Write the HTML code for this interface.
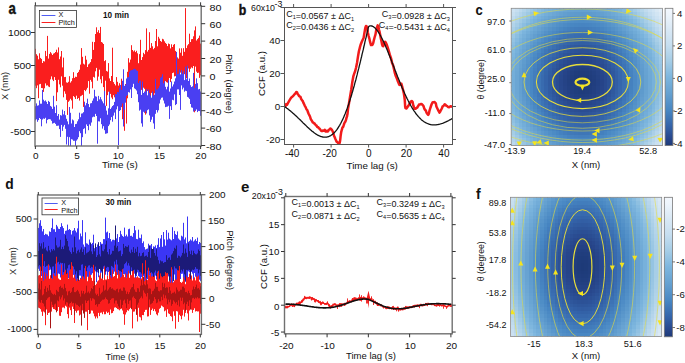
<!DOCTYPE html><html><head><meta charset="utf-8"><style>html,body{margin:0;padding:0;background:#fff;width:685px;height:363px;overflow:hidden}svg{display:block}text{font-family:"Liberation Sans",sans-serif}</style></head><body><svg width="685" height="363" viewBox="0 0 685 363"><clipPath id="ca"><rect x="35.0" y="5.8" width="166.2" height="140.2"/></clipPath><g clip-path="url(#ca)"><path d="M35.5 48.8V85.7M36.5 54.2V88.2M37.5 55.7V85.4M38.5 59.3V98.2M39.5 53.3V84.3M40.5 57.9V83.9M41.5 58.9V88.0M42.5 63.0V88.2M43.5 61.1V91.9M44.5 61.5V88.3M45.5 50.9V83.4M46.5 56.1V85.6M47.5 35.9V85.3M48.5 58.6V86.5M49.5 53.9V87.1M50.5 52.1V79.4M51.5 53.4V76.4M52.5 55.0V79.6M53.5 53.6V81.1M54.5 53.1V77.1M55.5 52.0V80.0M56.5 49.7V101.1M57.5 52.5V92.3M58.5 47.4V79.8M59.5 59.2V84.4M60.5 56.5V87.3M61.5 51.0V76.4M62.5 67.4V85.7M63.5 57.6V97.3M64.5 77.1V91.3M65.5 76.9V93.8M66.5 82.4V99.9M67.5 82.8V114.9M68.5 81.8V101.8M69.5 76.2V100.6M70.5 82.6V98.8M71.5 81.2V100.4M72.5 78.2V108.7M73.5 72.2V96.1M74.5 77.9V97.2M75.5 76.7V99.0M76.5 76.9V95.7M77.5 73.0V99.0M78.5 71.9V98.0M79.5 69.8V100.6M80.5 64.6V96.3M81.5 48.1V95.7M82.5 56.8V94.9M83.5 63.7V106.9M84.5 64.5V90.0M85.5 55.8V91.2M86.5 59.7V89.6M87.5 67.0V87.8M88.5 64.4V81.1M89.5 63.5V93.7M90.5 62.1V79.9M91.5 59.1V81.7M92.5 41.8V88.3M93.5 49.9V76.9M94.5 42.1V77.6M95.5 34.0V71.3M96.5 27.3V67.9M97.5 32.2V80.7M98.5 30.2V76.6M99.5 33.1V69.7M100.5 26.9V79.3M101.5 42.0V83.3M102.5 42.7V76.2M103.5 44.0V87.1M104.5 61.1V96.9M105.5 60.2V80.7M106.5 70.9V105.9M107.5 71.6V95.2M108.5 63.1V91.7M109.5 78.4V93.9M110.5 81.0V93.9M111.5 76.0V97.5M112.5 47.7V99.2M113.5 82.1V95.2M114.5 83.9V97.3M115.5 85.4V98.0M116.5 77.1V99.7M117.5 81.8V99.6M118.5 85.6V100.7M119.5 83.2V97.3M120.5 88.3V100.7M121.5 78.7V107.1M122.5 89.1V119.2M123.5 81.4V100.8M124.5 86.6V130.8M125.5 84.0V102.2M126.5 79.6V123.6M127.5 71.8V98.3M128.5 58.2V84.1M129.5 62.5V77.8M130.5 59.6V76.3M131.5 45.2V78.6M132.5 50.0V84.7M133.5 51.4V71.2M134.5 50.4V75.0M135.5 52.1V79.5M136.5 50.8V85.5M137.5 53.3V84.4M138.5 63.2V94.0M139.5 54.1V89.6M140.5 39.8V96.5M141.5 60.0V89.9M142.5 57.1V99.5M143.5 52.8V87.7M144.5 54.2V88.8M145.5 50.1V114.7M146.5 28.4V95.6M147.5 51.6V91.0M148.5 49.9V95.7M149.5 32.2V94.7M150.5 47.9V105.6M151.5 43.1V92.9M152.5 46.3V109.5M153.5 49.2V96.8M154.5 47.9V93.4M155.5 41.0V98.4M156.5 29.0V99.8M157.5 46.3V106.5M158.5 36.8V88.6M159.5 38.6V86.0M160.5 41.0V95.0M161.5 41.8V87.8M162.5 38.8V87.7M163.5 39.4V83.9M164.5 41.3V85.2M165.5 42.9V81.2M166.5 43.9V82.2M167.5 46.1V82.7M168.5 43.5V82.4M169.5 44.1V78.0M170.5 48.4V82.1M171.5 44.3V78.9M172.5 47.0V73.1M173.5 44.8V72.6M174.5 44.0V76.4M175.5 50.9V76.1M176.5 52.4V93.9M177.5 57.4V75.5M178.5 58.6V75.2M179.5 48.4V72.1M180.5 52.7V72.6M181.5 48.3V76.3M182.5 55.8V75.0M183.5 48.2V74.4M184.5 51.8V74.2M185.5 8.1V68.1M186.5 48.1V78.3M187.5 45.4V69.2M188.5 44.1V68.5M189.5 33.7V71.9M190.5 42.0V68.8M191.5 39.2V67.4M192.5 39.0V68.2M193.5 36.3V66.0M194.5 30.4V112.3M195.5 26.4V66.6M196.5 40.5V71.7M197.5 39.1V73.0M198.5 37.9V72.7M199.5 35.6V77.9M200.5 43.6V75.3" stroke="#fa1e1e" stroke-width="1.0" fill="none"/><path d="M35.5 106.2V120.4M36.5 103.4V119.3M37.5 105.7V121.8M38.5 105.3V120.1M39.5 100.4V118.0M40.5 103.7V119.0M41.5 103.7V126.3M42.5 89.9V119.5M43.5 99.7V118.5M44.5 101.2V118.9M45.5 100.4V117.8M46.5 101.8V123.4M47.5 104.0V119.9M48.5 100.9V119.2M49.5 101.9V119.1M50.5 105.9V119.4M51.5 106.7V120.8M52.5 108.9V123.6M53.5 95.8V123.2M54.5 106.7V122.8M55.5 113.0V123.9M56.5 105.2V125.8M57.5 115.9V125.8M58.5 114.0V125.6M59.5 119.6V129.1M60.5 115.1V136.9M61.5 115.6V124.9M62.5 109.6V130.9M63.5 114.4V126.6M64.5 111.0V124.9M65.5 115.2V128.8M66.5 118.8V144.5M67.5 121.4V136.8M68.5 124.3V148.0M69.5 107.0V137.2M70.5 112.8V152.6M71.5 123.5V139.2M72.5 119.5V139.6M73.5 120.4V140.8M74.5 127.0V140.8M75.5 124.1V146.1M76.5 123.8V140.6M77.5 121.3V139.3M78.5 119.3V137.2M79.5 112.7V131.2M80.5 117.2V133.2M81.5 113.6V151.9M82.5 113.3V137.2M83.5 112.2V129.1M84.5 101.7V128.3M85.5 105.4V133.7M86.5 103.1V124.4M87.5 98.7V126.0M88.5 104.0V130.2M89.5 107.1V124.4M90.5 103.4V125.8M91.5 103.1V122.5M92.5 100.7V117.3M93.5 98.4V116.6M94.5 89.8V116.9M95.5 96.3V113.9M96.5 96.7V116.0M97.5 101.1V143.7M98.5 95.9V121.3M99.5 99.4V121.5M100.5 97.1V118.3M101.5 99.4V124.2M102.5 101.4V128.6M103.5 103.3V126.2M104.5 91.1V130.2M105.5 105.7V133.8M106.5 110.6V133.5M107.5 114.7V133.2M108.5 108.3V126.1M109.5 91.7V124.5M110.5 109.0V120.2M111.5 107.5V117.1M112.5 106.0V121.7M113.5 105.1V115.6M114.5 101.9V112.6M115.5 94.1V119.1M116.5 94.1V109.4M117.5 92.0V106.3M118.5 92.2V145.1M119.5 87.8V111.0M120.5 84.9V110.1M121.5 89.8V106.6M122.5 80.8V103.5M123.5 69.3V126.5M124.5 85.9V109.6M125.5 84.7V102.6M126.5 78.5V96.1M127.5 77.3V95.1M128.5 77.1V92.1M129.5 71.8V92.6M130.5 70.6V89.4M131.5 70.1V98.0M132.5 70.0V87.1M133.5 69.0V83.8M134.5 68.7V88.4M135.5 69.1V89.2M136.5 70.4V90.5M137.5 71.0V94.2M138.5 83.0V102.2M139.5 80.9V110.6M140.5 80.6V109.7M141.5 94.9V123.4M142.5 81.6V126.7M143.5 93.0V111.8M144.5 91.6V112.9M145.5 91.4V111.4M146.5 88.9V113.4M147.5 95.3V110.2M148.5 89.5V109.4M149.5 93.1V115.4M150.5 95.5V121.9M151.5 97.7V119.7M152.5 91.4V116.8M153.5 95.4V123.4M154.5 94.6V128.9M155.5 78.9V113.8M156.5 89.5V110.0M157.5 89.4V112.5M158.5 88.0V110.3M159.5 85.9V103.5M160.5 77.7V99.6M161.5 76.8V97.8M162.5 74.2V97.5M163.5 83.3V100.5M164.5 80.8V103.5M165.5 86.8V107.1M166.5 89.3V106.8M167.5 86.7V106.6M168.5 80.0V105.8M169.5 91.6V118.9M170.5 88.5V106.2M171.5 81.4V110.0M172.5 86.5V99.8M173.5 84.4V100.3M174.5 81.5V94.4M175.5 78.3V105.1M176.5 51.9V104.1M177.5 74.2V89.4M178.5 73.7V89.4M179.5 69.4V95.0M180.5 74.4V109.9M181.5 70.1V85.4M182.5 73.6V89.4M183.5 71.2V87.7M184.5 80.1V91.7M185.5 66.6V90.7M186.5 79.2V91.1M187.5 65.6V96.9M188.5 81.0V97.6M189.5 78.5V98.9M190.5 85.2V104.0M191.5 87.0V107.4M192.5 86.3V107.8M193.5 72.9V111.6M194.5 87.8V110.4M195.5 83.9V111.1M196.5 78.4V109.4M197.5 83.2V112.1M198.5 89.4V110.9M199.5 88.9V111.1M200.5 91.5V115.8" stroke="#4a3ff2" stroke-width="1.0" fill="none"/></g><rect x="35.0" y="5.8" width="166.2" height="140.2" fill="none" stroke="#707070" stroke-width="1.4"/><line x1="35.40" y1="146.00" x2="35.40" y2="149.00" stroke="#333" stroke-width="1"/><line x1="35.40" y1="5.80" x2="35.40" y2="2.30" stroke="#333" stroke-width="1"/><text transform="translate(35.70,158.70) scale(1.12,1)" font-size="8.9" text-anchor="middle" fill="#111">0</text><line x1="76.70" y1="146.00" x2="76.70" y2="149.00" stroke="#333" stroke-width="1"/><line x1="76.70" y1="5.80" x2="76.70" y2="2.30" stroke="#333" stroke-width="1"/><text transform="translate(77.00,158.70) scale(1.12,1)" font-size="8.9" text-anchor="middle" fill="#111">5</text><line x1="118.00" y1="146.00" x2="118.00" y2="149.00" stroke="#333" stroke-width="1"/><line x1="118.00" y1="5.80" x2="118.00" y2="2.30" stroke="#333" stroke-width="1"/><text transform="translate(118.30,158.70) scale(1.12,1)" font-size="8.9" text-anchor="middle" fill="#111">10</text><line x1="159.30" y1="146.00" x2="159.30" y2="149.00" stroke="#333" stroke-width="1"/><line x1="159.30" y1="5.80" x2="159.30" y2="2.30" stroke="#333" stroke-width="1"/><text transform="translate(159.60,158.70) scale(1.12,1)" font-size="8.9" text-anchor="middle" fill="#111">15</text><line x1="200.60" y1="146.00" x2="200.60" y2="149.00" stroke="#333" stroke-width="1"/><line x1="200.60" y1="5.80" x2="200.60" y2="2.30" stroke="#333" stroke-width="1"/><text transform="translate(200.90,158.70) scale(1.12,1)" font-size="8.9" text-anchor="middle" fill="#111">20</text><text x="119.80" y="168.30" font-size="9.9" text-anchor="middle" fill="#111" >Time (s)</text><line x1="31.00" y1="32.50" x2="35.00" y2="32.50" stroke="#333" stroke-width="1"/><text transform="translate(31.00,36.10) scale(1.07,1)" font-size="9.7" text-anchor="end" fill="#111">1000</text><line x1="31.00" y1="65.50" x2="35.00" y2="65.50" stroke="#333" stroke-width="1"/><text transform="translate(31.00,69.10) scale(1.07,1)" font-size="9.7" text-anchor="end" fill="#111">500</text><line x1="31.00" y1="98.50" x2="35.00" y2="98.50" stroke="#333" stroke-width="1"/><text transform="translate(31.00,102.10) scale(1.07,1)" font-size="9.7" text-anchor="end" fill="#111">0</text><line x1="31.00" y1="131.50" x2="35.00" y2="131.50" stroke="#333" stroke-width="1"/><text transform="translate(31.00,135.10) scale(1.07,1)" font-size="9.7" text-anchor="end" fill="#111">-500</text><line x1="201.20" y1="6.30" x2="205.20" y2="6.30" stroke="#333" stroke-width="1"/><text transform="translate(209.50,10.50) scale(1.1,1)" font-size="9.8" text-anchor="start" fill="#111">80</text><line x1="201.20" y1="23.70" x2="205.20" y2="23.70" stroke="#333" stroke-width="1"/><text transform="translate(209.50,27.90) scale(1.1,1)" font-size="9.8" text-anchor="start" fill="#111">60</text><line x1="201.20" y1="41.10" x2="205.20" y2="41.10" stroke="#333" stroke-width="1"/><text transform="translate(209.50,45.30) scale(1.1,1)" font-size="9.8" text-anchor="start" fill="#111">40</text><line x1="201.20" y1="58.50" x2="205.20" y2="58.50" stroke="#333" stroke-width="1"/><text transform="translate(209.50,62.70) scale(1.1,1)" font-size="9.8" text-anchor="start" fill="#111">20</text><line x1="201.20" y1="75.90" x2="205.20" y2="75.90" stroke="#333" stroke-width="1"/><text transform="translate(209.50,80.10) scale(1.1,1)" font-size="9.8" text-anchor="start" fill="#111">0</text><line x1="201.20" y1="93.30" x2="205.20" y2="93.30" stroke="#333" stroke-width="1"/><text transform="translate(206.00,97.50) scale(1.1,1)" font-size="9.8" text-anchor="start" fill="#111">-20</text><line x1="201.20" y1="110.70" x2="205.20" y2="110.70" stroke="#333" stroke-width="1"/><text transform="translate(206.00,114.90) scale(1.1,1)" font-size="9.8" text-anchor="start" fill="#111">-40</text><line x1="201.20" y1="128.10" x2="205.20" y2="128.10" stroke="#333" stroke-width="1"/><text transform="translate(206.00,132.30) scale(1.1,1)" font-size="9.8" text-anchor="start" fill="#111">-60</text><line x1="201.20" y1="145.50" x2="205.20" y2="145.50" stroke="#333" stroke-width="1"/><text transform="translate(206.00,149.70) scale(1.1,1)" font-size="9.8" text-anchor="start" fill="#111">-80</text><text x="0.00" y="0.00" font-size="9.4" text-anchor="middle" fill="#111" transform="translate(8.3,86.0) rotate(-90)">X (nm)</text><text x="0.00" y="0.00" font-size="9.1" text-anchor="middle" fill="#111" transform="translate(226.4,84) rotate(90)">Pitch&#160;&#160;(degree)</text><rect x="39.5" y="10.5" width="37" height="17" fill="#fff" stroke="#333" stroke-width="0.8"/><line x1="41.60" y1="15.50" x2="55.40" y2="15.50" stroke="#4f5cf2" stroke-width="1"/><line x1="41.60" y1="22.50" x2="55.40" y2="22.50" stroke="#fa2020" stroke-width="1"/><text x="58.50" y="16.90" font-size="7.3" text-anchor="start" fill="#111" >X</text><text x="58.50" y="24.50" font-size="7.3" text-anchor="start" fill="#111" >Pitch</text><text x="103.00" y="18.30" font-size="8.2" text-anchor="start" fill="#111" font-weight="bold" >10 min</text><text transform="translate(8.4,13.6) scale(0.82,1)" font-size="16" font-weight="bold" fill="#111" stroke="#111" stroke-width="0.45">a</text><clipPath id="cb"><rect x="284.5" y="7.5" width="168.0" height="137.0"/></clipPath><g clip-path="url(#cb)"><polyline points="285.0,106.2 285.5,106.2 286.2,104.1 287.1,104.8 288.0,103.0 288.9,101.3 289.9,99.7 291.0,97.9 292.0,96.9 293.1,96.1 294.2,94.7 295.2,93.7 296.2,92.1 297.0,92.2 297.7,94.1 298.3,94.6 299.0,96.0 299.7,96.5 300.5,96.8 301.2,99.1 301.9,100.0 302.5,100.9 302.9,101.4 303.4,102.8 304.0,103.9 304.8,105.8 305.6,107.1 306.5,109.4 307.3,110.1 308.0,112.3 308.7,114.0 309.3,115.1 310.0,116.5 310.7,118.9 311.3,120.0 312.0,120.9 312.6,122.2 313.2,122.4 313.8,123.2 314.4,123.2 315.0,124.1 315.7,125.2 316.4,125.4 317.2,126.9 318.0,126.9 318.9,128.3 319.8,128.9 320.8,130.4 321.6,131.0 322.3,130.9 322.8,130.5 323.4,130.8 324.0,130.6 324.7,129.8 325.5,131.5 326.3,130.8 327.0,131.6 327.6,131.6 328.1,131.2 328.5,130.1 329.0,129.7 329.5,129.6 330.0,128.8 330.4,128.5 330.9,129.0 331.3,129.4 331.7,129.5 332.1,130.2 332.5,131.0 332.9,131.8 333.2,132.9 333.6,133.9 334.0,135.8 334.5,136.6 334.9,137.8 335.4,139.0 336.0,140.2 336.6,141.7 337.3,142.1 338.0,142.9 338.6,143.6 339.0,143.1 339.4,143.6 339.7,142.6 340.0,141.3 340.3,139.1 340.5,137.1 340.8,134.7 341.2,132.1 341.8,129.8 342.5,127.4 343.2,126.8 343.9,124.5 344.6,122.6 345.3,121.8 346.0,119.9 346.6,117.4 347.0,116.5 347.2,115.2 347.5,113.9 348.0,109.1 348.9,103.9 350.1,96.4 351.3,89.2 352.4,81.5 353.4,76.1 354.3,73.4 355.2,71.0 356.1,67.5 357.0,63.0 357.9,57.1 358.9,51.3 359.8,47.7 360.8,44.2 361.8,41.7 362.7,39.8 363.6,38.0 364.3,33.8 364.9,30.1 365.4,27.4 366.0,26.0 366.6,26.4 367.2,28.6 367.8,32.2 368.5,35.5 369.3,38.3 370.1,41.9 371.0,45.1 371.8,45.1 372.6,44.6 373.3,42.8 374.0,39.6 374.7,37.0 375.5,34.4 376.2,30.2 377.0,27.5 377.7,25.4 378.4,26.6 379.0,29.8 379.6,31.9 380.2,35.0 380.8,38.2 381.4,41.0 382.1,44.5 382.7,46.1 383.3,46.2 384.0,44.2 384.6,42.3 385.2,41.8 385.8,42.5 386.3,43.9 386.9,45.1 387.6,47.1 388.6,50.3 389.8,54.7 391.0,58.1 392.1,62.9 393.1,65.3 394.0,69.1 394.9,73.2 395.8,76.0 396.7,78.1 397.7,80.9 398.5,82.7 399.3,84.8 399.9,84.9 400.4,83.6 400.8,83.6 401.4,83.8 402.1,86.3 403.0,89.7 403.8,93.1 404.4,97.0 404.8,100.3 405.0,103.6 405.2,106.8 405.5,108.1 405.9,108.2 406.3,108.5 406.8,108.0 407.5,107.0 408.4,105.8 409.5,103.8 410.7,101.6 411.7,101.0 412.6,101.9 413.3,105.4 414.0,107.5 414.8,108.7 415.6,108.7 416.3,108.1 417.1,107.7 418.0,106.3 419.0,104.5 420.0,104.4 421.1,104.0 422.0,104.3 422.8,105.1 423.6,106.3 424.3,108.6 425.0,109.8 425.8,110.5 426.6,112.8 427.4,113.9 428.2,114.8 428.9,113.6 429.6,110.3 430.3,108.2 431.0,106.0 431.8,103.8 432.7,102.2 433.6,102.2 434.4,102.1 435.1,102.6 435.8,103.3 436.4,106.4 437.0,107.7 437.6,109.0 438.3,110.6 438.9,111.4 439.5,112.6 440.1,111.8 440.7,110.4 441.4,109.3 442.0,108.0 442.6,106.4 443.3,106.1 444.0,105.2 444.7,104.2 445.5,104.8 446.2,105.8 447.1,105.9 448.0,107.1 449.1,107.3 450.5,106.3 451.7,106.5 452.5,107.0" fill="none" stroke="#f21b1b" stroke-width="2.5" stroke-linejoin="round" /><polyline points="284.6,106.7 285.2,107.0 285.7,107.4 286.3,107.8 286.8,108.2 287.4,108.6 288.0,109.1 288.5,109.5 289.1,109.9 289.7,110.4 290.2,110.8 290.8,111.3 291.3,111.8 291.9,112.2 292.5,112.7 293.0,113.2 293.6,113.7 294.2,114.2 294.7,114.7 295.3,115.2 295.8,115.8 296.4,116.3 297.0,116.8 297.5,117.4 298.1,117.9 298.6,118.4 299.2,119.0 299.8,119.5 300.3,120.1 300.9,120.6 301.5,121.2 302.0,121.8 302.6,122.3 303.1,122.9 303.7,123.4 304.3,124.0 304.8,124.5 305.4,125.1 306.0,125.6 306.5,126.1 307.1,126.7 307.6,127.2 308.2,127.7 308.8,128.3 309.3,128.8 309.9,129.3 310.4,129.8 311.0,130.2 311.6,130.7 312.1,131.2 312.7,131.6 313.3,132.1 313.8,132.5 314.4,132.9 314.9,133.3 315.5,133.7 316.1,134.1 316.6,134.4 317.2,134.8 317.8,135.1 318.3,135.4 318.9,135.7 319.4,135.9 320.0,136.2 320.6,136.4 321.1,136.6 321.7,136.7 322.2,136.9 322.8,137.0 323.4,137.1 323.9,137.2 324.5,137.2 325.1,137.2 325.6,137.2 326.2,137.1 326.7,137.1 327.3,136.9 327.9,136.8 328.4,136.6 329.0,136.4 329.5,136.2 330.1,135.9 330.7,135.6 331.2,135.2 331.8,134.8 332.4,134.4 332.9,134.0 333.5,133.5 334.0,132.9 334.6,132.3 335.2,131.7 335.7,131.1 336.3,130.4 336.9,129.6 337.4,128.8 338.0,128.0 338.5,127.1 339.1,126.2 339.7,125.3 340.2,124.3 340.8,123.2 341.3,122.2 341.9,121.0 342.5,119.9 343.0,118.7 343.6,117.4 344.2,116.1 344.7,114.7 345.3,113.4 345.8,111.9 346.4,110.4 347.0,108.9 347.5,107.4 348.1,105.8 348.7,104.1 349.2,102.4 349.8,100.7 350.3,98.9 350.9,97.1 351.5,95.3 352.0,93.4 352.6,91.5 353.1,89.5 353.7,87.5 354.3,85.5 354.8,83.4 355.4,81.3 356.0,79.2 356.5,77.1 357.1,74.9 357.6,72.7 358.2,70.4 358.8,68.2 359.3,65.9 359.9,63.6 360.5,61.2 361.0,58.9 361.6,56.5 362.1,54.2 362.7,51.8 363.3,49.4 363.8,47.0 364.4,44.5 364.9,42.1 365.5,39.7 366.1,37.3 366.6,34.8 367.2,32.4 367.8,30.0 368.3,27.6 368.9,26.3 369.4,26.1 370.0,25.9 370.6,25.9 371.1,25.9 371.7,26.0 372.3,26.1 372.8,26.4 373.4,26.7 373.9,27.1 374.5,27.5 375.1,28.0 375.6,28.6 376.2,29.2 376.7,29.8 377.3,30.6 377.9,31.4 378.4,32.2 379.0,33.1 379.6,34.0 380.1,35.0 380.7,36.0 381.2,37.0 381.8,38.1 382.4,39.2 382.9,40.4 383.5,41.6 384.1,42.8 384.6,44.0 385.2,45.3 385.7,46.6 386.3,47.9 386.9,49.3 387.4,50.6 388.0,52.0 388.5,53.4 389.1,54.8 389.7,56.2 390.2,57.6 390.8,59.1 391.4,60.5 391.9,61.9 392.5,63.4 393.0,64.8 393.6,66.3 394.2,67.8 394.7,69.2 395.3,70.7 395.9,72.1 396.4,73.6 397.0,75.0 397.5,76.4 398.1,77.8 398.7,79.2 399.2,80.6 399.8,82.0 400.3,83.4 400.9,84.8 401.5,86.1 402.0,87.4 402.6,88.8 403.2,90.0 403.7,91.3 404.3,92.6 404.8,93.8 405.4,95.0 406.0,96.2 406.5,97.4 407.1,98.6 407.7,99.7 408.2,100.8 408.8,101.9 409.3,103.0 409.9,104.0 410.5,105.0 411.0,106.0 411.6,107.0 412.1,107.9 412.7,108.8 413.3,109.7 413.8,110.6 414.4,111.4 415.0,112.2 415.5,113.0 416.1,113.8 416.6,114.5 417.2,115.2 417.8,115.9 418.3,116.5 418.9,117.1 419.4,117.7 420.0,118.3 420.6,118.9 421.1,119.4 421.7,119.9 422.3,120.4 422.8,120.8 423.4,121.2 423.9,121.6 424.5,122.0 425.1,122.3 425.6,122.7 426.2,123.0 426.8,123.2 427.3,123.5 427.9,123.7 428.4,123.9 429.0,124.1 429.6,124.3 430.1,124.5 430.7,124.6 431.2,124.7 431.8,124.8 432.4,124.8 432.9,124.9 433.5,124.9 434.1,124.9 434.6,124.9 435.2,124.9 435.7,124.9 436.3,124.8 436.9,124.7 437.4,124.7 438.0,124.6 438.6,124.4 439.1,124.3 439.7,124.2 440.2,124.0 440.8,123.8 441.4,123.7 441.9,123.5 442.5,123.3 443.0,123.1 443.6,122.8 444.2,122.6 444.7,122.4 445.3,122.1 445.9,121.9 446.4,121.6 447.0,121.3 447.5,121.1 448.1,120.8 448.7,120.5 449.2,120.2 449.8,119.9 450.4,119.6 450.9,119.3 451.5,119.0 452.0,118.6 452.6,118.3" fill="none" stroke="#111" stroke-width="1.3" stroke-linejoin="round" /></g><rect x="284.5" y="7.5" width="168.0" height="137.0" fill="none" stroke="#555" stroke-width="1"/><line x1="293.60" y1="144.50" x2="293.60" y2="147.50" stroke="#555" stroke-width="1"/><line x1="293.60" y1="7.50" x2="293.60" y2="4.00" stroke="#555" stroke-width="1"/><text x="292.20" y="156.60" font-size="10" text-anchor="middle" fill="#111" >-40</text><line x1="331.10" y1="144.50" x2="331.10" y2="147.50" stroke="#555" stroke-width="1"/><line x1="331.10" y1="7.50" x2="331.10" y2="4.00" stroke="#555" stroke-width="1"/><text x="329.70" y="156.60" font-size="10" text-anchor="middle" fill="#111" >-20</text><line x1="368.60" y1="144.50" x2="368.60" y2="147.50" stroke="#555" stroke-width="1"/><line x1="368.60" y1="7.50" x2="368.60" y2="4.00" stroke="#555" stroke-width="1"/><text x="368.90" y="156.60" font-size="10" text-anchor="middle" fill="#111" >0</text><line x1="406.10" y1="144.50" x2="406.10" y2="147.50" stroke="#555" stroke-width="1"/><line x1="406.10" y1="7.50" x2="406.10" y2="4.00" stroke="#555" stroke-width="1"/><text x="406.40" y="156.60" font-size="10" text-anchor="middle" fill="#111" >20</text><line x1="443.60" y1="144.50" x2="443.60" y2="147.50" stroke="#555" stroke-width="1"/><line x1="443.60" y1="7.50" x2="443.60" y2="4.00" stroke="#555" stroke-width="1"/><text x="443.90" y="156.60" font-size="10" text-anchor="middle" fill="#111" >40</text><text x="372.20" y="169.40" font-size="9.8" text-anchor="middle" fill="#111" >Time lag (s)</text><line x1="280.50" y1="7.50" x2="284.50" y2="7.50" stroke="#555" stroke-width="1"/><line x1="452.50" y1="7.50" x2="456.00" y2="7.50" stroke="#555" stroke-width="1"/><line x1="280.50" y1="40.50" x2="284.50" y2="40.50" stroke="#555" stroke-width="1"/><line x1="452.50" y1="40.50" x2="456.00" y2="40.50" stroke="#555" stroke-width="1"/><text transform="translate(280.20,43.70) scale(1.15,1)" font-size="8.6" text-anchor="end" fill="#111">40</text><line x1="280.50" y1="73.50" x2="284.50" y2="73.50" stroke="#555" stroke-width="1"/><line x1="452.50" y1="73.50" x2="456.00" y2="73.50" stroke="#555" stroke-width="1"/><text transform="translate(280.20,76.70) scale(1.15,1)" font-size="8.6" text-anchor="end" fill="#111">20</text><line x1="280.50" y1="106.50" x2="284.50" y2="106.50" stroke="#555" stroke-width="1"/><line x1="452.50" y1="106.50" x2="456.00" y2="106.50" stroke="#555" stroke-width="1"/><text transform="translate(280.20,109.70) scale(1.15,1)" font-size="8.6" text-anchor="end" fill="#111">0</text><line x1="280.50" y1="139.50" x2="284.50" y2="139.50" stroke="#555" stroke-width="1"/><line x1="452.50" y1="139.50" x2="456.00" y2="139.50" stroke="#555" stroke-width="1"/><text transform="translate(280.20,142.70) scale(1.15,1)" font-size="8.6" text-anchor="end" fill="#111">-20</text><text x="251.00" y="10.90" font-size="8.8" text-anchor="start" fill="#111" >60x10</text><text x="274.50" y="7.30" font-size="8.8" text-anchor="start" fill="#111" >-3</text><text x="0.00" y="0.00" font-size="9.6" text-anchor="middle" fill="#111" transform="translate(264.8,73.5) rotate(-90)">CCF (a.u.)</text><text x="286.2" y="16.7" font-size="9" text-anchor="start" fill="#111">C<tspan font-size="5.6" dy="1.9">1</tspan><tspan dy="-1.9"></tspan>=0.0567 ± ΔC<tspan font-size="5.6" dy="1.9">1</tspan><tspan dy="-1.9"></tspan></text><text x="286.2" y="28.1" font-size="9" text-anchor="start" fill="#111">C<tspan font-size="5.6" dy="1.9">2</tspan><tspan dy="-1.9"></tspan>=0.0436 ± ΔC<tspan font-size="5.6" dy="1.9">2</tspan><tspan dy="-1.9"></tspan></text><text x="449.8" y="16.7" font-size="9" text-anchor="end" fill="#111">C<tspan font-size="5.6" dy="1.9">3</tspan><tspan dy="-1.9"></tspan>=0.0928 ± ΔC<tspan font-size="5.6" dy="1.9">3</tspan><tspan dy="-1.9"></tspan></text><text x="449.8" y="28.1" font-size="9" text-anchor="end" fill="#111">C<tspan font-size="5.6" dy="1.9">4</tspan><tspan dy="-1.9"></tspan>=-0.5431 ± ΔC<tspan font-size="5.6" dy="1.9">4</tspan><tspan dy="-1.9"></tspan></text><text transform="translate(238.8,14.6) scale(0.82,1)" font-size="15" font-weight="bold" fill="#111" stroke="#111" stroke-width="0.45">b</text><clipPath id="chc"><rect x="511.2" y="8.3" width="151.40000000000003" height="137.29999999999998"/></clipPath><g clip-path="url(#chc)" shape-rendering="crispEdges"><rect x="511.2" y="8.3" width="4.3" height="4.3" fill="#cde2f2"/><rect x="514.9" y="8.3" width="4.3" height="4.3" fill="#c6def0"/><rect x="518.6" y="8.3" width="4.3" height="4.3" fill="#bcd9ed"/><rect x="522.3" y="8.3" width="4.3" height="4.3" fill="#b2d4ea"/><rect x="526.0" y="8.3" width="4.3" height="4.3" fill="#a8cfe7"/><rect x="529.7" y="8.3" width="4.3" height="4.3" fill="#9ec9e5"/><rect x="533.4" y="8.3" width="4.3" height="4.3" fill="#94c3e3"/><rect x="537.0" y="8.3" width="4.3" height="4.3" fill="#8bbee1"/><rect x="540.7" y="8.3" width="4.3" height="4.3" fill="#82b9df"/><rect x="544.4" y="8.3" width="4.3" height="4.3" fill="#7bb4dd"/><rect x="548.1" y="8.3" width="4.3" height="4.3" fill="#77b1db"/><rect x="551.8" y="8.3" width="4.3" height="4.3" fill="#73add8"/><rect x="555.5" y="8.3" width="4.3" height="4.3" fill="#70aad6"/><rect x="559.2" y="8.3" width="4.3" height="4.3" fill="#6da8d5"/><rect x="562.9" y="8.3" width="4.3" height="4.3" fill="#6aa5d3"/><rect x="566.6" y="8.3" width="4.3" height="4.3" fill="#68a4d2"/><rect x="570.3" y="8.3" width="4.3" height="4.3" fill="#67a2d1"/><rect x="574.0" y="8.3" width="4.3" height="4.3" fill="#66a1d1"/><rect x="577.7" y="8.3" width="4.3" height="4.3" fill="#65a1d1"/><rect x="581.4" y="8.3" width="4.3" height="4.3" fill="#65a1d0"/><rect x="585.1" y="8.3" width="4.3" height="4.3" fill="#65a1d1"/><rect x="588.7" y="8.3" width="4.3" height="4.3" fill="#66a2d1"/><rect x="592.4" y="8.3" width="4.3" height="4.3" fill="#67a3d2"/><rect x="596.1" y="8.3" width="4.3" height="4.3" fill="#69a4d3"/><rect x="599.8" y="8.3" width="4.3" height="4.3" fill="#6ba6d4"/><rect x="603.5" y="8.3" width="4.3" height="4.3" fill="#6ea9d6"/><rect x="607.2" y="8.3" width="4.3" height="4.3" fill="#71abd7"/><rect x="610.9" y="8.3" width="4.3" height="4.3" fill="#75afd9"/><rect x="614.6" y="8.3" width="4.3" height="4.3" fill="#79b2dc"/><rect x="618.3" y="8.3" width="4.3" height="4.3" fill="#7db6de"/><rect x="622.0" y="8.3" width="4.3" height="4.3" fill="#85bbe0"/><rect x="625.7" y="8.3" width="4.3" height="4.3" fill="#8fc0e2"/><rect x="629.4" y="8.3" width="4.3" height="4.3" fill="#98c6e3"/><rect x="633.1" y="8.3" width="4.3" height="4.3" fill="#a3cce6"/><rect x="636.8" y="8.3" width="4.3" height="4.3" fill="#add1e8"/><rect x="640.4" y="8.3" width="4.3" height="4.3" fill="#b6d6eb"/><rect x="644.1" y="8.3" width="4.3" height="4.3" fill="#c1dbee"/><rect x="647.8" y="8.3" width="4.3" height="4.3" fill="#c9e0f1"/><rect x="651.5" y="8.3" width="4.3" height="4.3" fill="#d0e4f3"/><rect x="655.2" y="8.3" width="4.3" height="4.3" fill="#d8e8f4"/><rect x="658.9" y="8.3" width="4.3" height="4.3" fill="#e0ecf7"/><rect x="511.2" y="12.0" width="4.3" height="4.3" fill="#c8dff0"/><rect x="514.9" y="12.0" width="4.3" height="4.3" fill="#bedaed"/><rect x="518.6" y="12.0" width="4.3" height="4.3" fill="#b3d4ea"/><rect x="522.3" y="12.0" width="4.3" height="4.3" fill="#a9cfe7"/><rect x="526.0" y="12.0" width="4.3" height="4.3" fill="#9ec9e5"/><rect x="529.7" y="12.0" width="4.3" height="4.3" fill="#93c3e2"/><rect x="533.4" y="12.0" width="4.3" height="4.3" fill="#89bde0"/><rect x="537.0" y="12.0" width="4.3" height="4.3" fill="#7fb7de"/><rect x="540.7" y="12.0" width="4.3" height="4.3" fill="#79b3dc"/><rect x="544.4" y="12.0" width="4.3" height="4.3" fill="#74aed9"/><rect x="548.1" y="12.0" width="4.3" height="4.3" fill="#70abd7"/><rect x="551.8" y="12.0" width="4.3" height="4.3" fill="#6ca7d5"/><rect x="555.5" y="12.0" width="4.3" height="4.3" fill="#69a4d3"/><rect x="559.2" y="12.0" width="4.3" height="4.3" fill="#66a2d1"/><rect x="562.9" y="12.0" width="4.3" height="4.3" fill="#639fd0"/><rect x="566.6" y="12.0" width="4.3" height="4.3" fill="#619dce"/><rect x="570.3" y="12.0" width="4.3" height="4.3" fill="#5f9bce"/><rect x="574.0" y="12.0" width="4.3" height="4.3" fill="#5e9acd"/><rect x="577.7" y="12.0" width="4.3" height="4.3" fill="#5d9acd"/><rect x="581.4" y="12.0" width="4.3" height="4.3" fill="#5d99cd"/><rect x="585.1" y="12.0" width="4.3" height="4.3" fill="#5d9acd"/><rect x="588.7" y="12.0" width="4.3" height="4.3" fill="#5e9bcd"/><rect x="592.4" y="12.0" width="4.3" height="4.3" fill="#609cce"/><rect x="596.1" y="12.0" width="4.3" height="4.3" fill="#629ecf"/><rect x="599.8" y="12.0" width="4.3" height="4.3" fill="#64a0d0"/><rect x="603.5" y="12.0" width="4.3" height="4.3" fill="#67a3d2"/><rect x="607.2" y="12.0" width="4.3" height="4.3" fill="#6aa5d3"/><rect x="610.9" y="12.0" width="4.3" height="4.3" fill="#6ea9d5"/><rect x="614.6" y="12.0" width="4.3" height="4.3" fill="#72acd8"/><rect x="618.3" y="12.0" width="4.3" height="4.3" fill="#76b0da"/><rect x="622.0" y="12.0" width="4.3" height="4.3" fill="#7bb4dd"/><rect x="625.7" y="12.0" width="4.3" height="4.3" fill="#83badf"/><rect x="629.4" y="12.0" width="4.3" height="4.3" fill="#8dbfe1"/><rect x="633.1" y="12.0" width="4.3" height="4.3" fill="#98c5e3"/><rect x="636.8" y="12.0" width="4.3" height="4.3" fill="#a3cce6"/><rect x="640.4" y="12.0" width="4.3" height="4.3" fill="#add1e8"/><rect x="644.1" y="12.0" width="4.3" height="4.3" fill="#b8d7ec"/><rect x="647.8" y="12.0" width="4.3" height="4.3" fill="#c3dcef"/><rect x="651.5" y="12.0" width="4.3" height="4.3" fill="#cbe1f1"/><rect x="655.2" y="12.0" width="4.3" height="4.3" fill="#d2e5f3"/><rect x="658.9" y="12.0" width="4.3" height="4.3" fill="#dae9f5"/><rect x="511.2" y="15.7" width="4.3" height="4.3" fill="#c0dbee"/><rect x="514.9" y="15.7" width="4.3" height="4.3" fill="#b5d5eb"/><rect x="518.6" y="15.7" width="4.3" height="4.3" fill="#aad0e8"/><rect x="522.3" y="15.7" width="4.3" height="4.3" fill="#9fcae5"/><rect x="526.0" y="15.7" width="4.3" height="4.3" fill="#93c3e2"/><rect x="529.7" y="15.7" width="4.3" height="4.3" fill="#88bce0"/><rect x="533.4" y="15.7" width="4.3" height="4.3" fill="#7eb6de"/><rect x="537.0" y="15.7" width="4.3" height="4.3" fill="#78b1db"/><rect x="540.7" y="15.7" width="4.3" height="4.3" fill="#73add8"/><rect x="544.4" y="15.7" width="4.3" height="4.3" fill="#6ea9d6"/><rect x="548.1" y="15.7" width="4.3" height="4.3" fill="#69a5d3"/><rect x="551.8" y="15.7" width="4.3" height="4.3" fill="#66a1d1"/><rect x="555.5" y="15.7" width="4.3" height="4.3" fill="#629ecf"/><rect x="559.2" y="15.7" width="4.3" height="4.3" fill="#5e9bcd"/><rect x="562.9" y="15.7" width="4.3" height="4.3" fill="#5b98cc"/><rect x="566.6" y="15.7" width="4.3" height="4.3" fill="#5996cb"/><rect x="570.3" y="15.7" width="4.3" height="4.3" fill="#5794ca"/><rect x="574.0" y="15.7" width="4.3" height="4.3" fill="#5693c9"/><rect x="577.7" y="15.7" width="4.3" height="4.3" fill="#5593c9"/><rect x="581.4" y="15.7" width="4.3" height="4.3" fill="#5592c9"/><rect x="585.1" y="15.7" width="4.3" height="4.3" fill="#5593c9"/><rect x="588.7" y="15.7" width="4.3" height="4.3" fill="#5694ca"/><rect x="592.4" y="15.7" width="4.3" height="4.3" fill="#5895ca"/><rect x="596.1" y="15.7" width="4.3" height="4.3" fill="#5a97cb"/><rect x="599.8" y="15.7" width="4.3" height="4.3" fill="#5c99cd"/><rect x="603.5" y="15.7" width="4.3" height="4.3" fill="#609cce"/><rect x="607.2" y="15.7" width="4.3" height="4.3" fill="#64a0d0"/><rect x="610.9" y="15.7" width="4.3" height="4.3" fill="#67a3d2"/><rect x="614.6" y="15.7" width="4.3" height="4.3" fill="#6ba6d4"/><rect x="618.3" y="15.7" width="4.3" height="4.3" fill="#70aad7"/><rect x="622.0" y="15.7" width="4.3" height="4.3" fill="#75afd9"/><rect x="625.7" y="15.7" width="4.3" height="4.3" fill="#7ab4dc"/><rect x="629.4" y="15.7" width="4.3" height="4.3" fill="#82b9df"/><rect x="633.1" y="15.7" width="4.3" height="4.3" fill="#8dbfe1"/><rect x="636.8" y="15.7" width="4.3" height="4.3" fill="#98c6e3"/><rect x="640.4" y="15.7" width="4.3" height="4.3" fill="#a4cde6"/><rect x="644.1" y="15.7" width="4.3" height="4.3" fill="#afd2e9"/><rect x="647.8" y="15.7" width="4.3" height="4.3" fill="#bad8ec"/><rect x="651.5" y="15.7" width="4.3" height="4.3" fill="#c5def0"/><rect x="655.2" y="15.7" width="4.3" height="4.3" fill="#cde2f2"/><rect x="658.9" y="15.7" width="4.3" height="4.3" fill="#d5e6f4"/><rect x="511.2" y="19.4" width="4.3" height="4.3" fill="#b8d7ec"/><rect x="514.9" y="19.4" width="4.3" height="4.3" fill="#add1e8"/><rect x="518.6" y="19.4" width="4.3" height="4.3" fill="#a1cbe5"/><rect x="522.3" y="19.4" width="4.3" height="4.3" fill="#95c4e3"/><rect x="526.0" y="19.4" width="4.3" height="4.3" fill="#89bde0"/><rect x="529.7" y="19.4" width="4.3" height="4.3" fill="#7eb7de"/><rect x="533.4" y="19.4" width="4.3" height="4.3" fill="#77b1db"/><rect x="537.0" y="19.4" width="4.3" height="4.3" fill="#72acd8"/><rect x="540.7" y="19.4" width="4.3" height="4.3" fill="#6ca7d5"/><rect x="544.4" y="19.4" width="4.3" height="4.3" fill="#68a3d2"/><rect x="548.1" y="19.4" width="4.3" height="4.3" fill="#639fd0"/><rect x="551.8" y="19.4" width="4.3" height="4.3" fill="#5e9bcd"/><rect x="555.5" y="19.4" width="4.3" height="4.3" fill="#5a97cc"/><rect x="559.2" y="19.4" width="4.3" height="4.3" fill="#5794ca"/><rect x="562.9" y="19.4" width="4.3" height="4.3" fill="#5492c8"/><rect x="566.6" y="19.4" width="4.3" height="4.3" fill="#518fc7"/><rect x="570.3" y="19.4" width="4.3" height="4.3" fill="#4f8ec6"/><rect x="574.0" y="19.4" width="4.3" height="4.3" fill="#4e8cc6"/><rect x="577.7" y="19.4" width="4.3" height="4.3" fill="#4d8cc5"/><rect x="581.4" y="19.4" width="4.3" height="4.3" fill="#4d8cc5"/><rect x="585.1" y="19.4" width="4.3" height="4.3" fill="#4e8cc6"/><rect x="588.7" y="19.4" width="4.3" height="4.3" fill="#4f8dc6"/><rect x="592.4" y="19.4" width="4.3" height="4.3" fill="#508ec7"/><rect x="596.1" y="19.4" width="4.3" height="4.3" fill="#5290c8"/><rect x="599.8" y="19.4" width="4.3" height="4.3" fill="#5593c9"/><rect x="603.5" y="19.4" width="4.3" height="4.3" fill="#5896cb"/><rect x="607.2" y="19.4" width="4.3" height="4.3" fill="#5c99cc"/><rect x="610.9" y="19.4" width="4.3" height="4.3" fill="#609dce"/><rect x="614.6" y="19.4" width="4.3" height="4.3" fill="#65a1d1"/><rect x="618.3" y="19.4" width="4.3" height="4.3" fill="#6aa5d3"/><rect x="622.0" y="19.4" width="4.3" height="4.3" fill="#6fa9d6"/><rect x="625.7" y="19.4" width="4.3" height="4.3" fill="#74aed9"/><rect x="629.4" y="19.4" width="4.3" height="4.3" fill="#7ab3dc"/><rect x="633.1" y="19.4" width="4.3" height="4.3" fill="#83b9df"/><rect x="636.8" y="19.4" width="4.3" height="4.3" fill="#8ec0e1"/><rect x="640.4" y="19.4" width="4.3" height="4.3" fill="#9ac7e4"/><rect x="644.1" y="19.4" width="4.3" height="4.3" fill="#a7cee7"/><rect x="647.8" y="19.4" width="4.3" height="4.3" fill="#b2d4ea"/><rect x="651.5" y="19.4" width="4.3" height="4.3" fill="#bddaed"/><rect x="655.2" y="19.4" width="4.3" height="4.3" fill="#c8dff1"/><rect x="658.9" y="19.4" width="4.3" height="4.3" fill="#d0e3f2"/><rect x="511.2" y="23.1" width="4.3" height="4.3" fill="#b1d3ea"/><rect x="514.9" y="23.1" width="4.3" height="4.3" fill="#a5cde6"/><rect x="518.6" y="23.1" width="4.3" height="4.3" fill="#98c5e3"/><rect x="522.3" y="23.1" width="4.3" height="4.3" fill="#8bbee1"/><rect x="526.0" y="23.1" width="4.3" height="4.3" fill="#7fb7de"/><rect x="529.7" y="23.1" width="4.3" height="4.3" fill="#78b1db"/><rect x="533.4" y="23.1" width="4.3" height="4.3" fill="#72acd8"/><rect x="537.0" y="23.1" width="4.3" height="4.3" fill="#6ca7d4"/><rect x="540.7" y="23.1" width="4.3" height="4.3" fill="#67a2d2"/><rect x="544.4" y="23.1" width="4.3" height="4.3" fill="#619ecf"/><rect x="548.1" y="23.1" width="4.3" height="4.3" fill="#5c99cc"/><rect x="551.8" y="23.1" width="4.3" height="4.3" fill="#5795ca"/><rect x="555.5" y="23.1" width="4.3" height="4.3" fill="#5391c8"/><rect x="559.2" y="23.1" width="4.3" height="4.3" fill="#508ec7"/><rect x="562.9" y="23.1" width="4.3" height="4.3" fill="#4d8bc5"/><rect x="566.6" y="23.1" width="4.3" height="4.3" fill="#4a89c4"/><rect x="570.3" y="23.1" width="4.3" height="4.3" fill="#4887c3"/><rect x="574.0" y="23.1" width="4.3" height="4.3" fill="#4786c2"/><rect x="577.7" y="23.1" width="4.3" height="4.3" fill="#4785c1"/><rect x="581.4" y="23.1" width="4.3" height="4.3" fill="#4784c1"/><rect x="585.1" y="23.1" width="4.3" height="4.3" fill="#4785c2"/><rect x="588.7" y="23.1" width="4.3" height="4.3" fill="#4886c2"/><rect x="592.4" y="23.1" width="4.3" height="4.3" fill="#4988c3"/><rect x="596.1" y="23.1" width="4.3" height="4.3" fill="#4b8ac4"/><rect x="599.8" y="23.1" width="4.3" height="4.3" fill="#4e8cc6"/><rect x="603.5" y="23.1" width="4.3" height="4.3" fill="#518fc7"/><rect x="607.2" y="23.1" width="4.3" height="4.3" fill="#5593c9"/><rect x="610.9" y="23.1" width="4.3" height="4.3" fill="#5997cb"/><rect x="614.6" y="23.1" width="4.3" height="4.3" fill="#5e9bcd"/><rect x="618.3" y="23.1" width="4.3" height="4.3" fill="#64a0d0"/><rect x="622.0" y="23.1" width="4.3" height="4.3" fill="#69a4d3"/><rect x="625.7" y="23.1" width="4.3" height="4.3" fill="#6ea9d6"/><rect x="629.4" y="23.1" width="4.3" height="4.3" fill="#74aed9"/><rect x="633.1" y="23.1" width="4.3" height="4.3" fill="#7bb4dd"/><rect x="636.8" y="23.1" width="4.3" height="4.3" fill="#85bae0"/><rect x="640.4" y="23.1" width="4.3" height="4.3" fill="#91c1e2"/><rect x="644.1" y="23.1" width="4.3" height="4.3" fill="#9ec9e5"/><rect x="647.8" y="23.1" width="4.3" height="4.3" fill="#aad0e8"/><rect x="651.5" y="23.1" width="4.3" height="4.3" fill="#b6d6eb"/><rect x="655.2" y="23.1" width="4.3" height="4.3" fill="#c2dcef"/><rect x="658.9" y="23.1" width="4.3" height="4.3" fill="#cbe1f1"/><rect x="511.2" y="26.9" width="4.3" height="4.3" fill="#a9cfe7"/><rect x="514.9" y="26.9" width="4.3" height="4.3" fill="#9cc8e4"/><rect x="518.6" y="26.9" width="4.3" height="4.3" fill="#8fc0e2"/><rect x="522.3" y="26.9" width="4.3" height="4.3" fill="#82b9df"/><rect x="526.0" y="26.9" width="4.3" height="4.3" fill="#79b3dc"/><rect x="529.7" y="26.9" width="4.3" height="4.3" fill="#73add8"/><rect x="533.4" y="26.9" width="4.3" height="4.3" fill="#6ca7d5"/><rect x="537.0" y="26.9" width="4.3" height="4.3" fill="#67a2d1"/><rect x="540.7" y="26.9" width="4.3" height="4.3" fill="#619dce"/><rect x="544.4" y="26.9" width="4.3" height="4.3" fill="#5b98cc"/><rect x="548.1" y="26.9" width="4.3" height="4.3" fill="#5693c9"/><rect x="551.8" y="26.9" width="4.3" height="4.3" fill="#518fc7"/><rect x="555.5" y="26.9" width="4.3" height="4.3" fill="#4d8bc5"/><rect x="559.2" y="26.9" width="4.3" height="4.3" fill="#4988c3"/><rect x="562.9" y="26.9" width="4.3" height="4.3" fill="#4684c1"/><rect x="566.6" y="26.9" width="4.3" height="4.3" fill="#4581bf"/><rect x="570.3" y="26.9" width="4.3" height="4.3" fill="#437fbd"/><rect x="574.0" y="26.9" width="4.3" height="4.3" fill="#427dbc"/><rect x="577.7" y="26.9" width="4.3" height="4.3" fill="#427cbb"/><rect x="581.4" y="26.9" width="4.3" height="4.3" fill="#427cbb"/><rect x="585.1" y="26.9" width="4.3" height="4.3" fill="#427cbb"/><rect x="588.7" y="26.9" width="4.3" height="4.3" fill="#437ebc"/><rect x="592.4" y="26.9" width="4.3" height="4.3" fill="#4480be"/><rect x="596.1" y="26.9" width="4.3" height="4.3" fill="#4582c0"/><rect x="599.8" y="26.9" width="4.3" height="4.3" fill="#4786c2"/><rect x="603.5" y="26.9" width="4.3" height="4.3" fill="#4b89c4"/><rect x="607.2" y="26.9" width="4.3" height="4.3" fill="#4e8dc6"/><rect x="610.9" y="26.9" width="4.3" height="4.3" fill="#5391c8"/><rect x="614.6" y="26.9" width="4.3" height="4.3" fill="#5895ca"/><rect x="618.3" y="26.9" width="4.3" height="4.3" fill="#5d9acd"/><rect x="622.0" y="26.9" width="4.3" height="4.3" fill="#639fd0"/><rect x="625.7" y="26.9" width="4.3" height="4.3" fill="#69a4d3"/><rect x="629.4" y="26.9" width="4.3" height="4.3" fill="#6faad6"/><rect x="633.1" y="26.9" width="4.3" height="4.3" fill="#75afda"/><rect x="636.8" y="26.9" width="4.3" height="4.3" fill="#7cb5de"/><rect x="640.4" y="26.9" width="4.3" height="4.3" fill="#88bce0"/><rect x="644.1" y="26.9" width="4.3" height="4.3" fill="#95c4e3"/><rect x="647.8" y="26.9" width="4.3" height="4.3" fill="#a2cbe5"/><rect x="651.5" y="26.9" width="4.3" height="4.3" fill="#afd2e9"/><rect x="655.2" y="26.9" width="4.3" height="4.3" fill="#bbd8ed"/><rect x="658.9" y="26.9" width="4.3" height="4.3" fill="#c7dff0"/><rect x="511.2" y="30.6" width="4.3" height="4.3" fill="#a2cbe5"/><rect x="514.9" y="30.6" width="4.3" height="4.3" fill="#94c3e3"/><rect x="518.6" y="30.6" width="4.3" height="4.3" fill="#87bce0"/><rect x="522.3" y="30.6" width="4.3" height="4.3" fill="#7bb4dd"/><rect x="526.0" y="30.6" width="4.3" height="4.3" fill="#74aed9"/><rect x="529.7" y="30.6" width="4.3" height="4.3" fill="#6da8d5"/><rect x="533.4" y="30.6" width="4.3" height="4.3" fill="#67a3d2"/><rect x="537.0" y="30.6" width="4.3" height="4.3" fill="#619dcf"/><rect x="540.7" y="30.6" width="4.3" height="4.3" fill="#5b98cc"/><rect x="544.4" y="30.6" width="4.3" height="4.3" fill="#5592c9"/><rect x="548.1" y="30.6" width="4.3" height="4.3" fill="#4f8ec6"/><rect x="551.8" y="30.6" width="4.3" height="4.3" fill="#4b89c4"/><rect x="555.5" y="30.6" width="4.3" height="4.3" fill="#4785c1"/><rect x="559.2" y="30.6" width="4.3" height="4.3" fill="#4480be"/><rect x="562.9" y="30.6" width="4.3" height="4.3" fill="#427cbb"/><rect x="566.6" y="30.6" width="4.3" height="4.3" fill="#4079b9"/><rect x="570.3" y="30.6" width="4.3" height="4.3" fill="#3f77b7"/><rect x="574.0" y="30.6" width="4.3" height="4.3" fill="#3e75b6"/><rect x="577.7" y="30.6" width="4.3" height="4.3" fill="#3d74b5"/><rect x="581.4" y="30.6" width="4.3" height="4.3" fill="#3d74b5"/><rect x="585.1" y="30.6" width="4.3" height="4.3" fill="#3d74b6"/><rect x="588.7" y="30.6" width="4.3" height="4.3" fill="#3e76b7"/><rect x="592.4" y="30.6" width="4.3" height="4.3" fill="#3f78b8"/><rect x="596.1" y="30.6" width="4.3" height="4.3" fill="#417aba"/><rect x="599.8" y="30.6" width="4.3" height="4.3" fill="#437ebd"/><rect x="603.5" y="30.6" width="4.3" height="4.3" fill="#4582c0"/><rect x="607.2" y="30.6" width="4.3" height="4.3" fill="#4887c3"/><rect x="610.9" y="30.6" width="4.3" height="4.3" fill="#4d8bc5"/><rect x="614.6" y="30.6" width="4.3" height="4.3" fill="#5290c7"/><rect x="618.3" y="30.6" width="4.3" height="4.3" fill="#5795ca"/><rect x="622.0" y="30.6" width="4.3" height="4.3" fill="#5d9acd"/><rect x="625.7" y="30.6" width="4.3" height="4.3" fill="#64a0d0"/><rect x="629.4" y="30.6" width="4.3" height="4.3" fill="#6aa5d3"/><rect x="633.1" y="30.6" width="4.3" height="4.3" fill="#70abd7"/><rect x="636.8" y="30.6" width="4.3" height="4.3" fill="#77b1db"/><rect x="640.4" y="30.6" width="4.3" height="4.3" fill="#7fb7de"/><rect x="644.1" y="30.6" width="4.3" height="4.3" fill="#8cbfe1"/><rect x="647.8" y="30.6" width="4.3" height="4.3" fill="#9ac7e4"/><rect x="651.5" y="30.6" width="4.3" height="4.3" fill="#a8cee7"/><rect x="655.2" y="30.6" width="4.3" height="4.3" fill="#b4d5eb"/><rect x="658.9" y="30.6" width="4.3" height="4.3" fill="#c1dbee"/><rect x="511.2" y="34.3" width="4.3" height="4.3" fill="#9ac7e4"/><rect x="514.9" y="34.3" width="4.3" height="4.3" fill="#8cbfe1"/><rect x="518.6" y="34.3" width="4.3" height="4.3" fill="#7fb7de"/><rect x="522.3" y="34.3" width="4.3" height="4.3" fill="#77b0da"/><rect x="526.0" y="34.3" width="4.3" height="4.3" fill="#6faad6"/><rect x="529.7" y="34.3" width="4.3" height="4.3" fill="#69a4d3"/><rect x="533.4" y="34.3" width="4.3" height="4.3" fill="#629ecf"/><rect x="537.0" y="34.3" width="4.3" height="4.3" fill="#5b98cc"/><rect x="540.7" y="34.3" width="4.3" height="4.3" fill="#5593c9"/><rect x="544.4" y="34.3" width="4.3" height="4.3" fill="#4f8dc6"/><rect x="548.1" y="34.3" width="4.3" height="4.3" fill="#4a88c4"/><rect x="551.8" y="34.3" width="4.3" height="4.3" fill="#4683c0"/><rect x="555.5" y="34.3" width="4.3" height="4.3" fill="#437dbc"/><rect x="559.2" y="34.3" width="4.3" height="4.3" fill="#4079b9"/><rect x="562.9" y="34.3" width="4.3" height="4.3" fill="#3e75b6"/><rect x="566.6" y="34.3" width="4.3" height="4.3" fill="#3c71b4"/><rect x="570.3" y="34.3" width="4.3" height="4.3" fill="#3a6fb2"/><rect x="574.0" y="34.3" width="4.3" height="4.3" fill="#396db1"/><rect x="577.7" y="34.3" width="4.3" height="4.3" fill="#396cb0"/><rect x="581.4" y="34.3" width="4.3" height="4.3" fill="#396cb0"/><rect x="585.1" y="34.3" width="4.3" height="4.3" fill="#396db0"/><rect x="588.7" y="34.3" width="4.3" height="4.3" fill="#3a6eb1"/><rect x="592.4" y="34.3" width="4.3" height="4.3" fill="#3b70b3"/><rect x="596.1" y="34.3" width="4.3" height="4.3" fill="#3c73b5"/><rect x="599.8" y="34.3" width="4.3" height="4.3" fill="#3f76b7"/><rect x="603.5" y="34.3" width="4.3" height="4.3" fill="#417bba"/><rect x="607.2" y="34.3" width="4.3" height="4.3" fill="#4480be"/><rect x="610.9" y="34.3" width="4.3" height="4.3" fill="#4785c2"/><rect x="614.6" y="34.3" width="4.3" height="4.3" fill="#4c8ac5"/><rect x="618.3" y="34.3" width="4.3" height="4.3" fill="#518fc7"/><rect x="622.0" y="34.3" width="4.3" height="4.3" fill="#5895ca"/><rect x="625.7" y="34.3" width="4.3" height="4.3" fill="#5e9bcd"/><rect x="629.4" y="34.3" width="4.3" height="4.3" fill="#65a1d1"/><rect x="633.1" y="34.3" width="4.3" height="4.3" fill="#6ca7d4"/><rect x="636.8" y="34.3" width="4.3" height="4.3" fill="#73add8"/><rect x="640.4" y="34.3" width="4.3" height="4.3" fill="#7ab3dc"/><rect x="644.1" y="34.3" width="4.3" height="4.3" fill="#85bae0"/><rect x="647.8" y="34.3" width="4.3" height="4.3" fill="#92c2e2"/><rect x="651.5" y="34.3" width="4.3" height="4.3" fill="#a1cbe5"/><rect x="655.2" y="34.3" width="4.3" height="4.3" fill="#aed2e9"/><rect x="658.9" y="34.3" width="4.3" height="4.3" fill="#bbd8ed"/><rect x="511.2" y="38.0" width="4.3" height="4.3" fill="#93c3e2"/><rect x="514.9" y="38.0" width="4.3" height="4.3" fill="#85bbe0"/><rect x="518.6" y="38.0" width="4.3" height="4.3" fill="#7ab3dc"/><rect x="522.3" y="38.0" width="4.3" height="4.3" fill="#72add8"/><rect x="526.0" y="38.0" width="4.3" height="4.3" fill="#6ba6d4"/><rect x="529.7" y="38.0" width="4.3" height="4.3" fill="#64a0d0"/><rect x="533.4" y="38.0" width="4.3" height="4.3" fill="#5d9acd"/><rect x="537.0" y="38.0" width="4.3" height="4.3" fill="#5694ca"/><rect x="540.7" y="38.0" width="4.3" height="4.3" fill="#508ec7"/><rect x="544.4" y="38.0" width="4.3" height="4.3" fill="#4a88c4"/><rect x="548.1" y="38.0" width="4.3" height="4.3" fill="#4582c0"/><rect x="551.8" y="38.0" width="4.3" height="4.3" fill="#427cbb"/><rect x="555.5" y="38.0" width="4.3" height="4.3" fill="#3f76b7"/><rect x="559.2" y="38.0" width="4.3" height="4.3" fill="#3c72b4"/><rect x="562.9" y="38.0" width="4.3" height="4.3" fill="#3a6eb1"/><rect x="566.6" y="38.0" width="4.3" height="4.3" fill="#386aaf"/><rect x="570.3" y="38.0" width="4.3" height="4.3" fill="#3668ad"/><rect x="574.0" y="38.0" width="4.3" height="4.3" fill="#3566ab"/><rect x="577.7" y="38.0" width="4.3" height="4.3" fill="#3565ab"/><rect x="581.4" y="38.0" width="4.3" height="4.3" fill="#3465ab"/><rect x="585.1" y="38.0" width="4.3" height="4.3" fill="#3565ab"/><rect x="588.7" y="38.0" width="4.3" height="4.3" fill="#3667ac"/><rect x="592.4" y="38.0" width="4.3" height="4.3" fill="#3769ad"/><rect x="596.1" y="38.0" width="4.3" height="4.3" fill="#386cb0"/><rect x="599.8" y="38.0" width="4.3" height="4.3" fill="#3a6fb2"/><rect x="603.5" y="38.0" width="4.3" height="4.3" fill="#3d74b5"/><rect x="607.2" y="38.0" width="4.3" height="4.3" fill="#4079b9"/><rect x="610.9" y="38.0" width="4.3" height="4.3" fill="#437fbd"/><rect x="614.6" y="38.0" width="4.3" height="4.3" fill="#4785c2"/><rect x="618.3" y="38.0" width="4.3" height="4.3" fill="#4c8bc5"/><rect x="622.0" y="38.0" width="4.3" height="4.3" fill="#5290c8"/><rect x="625.7" y="38.0" width="4.3" height="4.3" fill="#5996cb"/><rect x="629.4" y="38.0" width="4.3" height="4.3" fill="#609dce"/><rect x="633.1" y="38.0" width="4.3" height="4.3" fill="#67a3d2"/><rect x="636.8" y="38.0" width="4.3" height="4.3" fill="#6ea9d6"/><rect x="640.4" y="38.0" width="4.3" height="4.3" fill="#76afda"/><rect x="644.1" y="38.0" width="4.3" height="4.3" fill="#7db6de"/><rect x="647.8" y="38.0" width="4.3" height="4.3" fill="#8bbee1"/><rect x="651.5" y="38.0" width="4.3" height="4.3" fill="#9ac6e4"/><rect x="655.2" y="38.0" width="4.3" height="4.3" fill="#a8cfe7"/><rect x="658.9" y="38.0" width="4.3" height="4.3" fill="#b5d5eb"/><rect x="511.2" y="41.7" width="4.3" height="4.3" fill="#8dbfe1"/><rect x="514.9" y="41.7" width="4.3" height="4.3" fill="#7eb7de"/><rect x="518.6" y="41.7" width="4.3" height="4.3" fill="#76b0da"/><rect x="522.3" y="41.7" width="4.3" height="4.3" fill="#6ea9d6"/><rect x="526.0" y="41.7" width="4.3" height="4.3" fill="#67a3d2"/><rect x="529.7" y="41.7" width="4.3" height="4.3" fill="#609cce"/><rect x="533.4" y="41.7" width="4.3" height="4.3" fill="#5896cb"/><rect x="537.0" y="41.7" width="4.3" height="4.3" fill="#518fc7"/><rect x="540.7" y="41.7" width="4.3" height="4.3" fill="#4b89c4"/><rect x="544.4" y="41.7" width="4.3" height="4.3" fill="#4683c0"/><rect x="548.1" y="41.7" width="4.3" height="4.3" fill="#427cbb"/><rect x="551.8" y="41.7" width="4.3" height="4.3" fill="#3e76b7"/><rect x="555.5" y="41.7" width="4.3" height="4.3" fill="#3b70b3"/><rect x="559.2" y="41.7" width="4.3" height="4.3" fill="#386baf"/><rect x="562.9" y="41.7" width="4.3" height="4.3" fill="#3667ac"/><rect x="566.6" y="41.7" width="4.3" height="4.3" fill="#3464aa"/><rect x="570.3" y="41.7" width="4.3" height="4.3" fill="#3361a7"/><rect x="574.0" y="41.7" width="4.3" height="4.3" fill="#325fa5"/><rect x="577.7" y="41.7" width="4.3" height="4.3" fill="#315ea4"/><rect x="581.4" y="41.7" width="4.3" height="4.3" fill="#315ea3"/><rect x="585.1" y="41.7" width="4.3" height="4.3" fill="#325ea4"/><rect x="588.7" y="41.7" width="4.3" height="4.3" fill="#3260a6"/><rect x="592.4" y="41.7" width="4.3" height="4.3" fill="#3362a8"/><rect x="596.1" y="41.7" width="4.3" height="4.3" fill="#3565ab"/><rect x="599.8" y="41.7" width="4.3" height="4.3" fill="#3769ad"/><rect x="603.5" y="41.7" width="4.3" height="4.3" fill="#396db1"/><rect x="607.2" y="41.7" width="4.3" height="4.3" fill="#3c72b4"/><rect x="610.9" y="41.7" width="4.3" height="4.3" fill="#4078b8"/><rect x="614.6" y="41.7" width="4.3" height="4.3" fill="#437fbd"/><rect x="618.3" y="41.7" width="4.3" height="4.3" fill="#4786c2"/><rect x="622.0" y="41.7" width="4.3" height="4.3" fill="#4d8cc6"/><rect x="625.7" y="41.7" width="4.3" height="4.3" fill="#5492c9"/><rect x="629.4" y="41.7" width="4.3" height="4.3" fill="#5b98cc"/><rect x="633.1" y="41.7" width="4.3" height="4.3" fill="#639fd0"/><rect x="636.8" y="41.7" width="4.3" height="4.3" fill="#6aa6d4"/><rect x="640.4" y="41.7" width="4.3" height="4.3" fill="#72acd8"/><rect x="644.1" y="41.7" width="4.3" height="4.3" fill="#79b3dc"/><rect x="647.8" y="41.7" width="4.3" height="4.3" fill="#85bae0"/><rect x="651.5" y="41.7" width="4.3" height="4.3" fill="#93c3e2"/><rect x="655.2" y="41.7" width="4.3" height="4.3" fill="#a2cbe5"/><rect x="658.9" y="41.7" width="4.3" height="4.3" fill="#b0d3e9"/><rect x="511.2" y="45.4" width="4.3" height="4.3" fill="#87bce0"/><rect x="514.9" y="45.4" width="4.3" height="4.3" fill="#7ab4dd"/><rect x="518.6" y="45.4" width="4.3" height="4.3" fill="#72add8"/><rect x="522.3" y="45.4" width="4.3" height="4.3" fill="#6ba6d4"/><rect x="526.0" y="45.4" width="4.3" height="4.3" fill="#63a0d0"/><rect x="529.7" y="45.4" width="4.3" height="4.3" fill="#5b98cc"/><rect x="533.4" y="45.4" width="4.3" height="4.3" fill="#5492c9"/><rect x="537.0" y="45.4" width="4.3" height="4.3" fill="#4d8bc5"/><rect x="540.7" y="45.4" width="4.3" height="4.3" fill="#4785c1"/><rect x="544.4" y="45.4" width="4.3" height="4.3" fill="#427dbc"/><rect x="548.1" y="45.4" width="4.3" height="4.3" fill="#3e76b7"/><rect x="551.8" y="45.4" width="4.3" height="4.3" fill="#3b70b2"/><rect x="555.5" y="45.4" width="4.3" height="4.3" fill="#376aae"/><rect x="559.2" y="45.4" width="4.3" height="4.3" fill="#3565ab"/><rect x="562.9" y="45.4" width="4.3" height="4.3" fill="#3361a7"/><rect x="566.6" y="45.4" width="4.3" height="4.3" fill="#315da3"/><rect x="570.3" y="45.4" width="4.3" height="4.3" fill="#305aa0"/><rect x="574.0" y="45.4" width="4.3" height="4.3" fill="#2f589e"/><rect x="577.7" y="45.4" width="4.3" height="4.3" fill="#2f579d"/><rect x="581.4" y="45.4" width="4.3" height="4.3" fill="#2e579c"/><rect x="585.1" y="45.4" width="4.3" height="4.3" fill="#2f589d"/><rect x="588.7" y="45.4" width="4.3" height="4.3" fill="#2f599f"/><rect x="592.4" y="45.4" width="4.3" height="4.3" fill="#305ba1"/><rect x="596.1" y="45.4" width="4.3" height="4.3" fill="#325fa4"/><rect x="599.8" y="45.4" width="4.3" height="4.3" fill="#3363a9"/><rect x="603.5" y="45.4" width="4.3" height="4.3" fill="#3667ac"/><rect x="607.2" y="45.4" width="4.3" height="4.3" fill="#396cb0"/><rect x="610.9" y="45.4" width="4.3" height="4.3" fill="#3c72b4"/><rect x="614.6" y="45.4" width="4.3" height="4.3" fill="#4079b9"/><rect x="618.3" y="45.4" width="4.3" height="4.3" fill="#4480be"/><rect x="622.0" y="45.4" width="4.3" height="4.3" fill="#4988c3"/><rect x="625.7" y="45.4" width="4.3" height="4.3" fill="#508ec7"/><rect x="629.4" y="45.4" width="4.3" height="4.3" fill="#5794ca"/><rect x="633.1" y="45.4" width="4.3" height="4.3" fill="#5f9bce"/><rect x="636.8" y="45.4" width="4.3" height="4.3" fill="#67a2d1"/><rect x="640.4" y="45.4" width="4.3" height="4.3" fill="#6ea9d6"/><rect x="644.1" y="45.4" width="4.3" height="4.3" fill="#76b0da"/><rect x="647.8" y="45.4" width="4.3" height="4.3" fill="#7fb7de"/><rect x="651.5" y="45.4" width="4.3" height="4.3" fill="#8dbfe1"/><rect x="655.2" y="45.4" width="4.3" height="4.3" fill="#9cc8e4"/><rect x="658.9" y="45.4" width="4.3" height="4.3" fill="#abd0e8"/><rect x="511.2" y="49.1" width="4.3" height="4.3" fill="#81b9df"/><rect x="514.9" y="49.1" width="4.3" height="4.3" fill="#77b1db"/><rect x="518.6" y="49.1" width="4.3" height="4.3" fill="#6faad6"/><rect x="522.3" y="49.1" width="4.3" height="4.3" fill="#68a3d2"/><rect x="526.0" y="49.1" width="4.3" height="4.3" fill="#609cce"/><rect x="529.7" y="49.1" width="4.3" height="4.3" fill="#5895ca"/><rect x="533.4" y="49.1" width="4.3" height="4.3" fill="#508ec7"/><rect x="537.0" y="49.1" width="4.3" height="4.3" fill="#4988c3"/><rect x="540.7" y="49.1" width="4.3" height="4.3" fill="#4480be"/><rect x="544.4" y="49.1" width="4.3" height="4.3" fill="#3f78b8"/><rect x="548.1" y="49.1" width="4.3" height="4.3" fill="#3b71b3"/><rect x="551.8" y="49.1" width="4.3" height="4.3" fill="#386aaf"/><rect x="555.5" y="49.1" width="4.3" height="4.3" fill="#3465ab"/><rect x="559.2" y="49.1" width="4.3" height="4.3" fill="#325fa5"/><rect x="562.9" y="49.1" width="4.3" height="4.3" fill="#305ba1"/><rect x="566.6" y="49.1" width="4.3" height="4.3" fill="#2f579d"/><rect x="570.3" y="49.1" width="4.3" height="4.3" fill="#2d549a"/><rect x="574.0" y="49.1" width="4.3" height="4.3" fill="#2c5298"/><rect x="577.7" y="49.1" width="4.3" height="4.3" fill="#2c5196"/><rect x="581.4" y="49.1" width="4.3" height="4.3" fill="#2c5196"/><rect x="585.1" y="49.1" width="4.3" height="4.3" fill="#2c5197"/><rect x="588.7" y="49.1" width="4.3" height="4.3" fill="#2d5398"/><rect x="592.4" y="49.1" width="4.3" height="4.3" fill="#2e559b"/><rect x="596.1" y="49.1" width="4.3" height="4.3" fill="#2f599e"/><rect x="599.8" y="49.1" width="4.3" height="4.3" fill="#315da3"/><rect x="603.5" y="49.1" width="4.3" height="4.3" fill="#3362a8"/><rect x="607.2" y="49.1" width="4.3" height="4.3" fill="#3667ac"/><rect x="610.9" y="49.1" width="4.3" height="4.3" fill="#396db1"/><rect x="614.6" y="49.1" width="4.3" height="4.3" fill="#3d74b5"/><rect x="618.3" y="49.1" width="4.3" height="4.3" fill="#417bbb"/><rect x="622.0" y="49.1" width="4.3" height="4.3" fill="#4683c0"/><rect x="625.7" y="49.1" width="4.3" height="4.3" fill="#4c8ac5"/><rect x="629.4" y="49.1" width="4.3" height="4.3" fill="#5391c8"/><rect x="633.1" y="49.1" width="4.3" height="4.3" fill="#5b98cc"/><rect x="636.8" y="49.1" width="4.3" height="4.3" fill="#639fd0"/><rect x="640.4" y="49.1" width="4.3" height="4.3" fill="#6ba6d4"/><rect x="644.1" y="49.1" width="4.3" height="4.3" fill="#73add8"/><rect x="647.8" y="49.1" width="4.3" height="4.3" fill="#7bb4dd"/><rect x="651.5" y="49.1" width="4.3" height="4.3" fill="#88bce0"/><rect x="655.2" y="49.1" width="4.3" height="4.3" fill="#97c5e3"/><rect x="658.9" y="49.1" width="4.3" height="4.3" fill="#a7cee7"/><rect x="511.2" y="52.8" width="4.3" height="4.3" fill="#7db6de"/><rect x="514.9" y="52.8" width="4.3" height="4.3" fill="#74aed9"/><rect x="518.6" y="52.8" width="4.3" height="4.3" fill="#6ca7d5"/><rect x="522.3" y="52.8" width="4.3" height="4.3" fill="#65a1d0"/><rect x="526.0" y="52.8" width="4.3" height="4.3" fill="#5c99cc"/><rect x="529.7" y="52.8" width="4.3" height="4.3" fill="#5492c9"/><rect x="533.4" y="52.8" width="4.3" height="4.3" fill="#4c8bc5"/><rect x="537.0" y="52.8" width="4.3" height="4.3" fill="#4683c0"/><rect x="540.7" y="52.8" width="4.3" height="4.3" fill="#417bba"/><rect x="544.4" y="52.8" width="4.3" height="4.3" fill="#3d73b5"/><rect x="548.1" y="52.8" width="4.3" height="4.3" fill="#396cb0"/><rect x="551.8" y="52.8" width="4.3" height="4.3" fill="#3566ab"/><rect x="555.5" y="52.8" width="4.3" height="4.3" fill="#3260a5"/><rect x="559.2" y="52.8" width="4.3" height="4.3" fill="#305aa0"/><rect x="562.9" y="52.8" width="4.3" height="4.3" fill="#2e559b"/><rect x="566.6" y="52.8" width="4.3" height="4.3" fill="#2c5297"/><rect x="570.3" y="52.8" width="4.3" height="4.3" fill="#2b4f94"/><rect x="574.0" y="52.8" width="4.3" height="4.3" fill="#2a4d92"/><rect x="577.7" y="52.8" width="4.3" height="4.3" fill="#2a4b91"/><rect x="581.4" y="52.8" width="4.3" height="4.3" fill="#2a4b90"/><rect x="585.1" y="52.8" width="4.3" height="4.3" fill="#2a4c91"/><rect x="588.7" y="52.8" width="4.3" height="4.3" fill="#2b4d93"/><rect x="592.4" y="52.8" width="4.3" height="4.3" fill="#2c5095"/><rect x="596.1" y="52.8" width="4.3" height="4.3" fill="#2d5399"/><rect x="599.8" y="52.8" width="4.3" height="4.3" fill="#2f579d"/><rect x="603.5" y="52.8" width="4.3" height="4.3" fill="#315ca2"/><rect x="607.2" y="52.8" width="4.3" height="4.3" fill="#3362a8"/><rect x="610.9" y="52.8" width="4.3" height="4.3" fill="#3768ad"/><rect x="614.6" y="52.8" width="4.3" height="4.3" fill="#3a6fb2"/><rect x="618.3" y="52.8" width="4.3" height="4.3" fill="#3f77b7"/><rect x="622.0" y="52.8" width="4.3" height="4.3" fill="#437fbd"/><rect x="625.7" y="52.8" width="4.3" height="4.3" fill="#4887c3"/><rect x="629.4" y="52.8" width="4.3" height="4.3" fill="#508ec7"/><rect x="633.1" y="52.8" width="4.3" height="4.3" fill="#5895ca"/><rect x="636.8" y="52.8" width="4.3" height="4.3" fill="#609cce"/><rect x="640.4" y="52.8" width="4.3" height="4.3" fill="#68a3d2"/><rect x="644.1" y="52.8" width="4.3" height="4.3" fill="#70aad7"/><rect x="647.8" y="52.8" width="4.3" height="4.3" fill="#78b2db"/><rect x="651.5" y="52.8" width="4.3" height="4.3" fill="#83b9df"/><rect x="655.2" y="52.8" width="4.3" height="4.3" fill="#92c2e2"/><rect x="658.9" y="52.8" width="4.3" height="4.3" fill="#a2cbe5"/><rect x="511.2" y="56.5" width="4.3" height="4.3" fill="#7ab4dc"/><rect x="514.9" y="56.5" width="4.3" height="4.3" fill="#72acd8"/><rect x="518.6" y="56.5" width="4.3" height="4.3" fill="#6aa5d3"/><rect x="522.3" y="56.5" width="4.3" height="4.3" fill="#629ecf"/><rect x="526.0" y="56.5" width="4.3" height="4.3" fill="#5996cb"/><rect x="529.7" y="56.5" width="4.3" height="4.3" fill="#518fc7"/><rect x="533.4" y="56.5" width="4.3" height="4.3" fill="#4988c4"/><rect x="537.0" y="56.5" width="4.3" height="4.3" fill="#447fbe"/><rect x="540.7" y="56.5" width="4.3" height="4.3" fill="#3f77b8"/><rect x="544.4" y="56.5" width="4.3" height="4.3" fill="#3a6fb2"/><rect x="548.1" y="56.5" width="4.3" height="4.3" fill="#3668ad"/><rect x="551.8" y="56.5" width="4.3" height="4.3" fill="#3361a7"/><rect x="555.5" y="56.5" width="4.3" height="4.3" fill="#305ba1"/><rect x="559.2" y="56.5" width="4.3" height="4.3" fill="#2e559b"/><rect x="562.9" y="56.5" width="4.3" height="4.3" fill="#2c5196"/><rect x="566.6" y="56.5" width="4.3" height="4.3" fill="#2a4d92"/><rect x="570.3" y="56.5" width="4.3" height="4.3" fill="#294a8f"/><rect x="574.0" y="56.5" width="4.3" height="4.3" fill="#28488d"/><rect x="577.7" y="56.5" width="4.3" height="4.3" fill="#28468b"/><rect x="581.4" y="56.5" width="4.3" height="4.3" fill="#27468b"/><rect x="585.1" y="56.5" width="4.3" height="4.3" fill="#28478c"/><rect x="588.7" y="56.5" width="4.3" height="4.3" fill="#28488d"/><rect x="592.4" y="56.5" width="4.3" height="4.3" fill="#294b90"/><rect x="596.1" y="56.5" width="4.3" height="4.3" fill="#2b4e94"/><rect x="599.8" y="56.5" width="4.3" height="4.3" fill="#2d5398"/><rect x="603.5" y="56.5" width="4.3" height="4.3" fill="#2f589d"/><rect x="607.2" y="56.5" width="4.3" height="4.3" fill="#315ea3"/><rect x="610.9" y="56.5" width="4.3" height="4.3" fill="#3464aa"/><rect x="614.6" y="56.5" width="4.3" height="4.3" fill="#386baf"/><rect x="618.3" y="56.5" width="4.3" height="4.3" fill="#3c72b4"/><rect x="622.0" y="56.5" width="4.3" height="4.3" fill="#417bba"/><rect x="625.7" y="56.5" width="4.3" height="4.3" fill="#4683c0"/><rect x="629.4" y="56.5" width="4.3" height="4.3" fill="#4d8bc5"/><rect x="633.1" y="56.5" width="4.3" height="4.3" fill="#5492c9"/><rect x="636.8" y="56.5" width="4.3" height="4.3" fill="#5d9acd"/><rect x="640.4" y="56.5" width="4.3" height="4.3" fill="#65a1d1"/><rect x="644.1" y="56.5" width="4.3" height="4.3" fill="#6da8d5"/><rect x="647.8" y="56.5" width="4.3" height="4.3" fill="#76afda"/><rect x="651.5" y="56.5" width="4.3" height="4.3" fill="#7fb7de"/><rect x="655.2" y="56.5" width="4.3" height="4.3" fill="#8ec0e1"/><rect x="658.9" y="56.5" width="4.3" height="4.3" fill="#9ec9e5"/><rect x="511.2" y="60.3" width="4.3" height="4.3" fill="#78b2db"/><rect x="514.9" y="60.3" width="4.3" height="4.3" fill="#70aad7"/><rect x="518.6" y="60.3" width="4.3" height="4.3" fill="#68a3d2"/><rect x="522.3" y="60.3" width="4.3" height="4.3" fill="#5f9cce"/><rect x="526.0" y="60.3" width="4.3" height="4.3" fill="#5794ca"/><rect x="529.7" y="60.3" width="4.3" height="4.3" fill="#4e8dc6"/><rect x="533.4" y="60.3" width="4.3" height="4.3" fill="#4785c2"/><rect x="537.0" y="60.3" width="4.3" height="4.3" fill="#427cbb"/><rect x="540.7" y="60.3" width="4.3" height="4.3" fill="#3d74b5"/><rect x="544.4" y="60.3" width="4.3" height="4.3" fill="#386caf"/><rect x="548.1" y="60.3" width="4.3" height="4.3" fill="#3464aa"/><rect x="551.8" y="60.3" width="4.3" height="4.3" fill="#315da3"/><rect x="555.5" y="60.3" width="4.3" height="4.3" fill="#2f579c"/><rect x="559.2" y="60.3" width="4.3" height="4.3" fill="#2c5197"/><rect x="562.9" y="60.3" width="4.3" height="4.3" fill="#2a4c92"/><rect x="566.6" y="60.3" width="4.3" height="4.3" fill="#28498e"/><rect x="570.3" y="60.3" width="4.3" height="4.3" fill="#27458a"/><rect x="574.0" y="60.3" width="4.3" height="4.3" fill="#264488"/><rect x="577.7" y="60.3" width="4.3" height="4.3" fill="#254386"/><rect x="581.4" y="60.3" width="4.3" height="4.3" fill="#254386"/><rect x="585.1" y="60.3" width="4.3" height="4.3" fill="#254387"/><rect x="588.7" y="60.3" width="4.3" height="4.3" fill="#264489"/><rect x="592.4" y="60.3" width="4.3" height="4.3" fill="#28478c"/><rect x="596.1" y="60.3" width="4.3" height="4.3" fill="#294a8f"/><rect x="599.8" y="60.3" width="4.3" height="4.3" fill="#2b4e94"/><rect x="603.5" y="60.3" width="4.3" height="4.3" fill="#2d5499"/><rect x="607.2" y="60.3" width="4.3" height="4.3" fill="#305a9f"/><rect x="610.9" y="60.3" width="4.3" height="4.3" fill="#3260a6"/><rect x="614.6" y="60.3" width="4.3" height="4.3" fill="#3667ac"/><rect x="618.3" y="60.3" width="4.3" height="4.3" fill="#3a6fb2"/><rect x="622.0" y="60.3" width="4.3" height="4.3" fill="#3f77b8"/><rect x="625.7" y="60.3" width="4.3" height="4.3" fill="#4480be"/><rect x="629.4" y="60.3" width="4.3" height="4.3" fill="#4a89c4"/><rect x="633.1" y="60.3" width="4.3" height="4.3" fill="#5290c8"/><rect x="636.8" y="60.3" width="4.3" height="4.3" fill="#5a97cb"/><rect x="640.4" y="60.3" width="4.3" height="4.3" fill="#639fd0"/><rect x="644.1" y="60.3" width="4.3" height="4.3" fill="#6ba6d4"/><rect x="647.8" y="60.3" width="4.3" height="4.3" fill="#73aed9"/><rect x="651.5" y="60.3" width="4.3" height="4.3" fill="#7cb5dd"/><rect x="655.2" y="60.3" width="4.3" height="4.3" fill="#8bbee1"/><rect x="658.9" y="60.3" width="4.3" height="4.3" fill="#9bc7e4"/><rect x="511.2" y="64.0" width="4.3" height="4.3" fill="#76b0da"/><rect x="514.9" y="64.0" width="4.3" height="4.3" fill="#6ea9d6"/><rect x="518.6" y="64.0" width="4.3" height="4.3" fill="#66a2d1"/><rect x="522.3" y="64.0" width="4.3" height="4.3" fill="#5d9acd"/><rect x="526.0" y="64.0" width="4.3" height="4.3" fill="#5492c9"/><rect x="529.7" y="64.0" width="4.3" height="4.3" fill="#4c8bc5"/><rect x="533.4" y="64.0" width="4.3" height="4.3" fill="#4582c0"/><rect x="537.0" y="64.0" width="4.3" height="4.3" fill="#4079b9"/><rect x="540.7" y="64.0" width="4.3" height="4.3" fill="#3b71b3"/><rect x="544.4" y="64.0" width="4.3" height="4.3" fill="#3769ad"/><rect x="548.1" y="64.0" width="4.3" height="4.3" fill="#3361a7"/><rect x="551.8" y="64.0" width="4.3" height="4.3" fill="#305aa0"/><rect x="555.5" y="64.0" width="4.3" height="4.3" fill="#2d5499"/><rect x="559.2" y="64.0" width="4.3" height="4.3" fill="#2b4e93"/><rect x="562.9" y="64.0" width="4.3" height="4.3" fill="#29498e"/><rect x="566.6" y="64.0" width="4.3" height="4.3" fill="#27458a"/><rect x="570.3" y="64.0" width="4.3" height="4.3" fill="#254386"/><rect x="574.0" y="64.0" width="4.3" height="4.3" fill="#234184"/><rect x="577.7" y="64.0" width="4.3" height="4.3" fill="#234082"/><rect x="581.4" y="64.0" width="4.3" height="4.3" fill="#224082"/><rect x="585.1" y="64.0" width="4.3" height="4.3" fill="#234083"/><rect x="588.7" y="64.0" width="4.3" height="4.3" fill="#244285"/><rect x="592.4" y="64.0" width="4.3" height="4.3" fill="#264488"/><rect x="596.1" y="64.0" width="4.3" height="4.3" fill="#28478c"/><rect x="599.8" y="64.0" width="4.3" height="4.3" fill="#2a4b90"/><rect x="603.5" y="64.0" width="4.3" height="4.3" fill="#2c5096"/><rect x="607.2" y="64.0" width="4.3" height="4.3" fill="#2e569c"/><rect x="610.9" y="64.0" width="4.3" height="4.3" fill="#315da3"/><rect x="614.6" y="64.0" width="4.3" height="4.3" fill="#3464aa"/><rect x="618.3" y="64.0" width="4.3" height="4.3" fill="#396cb0"/><rect x="622.0" y="64.0" width="4.3" height="4.3" fill="#3d74b6"/><rect x="625.7" y="64.0" width="4.3" height="4.3" fill="#427dbc"/><rect x="629.4" y="64.0" width="4.3" height="4.3" fill="#4887c3"/><rect x="633.1" y="64.0" width="4.3" height="4.3" fill="#508ec7"/><rect x="636.8" y="64.0" width="4.3" height="4.3" fill="#5895ca"/><rect x="640.4" y="64.0" width="4.3" height="4.3" fill="#619dcf"/><rect x="644.1" y="64.0" width="4.3" height="4.3" fill="#69a5d3"/><rect x="647.8" y="64.0" width="4.3" height="4.3" fill="#72acd8"/><rect x="651.5" y="64.0" width="4.3" height="4.3" fill="#7ab4dc"/><rect x="655.2" y="64.0" width="4.3" height="4.3" fill="#88bce0"/><rect x="658.9" y="64.0" width="4.3" height="4.3" fill="#98c5e3"/><rect x="511.2" y="67.7" width="4.3" height="4.3" fill="#75afda"/><rect x="514.9" y="67.7" width="4.3" height="4.3" fill="#6da8d5"/><rect x="518.6" y="67.7" width="4.3" height="4.3" fill="#64a0d0"/><rect x="522.3" y="67.7" width="4.3" height="4.3" fill="#5b98cc"/><rect x="526.0" y="67.7" width="4.3" height="4.3" fill="#5390c8"/><rect x="529.7" y="67.7" width="4.3" height="4.3" fill="#4a89c4"/><rect x="533.4" y="67.7" width="4.3" height="4.3" fill="#4480be"/><rect x="537.0" y="67.7" width="4.3" height="4.3" fill="#3f77b8"/><rect x="540.7" y="67.7" width="4.3" height="4.3" fill="#3a6eb1"/><rect x="544.4" y="67.7" width="4.3" height="4.3" fill="#3566ac"/><rect x="548.1" y="67.7" width="4.3" height="4.3" fill="#325fa4"/><rect x="551.8" y="67.7" width="4.3" height="4.3" fill="#2f579d"/><rect x="555.5" y="67.7" width="4.3" height="4.3" fill="#2c5196"/><rect x="559.2" y="67.7" width="4.3" height="4.3" fill="#2a4b90"/><rect x="562.9" y="67.7" width="4.3" height="4.3" fill="#27468b"/><rect x="566.6" y="67.7" width="4.3" height="4.3" fill="#254387"/><rect x="570.3" y="67.7" width="4.3" height="4.3" fill="#234183"/><rect x="574.0" y="67.7" width="4.3" height="4.3" fill="#213f80"/><rect x="577.7" y="67.7" width="4.3" height="4.3" fill="#213e7e"/><rect x="581.4" y="67.7" width="4.3" height="4.3" fill="#203e7e"/><rect x="585.1" y="67.7" width="4.3" height="4.3" fill="#213e7f"/><rect x="588.7" y="67.7" width="4.3" height="4.3" fill="#224081"/><rect x="592.4" y="67.7" width="4.3" height="4.3" fill="#244284"/><rect x="596.1" y="67.7" width="4.3" height="4.3" fill="#264488"/><rect x="599.8" y="67.7" width="4.3" height="4.3" fill="#28488d"/><rect x="603.5" y="67.7" width="4.3" height="4.3" fill="#2b4e93"/><rect x="607.2" y="67.7" width="4.3" height="4.3" fill="#2d5499"/><rect x="610.9" y="67.7" width="4.3" height="4.3" fill="#305aa0"/><rect x="614.6" y="67.7" width="4.3" height="4.3" fill="#3362a8"/><rect x="618.3" y="67.7" width="4.3" height="4.3" fill="#376aae"/><rect x="622.0" y="67.7" width="4.3" height="4.3" fill="#3c72b4"/><rect x="625.7" y="67.7" width="4.3" height="4.3" fill="#417bba"/><rect x="629.4" y="67.7" width="4.3" height="4.3" fill="#4684c1"/><rect x="633.1" y="67.7" width="4.3" height="4.3" fill="#4e8cc6"/><rect x="636.8" y="67.7" width="4.3" height="4.3" fill="#5694ca"/><rect x="640.4" y="67.7" width="4.3" height="4.3" fill="#5f9cce"/><rect x="644.1" y="67.7" width="4.3" height="4.3" fill="#68a3d2"/><rect x="647.8" y="67.7" width="4.3" height="4.3" fill="#70abd7"/><rect x="651.5" y="67.7" width="4.3" height="4.3" fill="#79b2dc"/><rect x="655.2" y="67.7" width="4.3" height="4.3" fill="#85bbe0"/><rect x="658.9" y="67.7" width="4.3" height="4.3" fill="#96c4e3"/><rect x="511.2" y="71.4" width="4.3" height="4.3" fill="#74aed9"/><rect x="514.9" y="71.4" width="4.3" height="4.3" fill="#6ca7d4"/><rect x="518.6" y="71.4" width="4.3" height="4.3" fill="#639fd0"/><rect x="522.3" y="71.4" width="4.3" height="4.3" fill="#5a97cb"/><rect x="526.0" y="71.4" width="4.3" height="4.3" fill="#518fc7"/><rect x="529.7" y="71.4" width="4.3" height="4.3" fill="#4988c3"/><rect x="533.4" y="71.4" width="4.3" height="4.3" fill="#437ebd"/><rect x="537.0" y="71.4" width="4.3" height="4.3" fill="#3e75b6"/><rect x="540.7" y="71.4" width="4.3" height="4.3" fill="#396db0"/><rect x="544.4" y="71.4" width="4.3" height="4.3" fill="#3465aa"/><rect x="548.1" y="71.4" width="4.3" height="4.3" fill="#315da2"/><rect x="551.8" y="71.4" width="4.3" height="4.3" fill="#2e559b"/><rect x="555.5" y="71.4" width="4.3" height="4.3" fill="#2b4f94"/><rect x="559.2" y="71.4" width="4.3" height="4.3" fill="#29498e"/><rect x="562.9" y="71.4" width="4.3" height="4.3" fill="#264489"/><rect x="566.6" y="71.4" width="4.3" height="4.3" fill="#244184"/><rect x="570.3" y="71.4" width="4.3" height="4.3" fill="#223f80"/><rect x="574.0" y="71.4" width="4.3" height="4.3" fill="#203d7d"/><rect x="577.7" y="71.4" width="4.3" height="4.3" fill="#1f3c7c"/><rect x="581.4" y="71.4" width="4.3" height="4.3" fill="#1f3c7b"/><rect x="585.1" y="71.4" width="4.3" height="4.3" fill="#1f3d7c"/><rect x="588.7" y="71.4" width="4.3" height="4.3" fill="#213e7e"/><rect x="592.4" y="71.4" width="4.3" height="4.3" fill="#224082"/><rect x="596.1" y="71.4" width="4.3" height="4.3" fill="#254386"/><rect x="599.8" y="71.4" width="4.3" height="4.3" fill="#27468b"/><rect x="603.5" y="71.4" width="4.3" height="4.3" fill="#2a4b91"/><rect x="607.2" y="71.4" width="4.3" height="4.3" fill="#2c5297"/><rect x="610.9" y="71.4" width="4.3" height="4.3" fill="#2f589e"/><rect x="614.6" y="71.4" width="4.3" height="4.3" fill="#3260a6"/><rect x="618.3" y="71.4" width="4.3" height="4.3" fill="#3668ad"/><rect x="622.0" y="71.4" width="4.3" height="4.3" fill="#3b70b3"/><rect x="625.7" y="71.4" width="4.3" height="4.3" fill="#4079b9"/><rect x="629.4" y="71.4" width="4.3" height="4.3" fill="#4683c0"/><rect x="633.1" y="71.4" width="4.3" height="4.3" fill="#4d8bc5"/><rect x="636.8" y="71.4" width="4.3" height="4.3" fill="#5593c9"/><rect x="640.4" y="71.4" width="4.3" height="4.3" fill="#5e9bcd"/><rect x="644.1" y="71.4" width="4.3" height="4.3" fill="#67a3d2"/><rect x="647.8" y="71.4" width="4.3" height="4.3" fill="#6faad6"/><rect x="651.5" y="71.4" width="4.3" height="4.3" fill="#78b1db"/><rect x="655.2" y="71.4" width="4.3" height="4.3" fill="#84badf"/><rect x="658.9" y="71.4" width="4.3" height="4.3" fill="#94c3e3"/><rect x="511.2" y="75.1" width="4.3" height="4.3" fill="#73aed9"/><rect x="514.9" y="75.1" width="4.3" height="4.3" fill="#6ba6d4"/><rect x="518.6" y="75.1" width="4.3" height="4.3" fill="#629fcf"/><rect x="522.3" y="75.1" width="4.3" height="4.3" fill="#5996cb"/><rect x="526.0" y="75.1" width="4.3" height="4.3" fill="#508fc7"/><rect x="529.7" y="75.1" width="4.3" height="4.3" fill="#4887c3"/><rect x="533.4" y="75.1" width="4.3" height="4.3" fill="#437dbc"/><rect x="537.0" y="75.1" width="4.3" height="4.3" fill="#3d74b6"/><rect x="540.7" y="75.1" width="4.3" height="4.3" fill="#386baf"/><rect x="544.4" y="75.1" width="4.3" height="4.3" fill="#3463a9"/><rect x="548.1" y="75.1" width="4.3" height="4.3" fill="#305ba1"/><rect x="551.8" y="75.1" width="4.3" height="4.3" fill="#2d549a"/><rect x="555.5" y="75.1" width="4.3" height="4.3" fill="#2b4d93"/><rect x="559.2" y="75.1" width="4.3" height="4.3" fill="#28488d"/><rect x="562.9" y="75.1" width="4.3" height="4.3" fill="#254387"/><rect x="566.6" y="75.1" width="4.3" height="4.3" fill="#234082"/><rect x="570.3" y="75.1" width="4.3" height="4.3" fill="#213e7e"/><rect x="574.0" y="75.1" width="4.3" height="4.3" fill="#1f3c7b"/><rect x="577.7" y="75.1" width="4.3" height="4.3" fill="#1e3b7a"/><rect x="581.4" y="75.1" width="4.3" height="4.3" fill="#1e3b79"/><rect x="585.1" y="75.1" width="4.3" height="4.3" fill="#1e3b7a"/><rect x="588.7" y="75.1" width="4.3" height="4.3" fill="#203d7d"/><rect x="592.4" y="75.1" width="4.3" height="4.3" fill="#213f80"/><rect x="596.1" y="75.1" width="4.3" height="4.3" fill="#244284"/><rect x="599.8" y="75.1" width="4.3" height="4.3" fill="#27458a"/><rect x="603.5" y="75.1" width="4.3" height="4.3" fill="#294a8f"/><rect x="607.2" y="75.1" width="4.3" height="4.3" fill="#2c5096"/><rect x="610.9" y="75.1" width="4.3" height="4.3" fill="#2f579d"/><rect x="614.6" y="75.1" width="4.3" height="4.3" fill="#325fa5"/><rect x="618.3" y="75.1" width="4.3" height="4.3" fill="#3667ac"/><rect x="622.0" y="75.1" width="4.3" height="4.3" fill="#3a6fb2"/><rect x="625.7" y="75.1" width="4.3" height="4.3" fill="#3f78b8"/><rect x="629.4" y="75.1" width="4.3" height="4.3" fill="#4582bf"/><rect x="633.1" y="75.1" width="4.3" height="4.3" fill="#4c8ac5"/><rect x="636.8" y="75.1" width="4.3" height="4.3" fill="#5492c9"/><rect x="640.4" y="75.1" width="4.3" height="4.3" fill="#5d9acd"/><rect x="644.1" y="75.1" width="4.3" height="4.3" fill="#66a2d1"/><rect x="647.8" y="75.1" width="4.3" height="4.3" fill="#6fa9d6"/><rect x="651.5" y="75.1" width="4.3" height="4.3" fill="#77b1db"/><rect x="655.2" y="75.1" width="4.3" height="4.3" fill="#83b9df"/><rect x="658.9" y="75.1" width="4.3" height="4.3" fill="#93c2e2"/><rect x="511.2" y="78.8" width="4.3" height="4.3" fill="#73add8"/><rect x="514.9" y="78.8" width="4.3" height="4.3" fill="#6ba6d4"/><rect x="518.6" y="78.8" width="4.3" height="4.3" fill="#629ecf"/><rect x="522.3" y="78.8" width="4.3" height="4.3" fill="#5996cb"/><rect x="526.0" y="78.8" width="4.3" height="4.3" fill="#508ec7"/><rect x="529.7" y="78.8" width="4.3" height="4.3" fill="#4887c3"/><rect x="533.4" y="78.8" width="4.3" height="4.3" fill="#427dbc"/><rect x="537.0" y="78.8" width="4.3" height="4.3" fill="#3d74b5"/><rect x="540.7" y="78.8" width="4.3" height="4.3" fill="#386baf"/><rect x="544.4" y="78.8" width="4.3" height="4.3" fill="#3463a9"/><rect x="548.1" y="78.8" width="4.3" height="4.3" fill="#305ba1"/><rect x="551.8" y="78.8" width="4.3" height="4.3" fill="#2d5399"/><rect x="555.5" y="78.8" width="4.3" height="4.3" fill="#2a4d92"/><rect x="559.2" y="78.8" width="4.3" height="4.3" fill="#28478c"/><rect x="562.9" y="78.8" width="4.3" height="4.3" fill="#254386"/><rect x="566.6" y="78.8" width="4.3" height="4.3" fill="#224081"/><rect x="570.3" y="78.8" width="4.3" height="4.3" fill="#203d7d"/><rect x="574.0" y="78.8" width="4.3" height="4.3" fill="#1e3c7b"/><rect x="577.7" y="78.8" width="4.3" height="4.3" fill="#1d3a79"/><rect x="581.4" y="78.8" width="4.3" height="4.3" fill="#1d3a78"/><rect x="585.1" y="78.8" width="4.3" height="4.3" fill="#1e3b79"/><rect x="588.7" y="78.8" width="4.3" height="4.3" fill="#1f3c7c"/><rect x="592.4" y="78.8" width="4.3" height="4.3" fill="#213e7f"/><rect x="596.1" y="78.8" width="4.3" height="4.3" fill="#234184"/><rect x="599.8" y="78.8" width="4.3" height="4.3" fill="#264489"/><rect x="603.5" y="78.8" width="4.3" height="4.3" fill="#29498f"/><rect x="607.2" y="78.8" width="4.3" height="4.3" fill="#2b5095"/><rect x="610.9" y="78.8" width="4.3" height="4.3" fill="#2e579c"/><rect x="614.6" y="78.8" width="4.3" height="4.3" fill="#325ea4"/><rect x="618.3" y="78.8" width="4.3" height="4.3" fill="#3566ac"/><rect x="622.0" y="78.8" width="4.3" height="4.3" fill="#3a6fb2"/><rect x="625.7" y="78.8" width="4.3" height="4.3" fill="#3f78b8"/><rect x="629.4" y="78.8" width="4.3" height="4.3" fill="#4581bf"/><rect x="633.1" y="78.8" width="4.3" height="4.3" fill="#4b8ac5"/><rect x="636.8" y="78.8" width="4.3" height="4.3" fill="#5492c9"/><rect x="640.4" y="78.8" width="4.3" height="4.3" fill="#5d9acd"/><rect x="644.1" y="78.8" width="4.3" height="4.3" fill="#66a2d1"/><rect x="647.8" y="78.8" width="4.3" height="4.3" fill="#6ea9d6"/><rect x="651.5" y="78.8" width="4.3" height="4.3" fill="#77b1db"/><rect x="655.2" y="78.8" width="4.3" height="4.3" fill="#82b9df"/><rect x="658.9" y="78.8" width="4.3" height="4.3" fill="#92c2e2"/><rect x="511.2" y="82.5" width="4.3" height="4.3" fill="#73add8"/><rect x="514.9" y="82.5" width="4.3" height="4.3" fill="#6ba6d4"/><rect x="518.6" y="82.5" width="4.3" height="4.3" fill="#629ecf"/><rect x="522.3" y="82.5" width="4.3" height="4.3" fill="#5996cb"/><rect x="526.0" y="82.5" width="4.3" height="4.3" fill="#508ec7"/><rect x="529.7" y="82.5" width="4.3" height="4.3" fill="#4887c3"/><rect x="533.4" y="82.5" width="4.3" height="4.3" fill="#427dbc"/><rect x="537.0" y="82.5" width="4.3" height="4.3" fill="#3d74b5"/><rect x="540.7" y="82.5" width="4.3" height="4.3" fill="#386baf"/><rect x="544.4" y="82.5" width="4.3" height="4.3" fill="#3463a9"/><rect x="548.1" y="82.5" width="4.3" height="4.3" fill="#305ba1"/><rect x="551.8" y="82.5" width="4.3" height="4.3" fill="#2d5499"/><rect x="555.5" y="82.5" width="4.3" height="4.3" fill="#2a4d92"/><rect x="559.2" y="82.5" width="4.3" height="4.3" fill="#28478c"/><rect x="562.9" y="82.5" width="4.3" height="4.3" fill="#254387"/><rect x="566.6" y="82.5" width="4.3" height="4.3" fill="#224082"/><rect x="570.3" y="82.5" width="4.3" height="4.3" fill="#203d7e"/><rect x="574.0" y="82.5" width="4.3" height="4.3" fill="#1e3c7b"/><rect x="577.7" y="82.5" width="4.3" height="4.3" fill="#1d3a79"/><rect x="581.4" y="82.5" width="4.3" height="4.3" fill="#1d3a78"/><rect x="585.1" y="82.5" width="4.3" height="4.3" fill="#1e3b79"/><rect x="588.7" y="82.5" width="4.3" height="4.3" fill="#1f3c7c"/><rect x="592.4" y="82.5" width="4.3" height="4.3" fill="#213e7f"/><rect x="596.1" y="82.5" width="4.3" height="4.3" fill="#234184"/><rect x="599.8" y="82.5" width="4.3" height="4.3" fill="#264489"/><rect x="603.5" y="82.5" width="4.3" height="4.3" fill="#294a8f"/><rect x="607.2" y="82.5" width="4.3" height="4.3" fill="#2c5095"/><rect x="610.9" y="82.5" width="4.3" height="4.3" fill="#2e579c"/><rect x="614.6" y="82.5" width="4.3" height="4.3" fill="#325ea4"/><rect x="618.3" y="82.5" width="4.3" height="4.3" fill="#3566ac"/><rect x="622.0" y="82.5" width="4.3" height="4.3" fill="#3a6fb2"/><rect x="625.7" y="82.5" width="4.3" height="4.3" fill="#3f78b8"/><rect x="629.4" y="82.5" width="4.3" height="4.3" fill="#4581bf"/><rect x="633.1" y="82.5" width="4.3" height="4.3" fill="#4b8ac5"/><rect x="636.8" y="82.5" width="4.3" height="4.3" fill="#5492c9"/><rect x="640.4" y="82.5" width="4.3" height="4.3" fill="#5d9acd"/><rect x="644.1" y="82.5" width="4.3" height="4.3" fill="#66a2d1"/><rect x="647.8" y="82.5" width="4.3" height="4.3" fill="#6ea9d6"/><rect x="651.5" y="82.5" width="4.3" height="4.3" fill="#77b1db"/><rect x="655.2" y="82.5" width="4.3" height="4.3" fill="#82b9df"/><rect x="658.9" y="82.5" width="4.3" height="4.3" fill="#92c2e2"/><rect x="511.2" y="86.2" width="4.3" height="4.3" fill="#74aed9"/><rect x="514.9" y="86.2" width="4.3" height="4.3" fill="#6ba6d4"/><rect x="518.6" y="86.2" width="4.3" height="4.3" fill="#639fcf"/><rect x="522.3" y="86.2" width="4.3" height="4.3" fill="#5997cb"/><rect x="526.0" y="86.2" width="4.3" height="4.3" fill="#518fc7"/><rect x="529.7" y="86.2" width="4.3" height="4.3" fill="#4887c3"/><rect x="533.4" y="86.2" width="4.3" height="4.3" fill="#437ebc"/><rect x="537.0" y="86.2" width="4.3" height="4.3" fill="#3d74b6"/><rect x="540.7" y="86.2" width="4.3" height="4.3" fill="#386cb0"/><rect x="544.4" y="86.2" width="4.3" height="4.3" fill="#3464aa"/><rect x="548.1" y="86.2" width="4.3" height="4.3" fill="#315ca1"/><rect x="551.8" y="86.2" width="4.3" height="4.3" fill="#2d549a"/><rect x="555.5" y="86.2" width="4.3" height="4.3" fill="#2b4e93"/><rect x="559.2" y="86.2" width="4.3" height="4.3" fill="#28488d"/><rect x="562.9" y="86.2" width="4.3" height="4.3" fill="#264488"/><rect x="566.6" y="86.2" width="4.3" height="4.3" fill="#234183"/><rect x="570.3" y="86.2" width="4.3" height="4.3" fill="#213e7f"/><rect x="574.0" y="86.2" width="4.3" height="4.3" fill="#1f3c7c"/><rect x="577.7" y="86.2" width="4.3" height="4.3" fill="#1e3b7a"/><rect x="581.4" y="86.2" width="4.3" height="4.3" fill="#1e3b7a"/><rect x="585.1" y="86.2" width="4.3" height="4.3" fill="#1f3c7b"/><rect x="588.7" y="86.2" width="4.3" height="4.3" fill="#203d7d"/><rect x="592.4" y="86.2" width="4.3" height="4.3" fill="#223f80"/><rect x="596.1" y="86.2" width="4.3" height="4.3" fill="#244285"/><rect x="599.8" y="86.2" width="4.3" height="4.3" fill="#27458a"/><rect x="603.5" y="86.2" width="4.3" height="4.3" fill="#294a90"/><rect x="607.2" y="86.2" width="4.3" height="4.3" fill="#2c5196"/><rect x="610.9" y="86.2" width="4.3" height="4.3" fill="#2f579d"/><rect x="614.6" y="86.2" width="4.3" height="4.3" fill="#325fa5"/><rect x="618.3" y="86.2" width="4.3" height="4.3" fill="#3667ac"/><rect x="622.0" y="86.2" width="4.3" height="4.3" fill="#3b6fb2"/><rect x="625.7" y="86.2" width="4.3" height="4.3" fill="#4078b9"/><rect x="629.4" y="86.2" width="4.3" height="4.3" fill="#4582bf"/><rect x="633.1" y="86.2" width="4.3" height="4.3" fill="#4c8bc5"/><rect x="636.8" y="86.2" width="4.3" height="4.3" fill="#5492c9"/><rect x="640.4" y="86.2" width="4.3" height="4.3" fill="#5d9acd"/><rect x="644.1" y="86.2" width="4.3" height="4.3" fill="#66a2d1"/><rect x="647.8" y="86.2" width="4.3" height="4.3" fill="#6fa9d6"/><rect x="651.5" y="86.2" width="4.3" height="4.3" fill="#77b1db"/><rect x="655.2" y="86.2" width="4.3" height="4.3" fill="#83b9df"/><rect x="658.9" y="86.2" width="4.3" height="4.3" fill="#93c3e2"/><rect x="511.2" y="89.9" width="4.3" height="4.3" fill="#74aed9"/><rect x="514.9" y="89.9" width="4.3" height="4.3" fill="#6ca7d4"/><rect x="518.6" y="89.9" width="4.3" height="4.3" fill="#64a0d0"/><rect x="522.3" y="89.9" width="4.3" height="4.3" fill="#5a97cc"/><rect x="526.0" y="89.9" width="4.3" height="4.3" fill="#5290c7"/><rect x="529.7" y="89.9" width="4.3" height="4.3" fill="#4988c4"/><rect x="533.4" y="89.9" width="4.3" height="4.3" fill="#437fbd"/><rect x="537.0" y="89.9" width="4.3" height="4.3" fill="#3e76b7"/><rect x="540.7" y="89.9" width="4.3" height="4.3" fill="#396db0"/><rect x="544.4" y="89.9" width="4.3" height="4.3" fill="#3565ab"/><rect x="548.1" y="89.9" width="4.3" height="4.3" fill="#315da3"/><rect x="551.8" y="89.9" width="4.3" height="4.3" fill="#2e569b"/><rect x="555.5" y="89.9" width="4.3" height="4.3" fill="#2b4f95"/><rect x="559.2" y="89.9" width="4.3" height="4.3" fill="#294a8f"/><rect x="562.9" y="89.9" width="4.3" height="4.3" fill="#274589"/><rect x="566.6" y="89.9" width="4.3" height="4.3" fill="#244285"/><rect x="570.3" y="89.9" width="4.3" height="4.3" fill="#223f81"/><rect x="574.0" y="89.9" width="4.3" height="4.3" fill="#203e7e"/><rect x="577.7" y="89.9" width="4.3" height="4.3" fill="#1f3d7c"/><rect x="581.4" y="89.9" width="4.3" height="4.3" fill="#1f3c7c"/><rect x="585.1" y="89.9" width="4.3" height="4.3" fill="#203d7d"/><rect x="588.7" y="89.9" width="4.3" height="4.3" fill="#213e7f"/><rect x="592.4" y="89.9" width="4.3" height="4.3" fill="#234082"/><rect x="596.1" y="89.9" width="4.3" height="4.3" fill="#254387"/><rect x="599.8" y="89.9" width="4.3" height="4.3" fill="#28478c"/><rect x="603.5" y="89.9" width="4.3" height="4.3" fill="#2a4c91"/><rect x="607.2" y="89.9" width="4.3" height="4.3" fill="#2c5298"/><rect x="610.9" y="89.9" width="4.3" height="4.3" fill="#2f599f"/><rect x="614.6" y="89.9" width="4.3" height="4.3" fill="#3361a6"/><rect x="618.3" y="89.9" width="4.3" height="4.3" fill="#3768ad"/><rect x="622.0" y="89.9" width="4.3" height="4.3" fill="#3b71b3"/><rect x="625.7" y="89.9" width="4.3" height="4.3" fill="#407ab9"/><rect x="629.4" y="89.9" width="4.3" height="4.3" fill="#4683c0"/><rect x="633.1" y="89.9" width="4.3" height="4.3" fill="#4d8bc5"/><rect x="636.8" y="89.9" width="4.3" height="4.3" fill="#5593c9"/><rect x="640.4" y="89.9" width="4.3" height="4.3" fill="#5e9bcd"/><rect x="644.1" y="89.9" width="4.3" height="4.3" fill="#67a3d2"/><rect x="647.8" y="89.9" width="4.3" height="4.3" fill="#6faad6"/><rect x="651.5" y="89.9" width="4.3" height="4.3" fill="#78b2db"/><rect x="655.2" y="89.9" width="4.3" height="4.3" fill="#84badf"/><rect x="658.9" y="89.9" width="4.3" height="4.3" fill="#94c3e3"/><rect x="511.2" y="93.6" width="4.3" height="4.3" fill="#75afda"/><rect x="514.9" y="93.6" width="4.3" height="4.3" fill="#6da8d5"/><rect x="518.6" y="93.6" width="4.3" height="4.3" fill="#65a1d0"/><rect x="522.3" y="93.6" width="4.3" height="4.3" fill="#5c99cc"/><rect x="526.0" y="93.6" width="4.3" height="4.3" fill="#5391c8"/><rect x="529.7" y="93.6" width="4.3" height="4.3" fill="#4b89c4"/><rect x="533.4" y="93.6" width="4.3" height="4.3" fill="#4481bf"/><rect x="537.0" y="93.6" width="4.3" height="4.3" fill="#3f77b8"/><rect x="540.7" y="93.6" width="4.3" height="4.3" fill="#3a6fb2"/><rect x="544.4" y="93.6" width="4.3" height="4.3" fill="#3667ac"/><rect x="548.1" y="93.6" width="4.3" height="4.3" fill="#325fa5"/><rect x="551.8" y="93.6" width="4.3" height="4.3" fill="#2f589e"/><rect x="555.5" y="93.6" width="4.3" height="4.3" fill="#2c5297"/><rect x="559.2" y="93.6" width="4.3" height="4.3" fill="#2a4c91"/><rect x="562.9" y="93.6" width="4.3" height="4.3" fill="#28478c"/><rect x="566.6" y="93.6" width="4.3" height="4.3" fill="#264387"/><rect x="570.3" y="93.6" width="4.3" height="4.3" fill="#234184"/><rect x="574.0" y="93.6" width="4.3" height="4.3" fill="#223f81"/><rect x="577.7" y="93.6" width="4.3" height="4.3" fill="#213f7f"/><rect x="581.4" y="93.6" width="4.3" height="4.3" fill="#213e7f"/><rect x="585.1" y="93.6" width="4.3" height="4.3" fill="#213f80"/><rect x="588.7" y="93.6" width="4.3" height="4.3" fill="#234082"/><rect x="592.4" y="93.6" width="4.3" height="4.3" fill="#244285"/><rect x="596.1" y="93.6" width="4.3" height="4.3" fill="#274589"/><rect x="599.8" y="93.6" width="4.3" height="4.3" fill="#29498e"/><rect x="603.5" y="93.6" width="4.3" height="4.3" fill="#2b4e94"/><rect x="607.2" y="93.6" width="4.3" height="4.3" fill="#2d549a"/><rect x="610.9" y="93.6" width="4.3" height="4.3" fill="#305ba1"/><rect x="614.6" y="93.6" width="4.3" height="4.3" fill="#3363a9"/><rect x="618.3" y="93.6" width="4.3" height="4.3" fill="#386aaf"/><rect x="622.0" y="93.6" width="4.3" height="4.3" fill="#3c73b4"/><rect x="625.7" y="93.6" width="4.3" height="4.3" fill="#417bbb"/><rect x="629.4" y="93.6" width="4.3" height="4.3" fill="#4785c2"/><rect x="633.1" y="93.6" width="4.3" height="4.3" fill="#4e8dc6"/><rect x="636.8" y="93.6" width="4.3" height="4.3" fill="#5794ca"/><rect x="640.4" y="93.6" width="4.3" height="4.3" fill="#609cce"/><rect x="644.1" y="93.6" width="4.3" height="4.3" fill="#68a4d2"/><rect x="647.8" y="93.6" width="4.3" height="4.3" fill="#71abd7"/><rect x="651.5" y="93.6" width="4.3" height="4.3" fill="#79b3dc"/><rect x="655.2" y="93.6" width="4.3" height="4.3" fill="#86bbe0"/><rect x="658.9" y="93.6" width="4.3" height="4.3" fill="#96c4e3"/><rect x="511.2" y="97.4" width="4.3" height="4.3" fill="#77b1db"/><rect x="514.9" y="97.4" width="4.3" height="4.3" fill="#6ea9d6"/><rect x="518.6" y="97.4" width="4.3" height="4.3" fill="#66a2d1"/><rect x="522.3" y="97.4" width="4.3" height="4.3" fill="#5e9acd"/><rect x="526.0" y="97.4" width="4.3" height="4.3" fill="#5593c9"/><rect x="529.7" y="97.4" width="4.3" height="4.3" fill="#4d8bc5"/><rect x="533.4" y="97.4" width="4.3" height="4.3" fill="#4683c0"/><rect x="537.0" y="97.4" width="4.3" height="4.3" fill="#417aba"/><rect x="540.7" y="97.4" width="4.3" height="4.3" fill="#3c71b4"/><rect x="544.4" y="97.4" width="4.3" height="4.3" fill="#3769ae"/><rect x="548.1" y="97.4" width="4.3" height="4.3" fill="#3362a8"/><rect x="551.8" y="97.4" width="4.3" height="4.3" fill="#305ba1"/><rect x="555.5" y="97.4" width="4.3" height="4.3" fill="#2d549a"/><rect x="559.2" y="97.4" width="4.3" height="4.3" fill="#2b4f94"/><rect x="562.9" y="97.4" width="4.3" height="4.3" fill="#294a8f"/><rect x="566.6" y="97.4" width="4.3" height="4.3" fill="#27468b"/><rect x="570.3" y="97.4" width="4.3" height="4.3" fill="#264387"/><rect x="574.0" y="97.4" width="4.3" height="4.3" fill="#244285"/><rect x="577.7" y="97.4" width="4.3" height="4.3" fill="#234183"/><rect x="581.4" y="97.4" width="4.3" height="4.3" fill="#234183"/><rect x="585.1" y="97.4" width="4.3" height="4.3" fill="#244184"/><rect x="588.7" y="97.4" width="4.3" height="4.3" fill="#254286"/><rect x="592.4" y="97.4" width="4.3" height="4.3" fill="#264489"/><rect x="596.1" y="97.4" width="4.3" height="4.3" fill="#28488d"/><rect x="599.8" y="97.4" width="4.3" height="4.3" fill="#2a4c91"/><rect x="603.5" y="97.4" width="4.3" height="4.3" fill="#2c5197"/><rect x="607.2" y="97.4" width="4.3" height="4.3" fill="#2f579d"/><rect x="610.9" y="97.4" width="4.3" height="4.3" fill="#315ea4"/><rect x="614.6" y="97.4" width="4.3" height="4.3" fill="#3565ab"/><rect x="618.3" y="97.4" width="4.3" height="4.3" fill="#396db0"/><rect x="622.0" y="97.4" width="4.3" height="4.3" fill="#3e75b6"/><rect x="625.7" y="97.4" width="4.3" height="4.3" fill="#437ebc"/><rect x="629.4" y="97.4" width="4.3" height="4.3" fill="#4887c3"/><rect x="633.1" y="97.4" width="4.3" height="4.3" fill="#508ec7"/><rect x="636.8" y="97.4" width="4.3" height="4.3" fill="#5996cb"/><rect x="640.4" y="97.4" width="4.3" height="4.3" fill="#629ecf"/><rect x="644.1" y="97.4" width="4.3" height="4.3" fill="#6aa5d3"/><rect x="647.8" y="97.4" width="4.3" height="4.3" fill="#72acd8"/><rect x="651.5" y="97.4" width="4.3" height="4.3" fill="#7bb4dd"/><rect x="655.2" y="97.4" width="4.3" height="4.3" fill="#89bde0"/><rect x="658.9" y="97.4" width="4.3" height="4.3" fill="#99c6e4"/><rect x="511.2" y="101.1" width="4.3" height="4.3" fill="#79b2dc"/><rect x="514.9" y="101.1" width="4.3" height="4.3" fill="#70abd7"/><rect x="518.6" y="101.1" width="4.3" height="4.3" fill="#68a4d2"/><rect x="522.3" y="101.1" width="4.3" height="4.3" fill="#609cce"/><rect x="526.0" y="101.1" width="4.3" height="4.3" fill="#5795ca"/><rect x="529.7" y="101.1" width="4.3" height="4.3" fill="#4f8dc6"/><rect x="533.4" y="101.1" width="4.3" height="4.3" fill="#4786c2"/><rect x="537.0" y="101.1" width="4.3" height="4.3" fill="#427dbc"/><rect x="540.7" y="101.1" width="4.3" height="4.3" fill="#3d74b6"/><rect x="544.4" y="101.1" width="4.3" height="4.3" fill="#396db0"/><rect x="548.1" y="101.1" width="4.3" height="4.3" fill="#3565ab"/><rect x="551.8" y="101.1" width="4.3" height="4.3" fill="#325ea4"/><rect x="555.5" y="101.1" width="4.3" height="4.3" fill="#2f589e"/><rect x="559.2" y="101.1" width="4.3" height="4.3" fill="#2d5298"/><rect x="562.9" y="101.1" width="4.3" height="4.3" fill="#2b4e93"/><rect x="566.6" y="101.1" width="4.3" height="4.3" fill="#294a8f"/><rect x="570.3" y="101.1" width="4.3" height="4.3" fill="#28478c"/><rect x="574.0" y="101.1" width="4.3" height="4.3" fill="#274589"/><rect x="577.7" y="101.1" width="4.3" height="4.3" fill="#264488"/><rect x="581.4" y="101.1" width="4.3" height="4.3" fill="#264387"/><rect x="585.1" y="101.1" width="4.3" height="4.3" fill="#264488"/><rect x="588.7" y="101.1" width="4.3" height="4.3" fill="#27458a"/><rect x="592.4" y="101.1" width="4.3" height="4.3" fill="#28488d"/><rect x="596.1" y="101.1" width="4.3" height="4.3" fill="#2a4b90"/><rect x="599.8" y="101.1" width="4.3" height="4.3" fill="#2b5095"/><rect x="603.5" y="101.1" width="4.3" height="4.3" fill="#2e559a"/><rect x="607.2" y="101.1" width="4.3" height="4.3" fill="#305ba0"/><rect x="610.9" y="101.1" width="4.3" height="4.3" fill="#3361a7"/><rect x="614.6" y="101.1" width="4.3" height="4.3" fill="#3768ad"/><rect x="618.3" y="101.1" width="4.3" height="4.3" fill="#3b70b3"/><rect x="622.0" y="101.1" width="4.3" height="4.3" fill="#3f78b8"/><rect x="625.7" y="101.1" width="4.3" height="4.3" fill="#4481bf"/><rect x="629.4" y="101.1" width="4.3" height="4.3" fill="#4b89c4"/><rect x="633.1" y="101.1" width="4.3" height="4.3" fill="#5390c8"/><rect x="636.8" y="101.1" width="4.3" height="4.3" fill="#5b98cc"/><rect x="640.4" y="101.1" width="4.3" height="4.3" fill="#64a0d0"/><rect x="644.1" y="101.1" width="4.3" height="4.3" fill="#6ca7d4"/><rect x="647.8" y="101.1" width="4.3" height="4.3" fill="#74aed9"/><rect x="651.5" y="101.1" width="4.3" height="4.3" fill="#7db6de"/><rect x="655.2" y="101.1" width="4.3" height="4.3" fill="#8cbee1"/><rect x="658.9" y="101.1" width="4.3" height="4.3" fill="#9cc8e4"/><rect x="511.2" y="104.8" width="4.3" height="4.3" fill="#7bb4dd"/><rect x="514.9" y="104.8" width="4.3" height="4.3" fill="#73add8"/><rect x="518.6" y="104.8" width="4.3" height="4.3" fill="#6aa6d4"/><rect x="522.3" y="104.8" width="4.3" height="4.3" fill="#639fcf"/><rect x="526.0" y="104.8" width="4.3" height="4.3" fill="#5a97cb"/><rect x="529.7" y="104.8" width="4.3" height="4.3" fill="#5290c8"/><rect x="533.4" y="104.8" width="4.3" height="4.3" fill="#4a89c4"/><rect x="537.0" y="104.8" width="4.3" height="4.3" fill="#4480be"/><rect x="540.7" y="104.8" width="4.3" height="4.3" fill="#3f78b8"/><rect x="544.4" y="104.8" width="4.3" height="4.3" fill="#3b70b3"/><rect x="548.1" y="104.8" width="4.3" height="4.3" fill="#3769ae"/><rect x="551.8" y="104.8" width="4.3" height="4.3" fill="#3362a8"/><rect x="555.5" y="104.8" width="4.3" height="4.3" fill="#315ca2"/><rect x="559.2" y="104.8" width="4.3" height="4.3" fill="#2e579c"/><rect x="562.9" y="104.8" width="4.3" height="4.3" fill="#2c5297"/><rect x="566.6" y="104.8" width="4.3" height="4.3" fill="#2b4e93"/><rect x="570.3" y="104.8" width="4.3" height="4.3" fill="#2a4b90"/><rect x="574.0" y="104.8" width="4.3" height="4.3" fill="#29498e"/><rect x="577.7" y="104.8" width="4.3" height="4.3" fill="#28488d"/><rect x="581.4" y="104.8" width="4.3" height="4.3" fill="#28478c"/><rect x="585.1" y="104.8" width="4.3" height="4.3" fill="#28488d"/><rect x="588.7" y="104.8" width="4.3" height="4.3" fill="#294a8f"/><rect x="592.4" y="104.8" width="4.3" height="4.3" fill="#2a4c91"/><rect x="596.1" y="104.8" width="4.3" height="4.3" fill="#2b5095"/><rect x="599.8" y="104.8" width="4.3" height="4.3" fill="#2d5499"/><rect x="603.5" y="104.8" width="4.3" height="4.3" fill="#2f599f"/><rect x="607.2" y="104.8" width="4.3" height="4.3" fill="#325fa5"/><rect x="610.9" y="104.8" width="4.3" height="4.3" fill="#3565ab"/><rect x="614.6" y="104.8" width="4.3" height="4.3" fill="#396cb0"/><rect x="618.3" y="104.8" width="4.3" height="4.3" fill="#3d74b5"/><rect x="622.0" y="104.8" width="4.3" height="4.3" fill="#427cbb"/><rect x="625.7" y="104.8" width="4.3" height="4.3" fill="#4784c1"/><rect x="629.4" y="104.8" width="4.3" height="4.3" fill="#4d8cc5"/><rect x="633.1" y="104.8" width="4.3" height="4.3" fill="#5593c9"/><rect x="636.8" y="104.8" width="4.3" height="4.3" fill="#5e9acd"/><rect x="640.4" y="104.8" width="4.3" height="4.3" fill="#66a2d1"/><rect x="644.1" y="104.8" width="4.3" height="4.3" fill="#6ea9d6"/><rect x="647.8" y="104.8" width="4.3" height="4.3" fill="#76b0da"/><rect x="651.5" y="104.8" width="4.3" height="4.3" fill="#80b8df"/><rect x="655.2" y="104.8" width="4.3" height="4.3" fill="#8fc1e2"/><rect x="658.9" y="104.8" width="4.3" height="4.3" fill="#9fcae5"/><rect x="511.2" y="108.5" width="4.3" height="4.3" fill="#7eb6de"/><rect x="514.9" y="108.5" width="4.3" height="4.3" fill="#75afda"/><rect x="518.6" y="108.5" width="4.3" height="4.3" fill="#6da8d5"/><rect x="522.3" y="108.5" width="4.3" height="4.3" fill="#65a1d1"/><rect x="526.0" y="108.5" width="4.3" height="4.3" fill="#5d9acd"/><rect x="529.7" y="108.5" width="4.3" height="4.3" fill="#5593c9"/><rect x="533.4" y="108.5" width="4.3" height="4.3" fill="#4d8cc5"/><rect x="537.0" y="108.5" width="4.3" height="4.3" fill="#4785c1"/><rect x="540.7" y="108.5" width="4.3" height="4.3" fill="#427cbb"/><rect x="544.4" y="108.5" width="4.3" height="4.3" fill="#3d74b6"/><rect x="548.1" y="108.5" width="4.3" height="4.3" fill="#396db1"/><rect x="551.8" y="108.5" width="4.3" height="4.3" fill="#3667ac"/><rect x="555.5" y="108.5" width="4.3" height="4.3" fill="#3361a7"/><rect x="559.2" y="108.5" width="4.3" height="4.3" fill="#305ca1"/><rect x="562.9" y="108.5" width="4.3" height="4.3" fill="#2e579c"/><rect x="566.6" y="108.5" width="4.3" height="4.3" fill="#2d5399"/><rect x="570.3" y="108.5" width="4.3" height="4.3" fill="#2c5095"/><rect x="574.0" y="108.5" width="4.3" height="4.3" fill="#2b4e93"/><rect x="577.7" y="108.5" width="4.3" height="4.3" fill="#2a4d92"/><rect x="581.4" y="108.5" width="4.3" height="4.3" fill="#2a4d92"/><rect x="585.1" y="108.5" width="4.3" height="4.3" fill="#2a4d93"/><rect x="588.7" y="108.5" width="4.3" height="4.3" fill="#2b4f94"/><rect x="592.4" y="108.5" width="4.3" height="4.3" fill="#2c5197"/><rect x="596.1" y="108.5" width="4.3" height="4.3" fill="#2e559a"/><rect x="599.8" y="108.5" width="4.3" height="4.3" fill="#2f599e"/><rect x="603.5" y="108.5" width="4.3" height="4.3" fill="#315ea4"/><rect x="607.2" y="108.5" width="4.3" height="4.3" fill="#3464aa"/><rect x="610.9" y="108.5" width="4.3" height="4.3" fill="#376aae"/><rect x="614.6" y="108.5" width="4.3" height="4.3" fill="#3b70b3"/><rect x="618.3" y="108.5" width="4.3" height="4.3" fill="#3f78b8"/><rect x="622.0" y="108.5" width="4.3" height="4.3" fill="#4480be"/><rect x="625.7" y="108.5" width="4.3" height="4.3" fill="#4988c4"/><rect x="629.4" y="108.5" width="4.3" height="4.3" fill="#518fc7"/><rect x="633.1" y="108.5" width="4.3" height="4.3" fill="#5896cb"/><rect x="636.8" y="108.5" width="4.3" height="4.3" fill="#619dcf"/><rect x="640.4" y="108.5" width="4.3" height="4.3" fill="#69a4d3"/><rect x="644.1" y="108.5" width="4.3" height="4.3" fill="#71abd7"/><rect x="647.8" y="108.5" width="4.3" height="4.3" fill="#79b2dc"/><rect x="651.5" y="108.5" width="4.3" height="4.3" fill="#84badf"/><rect x="655.2" y="108.5" width="4.3" height="4.3" fill="#94c3e3"/><rect x="658.9" y="108.5" width="4.3" height="4.3" fill="#a4cce6"/><rect x="511.2" y="112.2" width="4.3" height="4.3" fill="#83b9df"/><rect x="514.9" y="112.2" width="4.3" height="4.3" fill="#78b2db"/><rect x="518.6" y="112.2" width="4.3" height="4.3" fill="#70abd7"/><rect x="522.3" y="112.2" width="4.3" height="4.3" fill="#68a4d2"/><rect x="526.0" y="112.2" width="4.3" height="4.3" fill="#619dce"/><rect x="529.7" y="112.2" width="4.3" height="4.3" fill="#5996cb"/><rect x="533.4" y="112.2" width="4.3" height="4.3" fill="#518fc7"/><rect x="537.0" y="112.2" width="4.3" height="4.3" fill="#4a89c4"/><rect x="540.7" y="112.2" width="4.3" height="4.3" fill="#4581bf"/><rect x="544.4" y="112.2" width="4.3" height="4.3" fill="#4079b9"/><rect x="548.1" y="112.2" width="4.3" height="4.3" fill="#3c72b4"/><rect x="551.8" y="112.2" width="4.3" height="4.3" fill="#386cb0"/><rect x="555.5" y="112.2" width="4.3" height="4.3" fill="#3566ac"/><rect x="559.2" y="112.2" width="4.3" height="4.3" fill="#3361a7"/><rect x="562.9" y="112.2" width="4.3" height="4.3" fill="#315ca2"/><rect x="566.6" y="112.2" width="4.3" height="4.3" fill="#2f599e"/><rect x="570.3" y="112.2" width="4.3" height="4.3" fill="#2e569b"/><rect x="574.0" y="112.2" width="4.3" height="4.3" fill="#2d5499"/><rect x="577.7" y="112.2" width="4.3" height="4.3" fill="#2d5398"/><rect x="581.4" y="112.2" width="4.3" height="4.3" fill="#2d5298"/><rect x="585.1" y="112.2" width="4.3" height="4.3" fill="#2d5398"/><rect x="588.7" y="112.2" width="4.3" height="4.3" fill="#2e559a"/><rect x="592.4" y="112.2" width="4.3" height="4.3" fill="#2f579d"/><rect x="596.1" y="112.2" width="4.3" height="4.3" fill="#305aa0"/><rect x="599.8" y="112.2" width="4.3" height="4.3" fill="#325ea4"/><rect x="603.5" y="112.2" width="4.3" height="4.3" fill="#3463a9"/><rect x="607.2" y="112.2" width="4.3" height="4.3" fill="#3769ad"/><rect x="610.9" y="112.2" width="4.3" height="4.3" fill="#3a6fb2"/><rect x="614.6" y="112.2" width="4.3" height="4.3" fill="#3e75b6"/><rect x="618.3" y="112.2" width="4.3" height="4.3" fill="#427dbc"/><rect x="622.0" y="112.2" width="4.3" height="4.3" fill="#4785c1"/><rect x="625.7" y="112.2" width="4.3" height="4.3" fill="#4d8bc5"/><rect x="629.4" y="112.2" width="4.3" height="4.3" fill="#5492c9"/><rect x="633.1" y="112.2" width="4.3" height="4.3" fill="#5c99cc"/><rect x="636.8" y="112.2" width="4.3" height="4.3" fill="#64a0d0"/><rect x="640.4" y="112.2" width="4.3" height="4.3" fill="#6ca7d4"/><rect x="644.1" y="112.2" width="4.3" height="4.3" fill="#73aed9"/><rect x="647.8" y="112.2" width="4.3" height="4.3" fill="#7cb5dd"/><rect x="651.5" y="112.2" width="4.3" height="4.3" fill="#89bde0"/><rect x="655.2" y="112.2" width="4.3" height="4.3" fill="#99c6e4"/><rect x="658.9" y="112.2" width="4.3" height="4.3" fill="#a8cee7"/><rect x="511.2" y="115.9" width="4.3" height="4.3" fill="#88bde0"/><rect x="514.9" y="115.9" width="4.3" height="4.3" fill="#7bb4dd"/><rect x="518.6" y="115.9" width="4.3" height="4.3" fill="#73add9"/><rect x="522.3" y="115.9" width="4.3" height="4.3" fill="#6ca7d4"/><rect x="526.0" y="115.9" width="4.3" height="4.3" fill="#65a0d0"/><rect x="529.7" y="115.9" width="4.3" height="4.3" fill="#5d99cd"/><rect x="533.4" y="115.9" width="4.3" height="4.3" fill="#5593c9"/><rect x="537.0" y="115.9" width="4.3" height="4.3" fill="#4e8cc6"/><rect x="540.7" y="115.9" width="4.3" height="4.3" fill="#4886c2"/><rect x="544.4" y="115.9" width="4.3" height="4.3" fill="#437fbd"/><rect x="548.1" y="115.9" width="4.3" height="4.3" fill="#3f78b8"/><rect x="551.8" y="115.9" width="4.3" height="4.3" fill="#3c71b4"/><rect x="555.5" y="115.9" width="4.3" height="4.3" fill="#386cb0"/><rect x="559.2" y="115.9" width="4.3" height="4.3" fill="#3667ac"/><rect x="562.9" y="115.9" width="4.3" height="4.3" fill="#3363a9"/><rect x="566.6" y="115.9" width="4.3" height="4.3" fill="#325fa5"/><rect x="570.3" y="115.9" width="4.3" height="4.3" fill="#315ca2"/><rect x="574.0" y="115.9" width="4.3" height="4.3" fill="#305aa0"/><rect x="577.7" y="115.9" width="4.3" height="4.3" fill="#2f599f"/><rect x="581.4" y="115.9" width="4.3" height="4.3" fill="#2f599e"/><rect x="585.1" y="115.9" width="4.3" height="4.3" fill="#30599f"/><rect x="588.7" y="115.9" width="4.3" height="4.3" fill="#305ba1"/><rect x="592.4" y="115.9" width="4.3" height="4.3" fill="#315da3"/><rect x="596.1" y="115.9" width="4.3" height="4.3" fill="#3260a6"/><rect x="599.8" y="115.9" width="4.3" height="4.3" fill="#3464aa"/><rect x="603.5" y="115.9" width="4.3" height="4.3" fill="#3769ad"/><rect x="607.2" y="115.9" width="4.3" height="4.3" fill="#3a6eb1"/><rect x="610.9" y="115.9" width="4.3" height="4.3" fill="#3d74b5"/><rect x="614.6" y="115.9" width="4.3" height="4.3" fill="#417bba"/><rect x="618.3" y="115.9" width="4.3" height="4.3" fill="#4582bf"/><rect x="622.0" y="115.9" width="4.3" height="4.3" fill="#4a89c4"/><rect x="625.7" y="115.9" width="4.3" height="4.3" fill="#518fc7"/><rect x="629.4" y="115.9" width="4.3" height="4.3" fill="#5896cb"/><rect x="633.1" y="115.9" width="4.3" height="4.3" fill="#609cce"/><rect x="636.8" y="115.9" width="4.3" height="4.3" fill="#68a3d2"/><rect x="640.4" y="115.9" width="4.3" height="4.3" fill="#6faad6"/><rect x="644.1" y="115.9" width="4.3" height="4.3" fill="#77b1db"/><rect x="647.8" y="115.9" width="4.3" height="4.3" fill="#80b8df"/><rect x="651.5" y="115.9" width="4.3" height="4.3" fill="#8fc0e2"/><rect x="655.2" y="115.9" width="4.3" height="4.3" fill="#9ec9e5"/><rect x="658.9" y="115.9" width="4.3" height="4.3" fill="#acd1e8"/><rect x="511.2" y="119.6" width="4.3" height="4.3" fill="#8ec0e1"/><rect x="514.9" y="119.6" width="4.3" height="4.3" fill="#80b8df"/><rect x="518.6" y="119.6" width="4.3" height="4.3" fill="#77b1db"/><rect x="522.3" y="119.6" width="4.3" height="4.3" fill="#6faad6"/><rect x="526.0" y="119.6" width="4.3" height="4.3" fill="#68a4d2"/><rect x="529.7" y="119.6" width="4.3" height="4.3" fill="#619dcf"/><rect x="533.4" y="119.6" width="4.3" height="4.3" fill="#5a97cb"/><rect x="537.0" y="119.6" width="4.3" height="4.3" fill="#5390c8"/><rect x="540.7" y="119.6" width="4.3" height="4.3" fill="#4c8bc5"/><rect x="544.4" y="119.6" width="4.3" height="4.3" fill="#4784c1"/><rect x="548.1" y="119.6" width="4.3" height="4.3" fill="#437ebc"/><rect x="551.8" y="119.6" width="4.3" height="4.3" fill="#3f77b8"/><rect x="555.5" y="119.6" width="4.3" height="4.3" fill="#3c72b4"/><rect x="559.2" y="119.6" width="4.3" height="4.3" fill="#396db0"/><rect x="562.9" y="119.6" width="4.3" height="4.3" fill="#3769ad"/><rect x="566.6" y="119.6" width="4.3" height="4.3" fill="#3566ab"/><rect x="570.3" y="119.6" width="4.3" height="4.3" fill="#3463a9"/><rect x="574.0" y="119.6" width="4.3" height="4.3" fill="#3361a7"/><rect x="577.7" y="119.6" width="4.3" height="4.3" fill="#3260a6"/><rect x="581.4" y="119.6" width="4.3" height="4.3" fill="#3260a5"/><rect x="585.1" y="119.6" width="4.3" height="4.3" fill="#3260a6"/><rect x="588.7" y="119.6" width="4.3" height="4.3" fill="#3362a8"/><rect x="592.4" y="119.6" width="4.3" height="4.3" fill="#3464aa"/><rect x="596.1" y="119.6" width="4.3" height="4.3" fill="#3667ac"/><rect x="599.8" y="119.6" width="4.3" height="4.3" fill="#386baf"/><rect x="603.5" y="119.6" width="4.3" height="4.3" fill="#3a6fb2"/><rect x="607.2" y="119.6" width="4.3" height="4.3" fill="#3d74b6"/><rect x="610.9" y="119.6" width="4.3" height="4.3" fill="#417aba"/><rect x="614.6" y="119.6" width="4.3" height="4.3" fill="#4480be"/><rect x="618.3" y="119.6" width="4.3" height="4.3" fill="#4987c3"/><rect x="622.0" y="119.6" width="4.3" height="4.3" fill="#4f8dc6"/><rect x="625.7" y="119.6" width="4.3" height="4.3" fill="#5693c9"/><rect x="629.4" y="119.6" width="4.3" height="4.3" fill="#5d9acd"/><rect x="633.1" y="119.6" width="4.3" height="4.3" fill="#64a0d0"/><rect x="636.8" y="119.6" width="4.3" height="4.3" fill="#6ba6d4"/><rect x="640.4" y="119.6" width="4.3" height="4.3" fill="#73add8"/><rect x="644.1" y="119.6" width="4.3" height="4.3" fill="#7ab4dd"/><rect x="647.8" y="119.6" width="4.3" height="4.3" fill="#86bbe0"/><rect x="651.5" y="119.6" width="4.3" height="4.3" fill="#95c4e3"/><rect x="655.2" y="119.6" width="4.3" height="4.3" fill="#a4cce6"/><rect x="658.9" y="119.6" width="4.3" height="4.3" fill="#b1d3ea"/><rect x="511.2" y="123.3" width="4.3" height="4.3" fill="#95c4e3"/><rect x="514.9" y="123.3" width="4.3" height="4.3" fill="#87bce0"/><rect x="518.6" y="123.3" width="4.3" height="4.3" fill="#7bb4dd"/><rect x="522.3" y="123.3" width="4.3" height="4.3" fill="#73aed9"/><rect x="526.0" y="123.3" width="4.3" height="4.3" fill="#6ca7d5"/><rect x="529.7" y="123.3" width="4.3" height="4.3" fill="#66a1d1"/><rect x="533.4" y="123.3" width="4.3" height="4.3" fill="#5e9bcd"/><rect x="537.0" y="123.3" width="4.3" height="4.3" fill="#5795ca"/><rect x="540.7" y="123.3" width="4.3" height="4.3" fill="#518fc7"/><rect x="544.4" y="123.3" width="4.3" height="4.3" fill="#4b8ac4"/><rect x="548.1" y="123.3" width="4.3" height="4.3" fill="#4684c1"/><rect x="551.8" y="123.3" width="4.3" height="4.3" fill="#437ebc"/><rect x="555.5" y="123.3" width="4.3" height="4.3" fill="#4078b9"/><rect x="559.2" y="123.3" width="4.3" height="4.3" fill="#3d74b5"/><rect x="562.9" y="123.3" width="4.3" height="4.3" fill="#3b70b2"/><rect x="566.6" y="123.3" width="4.3" height="4.3" fill="#396cb0"/><rect x="570.3" y="123.3" width="4.3" height="4.3" fill="#376aae"/><rect x="574.0" y="123.3" width="4.3" height="4.3" fill="#3668ad"/><rect x="577.7" y="123.3" width="4.3" height="4.3" fill="#3667ac"/><rect x="581.4" y="123.3" width="4.3" height="4.3" fill="#3667ac"/><rect x="585.1" y="123.3" width="4.3" height="4.3" fill="#3667ac"/><rect x="588.7" y="123.3" width="4.3" height="4.3" fill="#3769ad"/><rect x="592.4" y="123.3" width="4.3" height="4.3" fill="#386baf"/><rect x="596.1" y="123.3" width="4.3" height="4.3" fill="#3a6eb1"/><rect x="599.8" y="123.3" width="4.3" height="4.3" fill="#3c71b3"/><rect x="603.5" y="123.3" width="4.3" height="4.3" fill="#3e76b7"/><rect x="607.2" y="123.3" width="4.3" height="4.3" fill="#417bba"/><rect x="610.9" y="123.3" width="4.3" height="4.3" fill="#4480be"/><rect x="614.6" y="123.3" width="4.3" height="4.3" fill="#4887c3"/><rect x="618.3" y="123.3" width="4.3" height="4.3" fill="#4e8cc6"/><rect x="622.0" y="123.3" width="4.3" height="4.3" fill="#5492c8"/><rect x="625.7" y="123.3" width="4.3" height="4.3" fill="#5a97cc"/><rect x="629.4" y="123.3" width="4.3" height="4.3" fill="#629ecf"/><rect x="633.1" y="123.3" width="4.3" height="4.3" fill="#69a4d3"/><rect x="636.8" y="123.3" width="4.3" height="4.3" fill="#6faad6"/><rect x="640.4" y="123.3" width="4.3" height="4.3" fill="#77b0da"/><rect x="644.1" y="123.3" width="4.3" height="4.3" fill="#7fb7de"/><rect x="647.8" y="123.3" width="4.3" height="4.3" fill="#8dbfe1"/><rect x="651.5" y="123.3" width="4.3" height="4.3" fill="#9cc8e4"/><rect x="655.2" y="123.3" width="4.3" height="4.3" fill="#aacfe7"/><rect x="658.9" y="123.3" width="4.3" height="4.3" fill="#b7d6eb"/><rect x="511.2" y="127.0" width="4.3" height="4.3" fill="#9cc8e4"/><rect x="514.9" y="127.0" width="4.3" height="4.3" fill="#8ec0e1"/><rect x="518.6" y="127.0" width="4.3" height="4.3" fill="#81b8df"/><rect x="522.3" y="127.0" width="4.3" height="4.3" fill="#78b1db"/><rect x="526.0" y="127.0" width="4.3" height="4.3" fill="#71abd7"/><rect x="529.7" y="127.0" width="4.3" height="4.3" fill="#6aa5d3"/><rect x="533.4" y="127.0" width="4.3" height="4.3" fill="#64a0d0"/><rect x="537.0" y="127.0" width="4.3" height="4.3" fill="#5d9acd"/><rect x="540.7" y="127.0" width="4.3" height="4.3" fill="#5694ca"/><rect x="544.4" y="127.0" width="4.3" height="4.3" fill="#518fc7"/><rect x="548.1" y="127.0" width="4.3" height="4.3" fill="#4b8ac4"/><rect x="551.8" y="127.0" width="4.3" height="4.3" fill="#4785c1"/><rect x="555.5" y="127.0" width="4.3" height="4.3" fill="#447fbe"/><rect x="559.2" y="127.0" width="4.3" height="4.3" fill="#417bba"/><rect x="562.9" y="127.0" width="4.3" height="4.3" fill="#3f77b7"/><rect x="566.6" y="127.0" width="4.3" height="4.3" fill="#3d74b5"/><rect x="570.3" y="127.0" width="4.3" height="4.3" fill="#3b71b3"/><rect x="574.0" y="127.0" width="4.3" height="4.3" fill="#3a6fb2"/><rect x="577.7" y="127.0" width="4.3" height="4.3" fill="#3a6eb1"/><rect x="581.4" y="127.0" width="4.3" height="4.3" fill="#3a6eb1"/><rect x="585.1" y="127.0" width="4.3" height="4.3" fill="#3a6fb2"/><rect x="588.7" y="127.0" width="4.3" height="4.3" fill="#3b70b3"/><rect x="592.4" y="127.0" width="4.3" height="4.3" fill="#3c72b4"/><rect x="596.1" y="127.0" width="4.3" height="4.3" fill="#3e75b6"/><rect x="599.8" y="127.0" width="4.3" height="4.3" fill="#4078b9"/><rect x="603.5" y="127.0" width="4.3" height="4.3" fill="#427dbc"/><rect x="607.2" y="127.0" width="4.3" height="4.3" fill="#4582bf"/><rect x="610.9" y="127.0" width="4.3" height="4.3" fill="#4887c3"/><rect x="614.6" y="127.0" width="4.3" height="4.3" fill="#4d8cc6"/><rect x="618.3" y="127.0" width="4.3" height="4.3" fill="#5391c8"/><rect x="622.0" y="127.0" width="4.3" height="4.3" fill="#5996cb"/><rect x="625.7" y="127.0" width="4.3" height="4.3" fill="#609cce"/><rect x="629.4" y="127.0" width="4.3" height="4.3" fill="#67a2d1"/><rect x="633.1" y="127.0" width="4.3" height="4.3" fill="#6da8d5"/><rect x="636.8" y="127.0" width="4.3" height="4.3" fill="#74aed9"/><rect x="640.4" y="127.0" width="4.3" height="4.3" fill="#7bb4dd"/><rect x="644.1" y="127.0" width="4.3" height="4.3" fill="#87bce0"/><rect x="647.8" y="127.0" width="4.3" height="4.3" fill="#94c3e3"/><rect x="651.5" y="127.0" width="4.3" height="4.3" fill="#a3cce6"/><rect x="655.2" y="127.0" width="4.3" height="4.3" fill="#b0d2e9"/><rect x="658.9" y="127.0" width="4.3" height="4.3" fill="#bcd9ed"/><rect x="511.2" y="130.8" width="4.3" height="4.3" fill="#a4cde6"/><rect x="514.9" y="130.8" width="4.3" height="4.3" fill="#96c5e3"/><rect x="518.6" y="130.8" width="4.3" height="4.3" fill="#89bde0"/><rect x="522.3" y="130.8" width="4.3" height="4.3" fill="#7db6de"/><rect x="526.0" y="130.8" width="4.3" height="4.3" fill="#75afda"/><rect x="529.7" y="130.8" width="4.3" height="4.3" fill="#6faad6"/><rect x="533.4" y="130.8" width="4.3" height="4.3" fill="#69a4d3"/><rect x="537.0" y="130.8" width="4.3" height="4.3" fill="#639fcf"/><rect x="540.7" y="130.8" width="4.3" height="4.3" fill="#5c99cc"/><rect x="544.4" y="130.8" width="4.3" height="4.3" fill="#5694ca"/><rect x="548.1" y="130.8" width="4.3" height="4.3" fill="#518fc7"/><rect x="551.8" y="130.8" width="4.3" height="4.3" fill="#4c8bc5"/><rect x="555.5" y="130.8" width="4.3" height="4.3" fill="#4887c3"/><rect x="559.2" y="130.8" width="4.3" height="4.3" fill="#4582c0"/><rect x="562.9" y="130.8" width="4.3" height="4.3" fill="#437ebd"/><rect x="566.6" y="130.8" width="4.3" height="4.3" fill="#417bbb"/><rect x="570.3" y="130.8" width="4.3" height="4.3" fill="#4079b9"/><rect x="574.0" y="130.8" width="4.3" height="4.3" fill="#3f77b8"/><rect x="577.7" y="130.8" width="4.3" height="4.3" fill="#3e76b7"/><rect x="581.4" y="130.8" width="4.3" height="4.3" fill="#3e76b7"/><rect x="585.1" y="130.8" width="4.3" height="4.3" fill="#3f76b7"/><rect x="588.7" y="130.8" width="4.3" height="4.3" fill="#3f78b8"/><rect x="592.4" y="130.8" width="4.3" height="4.3" fill="#407aba"/><rect x="596.1" y="130.8" width="4.3" height="4.3" fill="#427dbc"/><rect x="599.8" y="130.8" width="4.3" height="4.3" fill="#4480be"/><rect x="603.5" y="130.8" width="4.3" height="4.3" fill="#4684c1"/><rect x="607.2" y="130.8" width="4.3" height="4.3" fill="#4a89c4"/><rect x="610.9" y="130.8" width="4.3" height="4.3" fill="#4e8dc6"/><rect x="614.6" y="130.8" width="4.3" height="4.3" fill="#5391c8"/><rect x="618.3" y="130.8" width="4.3" height="4.3" fill="#5996cb"/><rect x="622.0" y="130.8" width="4.3" height="4.3" fill="#5f9cce"/><rect x="625.7" y="130.8" width="4.3" height="4.3" fill="#65a1d1"/><rect x="629.4" y="130.8" width="4.3" height="4.3" fill="#6ba6d4"/><rect x="633.1" y="130.8" width="4.3" height="4.3" fill="#72acd8"/><rect x="636.8" y="130.8" width="4.3" height="4.3" fill="#79b2db"/><rect x="640.4" y="130.8" width="4.3" height="4.3" fill="#82b9df"/><rect x="644.1" y="130.8" width="4.3" height="4.3" fill="#8fc0e2"/><rect x="647.8" y="130.8" width="4.3" height="4.3" fill="#9cc8e4"/><rect x="651.5" y="130.8" width="4.3" height="4.3" fill="#aacfe7"/><rect x="655.2" y="130.8" width="4.3" height="4.3" fill="#b6d6eb"/><rect x="658.9" y="130.8" width="4.3" height="4.3" fill="#c3dcef"/><rect x="511.2" y="134.5" width="4.3" height="4.3" fill="#abd0e8"/><rect x="514.9" y="134.5" width="4.3" height="4.3" fill="#9fc9e5"/><rect x="518.6" y="134.5" width="4.3" height="4.3" fill="#91c2e2"/><rect x="522.3" y="134.5" width="4.3" height="4.3" fill="#85bae0"/><rect x="526.0" y="134.5" width="4.3" height="4.3" fill="#7bb4dd"/><rect x="529.7" y="134.5" width="4.3" height="4.3" fill="#74aed9"/><rect x="533.4" y="134.5" width="4.3" height="4.3" fill="#6ea9d5"/><rect x="537.0" y="134.5" width="4.3" height="4.3" fill="#68a4d2"/><rect x="540.7" y="134.5" width="4.3" height="4.3" fill="#629fcf"/><rect x="544.4" y="134.5" width="4.3" height="4.3" fill="#5d99cd"/><rect x="548.1" y="134.5" width="4.3" height="4.3" fill="#5795ca"/><rect x="551.8" y="134.5" width="4.3" height="4.3" fill="#5391c8"/><rect x="555.5" y="134.5" width="4.3" height="4.3" fill="#4e8dc6"/><rect x="559.2" y="134.5" width="4.3" height="4.3" fill="#4b8ac4"/><rect x="562.9" y="134.5" width="4.3" height="4.3" fill="#4887c3"/><rect x="566.6" y="134.5" width="4.3" height="4.3" fill="#4683c0"/><rect x="570.3" y="134.5" width="4.3" height="4.3" fill="#4581bf"/><rect x="574.0" y="134.5" width="4.3" height="4.3" fill="#447fbe"/><rect x="577.7" y="134.5" width="4.3" height="4.3" fill="#437ebd"/><rect x="581.4" y="134.5" width="4.3" height="4.3" fill="#437ebd"/><rect x="585.1" y="134.5" width="4.3" height="4.3" fill="#437fbd"/><rect x="588.7" y="134.5" width="4.3" height="4.3" fill="#4480be"/><rect x="592.4" y="134.5" width="4.3" height="4.3" fill="#4582bf"/><rect x="596.1" y="134.5" width="4.3" height="4.3" fill="#4785c1"/><rect x="599.8" y="134.5" width="4.3" height="4.3" fill="#4988c3"/><rect x="603.5" y="134.5" width="4.3" height="4.3" fill="#4c8bc5"/><rect x="607.2" y="134.5" width="4.3" height="4.3" fill="#508ec7"/><rect x="610.9" y="134.5" width="4.3" height="4.3" fill="#5592c9"/><rect x="614.6" y="134.5" width="4.3" height="4.3" fill="#5a97cb"/><rect x="618.3" y="134.5" width="4.3" height="4.3" fill="#5f9cce"/><rect x="622.0" y="134.5" width="4.3" height="4.3" fill="#65a1d1"/><rect x="625.7" y="134.5" width="4.3" height="4.3" fill="#6ba6d4"/><rect x="629.4" y="134.5" width="4.3" height="4.3" fill="#70abd7"/><rect x="633.1" y="134.5" width="4.3" height="4.3" fill="#77b1db"/><rect x="636.8" y="134.5" width="4.3" height="4.3" fill="#7eb7de"/><rect x="640.4" y="134.5" width="4.3" height="4.3" fill="#8abee1"/><rect x="644.1" y="134.5" width="4.3" height="4.3" fill="#97c5e3"/><rect x="647.8" y="134.5" width="4.3" height="4.3" fill="#a5cde6"/><rect x="651.5" y="134.5" width="4.3" height="4.3" fill="#b1d3e9"/><rect x="655.2" y="134.5" width="4.3" height="4.3" fill="#bdd9ed"/><rect x="658.9" y="134.5" width="4.3" height="4.3" fill="#c8dff1"/><rect x="511.2" y="138.2" width="4.3" height="4.3" fill="#b3d4ea"/><rect x="514.9" y="138.2" width="4.3" height="4.3" fill="#a7cee7"/><rect x="518.6" y="138.2" width="4.3" height="4.3" fill="#9bc7e4"/><rect x="522.3" y="138.2" width="4.3" height="4.3" fill="#8ec0e1"/><rect x="526.0" y="138.2" width="4.3" height="4.3" fill="#82b9df"/><rect x="529.7" y="138.2" width="4.3" height="4.3" fill="#79b3dc"/><rect x="533.4" y="138.2" width="4.3" height="4.3" fill="#73add9"/><rect x="537.0" y="138.2" width="4.3" height="4.3" fill="#6ea8d5"/><rect x="540.7" y="138.2" width="4.3" height="4.3" fill="#68a4d2"/><rect x="544.4" y="138.2" width="4.3" height="4.3" fill="#639fd0"/><rect x="548.1" y="138.2" width="4.3" height="4.3" fill="#5e9bcd"/><rect x="551.8" y="138.2" width="4.3" height="4.3" fill="#5997cb"/><rect x="555.5" y="138.2" width="4.3" height="4.3" fill="#5593c9"/><rect x="559.2" y="138.2" width="4.3" height="4.3" fill="#5290c7"/><rect x="562.9" y="138.2" width="4.3" height="4.3" fill="#4f8dc6"/><rect x="566.6" y="138.2" width="4.3" height="4.3" fill="#4c8bc5"/><rect x="570.3" y="138.2" width="4.3" height="4.3" fill="#4a89c4"/><rect x="574.0" y="138.2" width="4.3" height="4.3" fill="#4988c3"/><rect x="577.7" y="138.2" width="4.3" height="4.3" fill="#4887c3"/><rect x="581.4" y="138.2" width="4.3" height="4.3" fill="#4887c3"/><rect x="585.1" y="138.2" width="4.3" height="4.3" fill="#4887c3"/><rect x="588.7" y="138.2" width="4.3" height="4.3" fill="#4988c4"/><rect x="592.4" y="138.2" width="4.3" height="4.3" fill="#4b8ac4"/><rect x="596.1" y="138.2" width="4.3" height="4.3" fill="#4d8cc5"/><rect x="599.8" y="138.2" width="4.3" height="4.3" fill="#508ec7"/><rect x="603.5" y="138.2" width="4.3" height="4.3" fill="#5391c8"/><rect x="607.2" y="138.2" width="4.3" height="4.3" fill="#5794ca"/><rect x="610.9" y="138.2" width="4.3" height="4.3" fill="#5b98cc"/><rect x="614.6" y="138.2" width="4.3" height="4.3" fill="#609dce"/><rect x="618.3" y="138.2" width="4.3" height="4.3" fill="#65a1d1"/><rect x="622.0" y="138.2" width="4.3" height="4.3" fill="#6ba6d4"/><rect x="625.7" y="138.2" width="4.3" height="4.3" fill="#70abd7"/><rect x="629.4" y="138.2" width="4.3" height="4.3" fill="#76b0da"/><rect x="633.1" y="138.2" width="4.3" height="4.3" fill="#7cb5de"/><rect x="636.8" y="138.2" width="4.3" height="4.3" fill="#87bce0"/><rect x="640.4" y="138.2" width="4.3" height="4.3" fill="#93c3e2"/><rect x="644.1" y="138.2" width="4.3" height="4.3" fill="#a0cae5"/><rect x="647.8" y="138.2" width="4.3" height="4.3" fill="#acd1e8"/><rect x="651.5" y="138.2" width="4.3" height="4.3" fill="#b8d7ec"/><rect x="655.2" y="138.2" width="4.3" height="4.3" fill="#c4ddef"/><rect x="658.9" y="138.2" width="4.3" height="4.3" fill="#cde2f2"/><rect x="511.2" y="141.9" width="4.3" height="4.3" fill="#bad8ed"/><rect x="514.9" y="141.9" width="4.3" height="4.3" fill="#afd2e9"/><rect x="518.6" y="141.9" width="4.3" height="4.3" fill="#a4cde6"/><rect x="522.3" y="141.9" width="4.3" height="4.3" fill="#98c5e3"/><rect x="526.0" y="141.9" width="4.3" height="4.3" fill="#8cbfe1"/><rect x="529.7" y="141.9" width="4.3" height="4.3" fill="#81b8df"/><rect x="533.4" y="141.9" width="4.3" height="4.3" fill="#79b3dc"/><rect x="537.0" y="141.9" width="4.3" height="4.3" fill="#73aed9"/><rect x="540.7" y="141.9" width="4.3" height="4.3" fill="#6ea9d6"/><rect x="544.4" y="141.9" width="4.3" height="4.3" fill="#69a5d3"/><rect x="548.1" y="141.9" width="4.3" height="4.3" fill="#65a1d1"/><rect x="551.8" y="141.9" width="4.3" height="4.3" fill="#619dce"/><rect x="555.5" y="141.9" width="4.3" height="4.3" fill="#5c99cc"/><rect x="559.2" y="141.9" width="4.3" height="4.3" fill="#5996cb"/><rect x="562.9" y="141.9" width="4.3" height="4.3" fill="#5693c9"/><rect x="566.6" y="141.9" width="4.3" height="4.3" fill="#5391c8"/><rect x="570.3" y="141.9" width="4.3" height="4.3" fill="#518fc7"/><rect x="574.0" y="141.9" width="4.3" height="4.3" fill="#508ec7"/><rect x="577.7" y="141.9" width="4.3" height="4.3" fill="#4f8ec6"/><rect x="581.4" y="141.9" width="4.3" height="4.3" fill="#4f8dc6"/><rect x="585.1" y="141.9" width="4.3" height="4.3" fill="#508ec7"/><rect x="588.7" y="141.9" width="4.3" height="4.3" fill="#518fc7"/><rect x="592.4" y="141.9" width="4.3" height="4.3" fill="#5290c8"/><rect x="596.1" y="141.9" width="4.3" height="4.3" fill="#5492c9"/><rect x="599.8" y="141.9" width="4.3" height="4.3" fill="#5794ca"/><rect x="603.5" y="141.9" width="4.3" height="4.3" fill="#5a97cc"/><rect x="607.2" y="141.9" width="4.3" height="4.3" fill="#5e9bcd"/><rect x="610.9" y="141.9" width="4.3" height="4.3" fill="#629fcf"/><rect x="614.6" y="141.9" width="4.3" height="4.3" fill="#67a2d2"/><rect x="618.3" y="141.9" width="4.3" height="4.3" fill="#6ba7d4"/><rect x="622.0" y="141.9" width="4.3" height="4.3" fill="#70abd7"/><rect x="625.7" y="141.9" width="4.3" height="4.3" fill="#76b0da"/><rect x="629.4" y="141.9" width="4.3" height="4.3" fill="#7cb5dd"/><rect x="633.1" y="141.9" width="4.3" height="4.3" fill="#85bbe0"/><rect x="636.8" y="141.9" width="4.3" height="4.3" fill="#91c1e2"/><rect x="640.4" y="141.9" width="4.3" height="4.3" fill="#9dc8e4"/><rect x="644.1" y="141.9" width="4.3" height="4.3" fill="#a9cfe7"/><rect x="647.8" y="141.9" width="4.3" height="4.3" fill="#b4d5eb"/><rect x="651.5" y="141.9" width="4.3" height="4.3" fill="#c0dbee"/><rect x="655.2" y="141.9" width="4.3" height="4.3" fill="#c9e0f1"/><rect x="658.9" y="141.9" width="4.3" height="4.3" fill="#d1e4f3"/></g><g clip-path="url(#chc)"><ellipse cx="582.4" cy="82.2" rx="6.9" ry="3.5" fill="none" stroke="#f0e030" stroke-width="2.2" opacity="1"/><path d="M582.4 64.5A29.9 17.5 0 0 1 612.3 82.0A29.9 18.4 0 0 1 582.4 100.4A29.9 18.4 0 0 1 552.5 82.0A29.9 17.5 0 0 1 582.4 64.5Z" fill="none" stroke="#e6dc3c" stroke-width="1.3" opacity="1"/><path d="M582.4 55.2A46 26.8 0 0 1 628.4 82.0A46 26.6 0 0 1 582.4 108.6A46 26.6 0 0 1 536.4 82.0A46 26.8 0 0 1 582.4 55.2Z" fill="none" stroke="#e6dc3c" stroke-width="1.05" opacity="1"/><path d="M582.4 47.7A58.4 34.3 0 0 1 640.8 82.0A58.4 34.4 0 0 1 582.4 116.4A58.4 34.4 0 0 1 524.0 82.0A58.4 34.3 0 0 1 582.4 47.7Z" fill="none" stroke="#e6dc3c" stroke-width="0.85" opacity="0.9"/><path d="M582.4 40.5A74 41.5 0 0 1 656.4 82.0A74 40.8 0 0 1 582.4 122.8A74 40.8 0 0 1 508.4 82.0A74 41.5 0 0 1 582.4 40.5Z" fill="none" stroke="#e6dc3c" stroke-width="0.7" opacity="0.75"/><path d="M582.4 38.4A78 43.6 0 0 1 660.4 82.0A78 46.3 0 0 1 582.4 128.3A78 46.3 0 0 1 504.4 82.0A78 43.6 0 0 1 582.4 38.4Z" fill="none" stroke="#e6dc3c" stroke-width="0.7" opacity="0.75"/><path d="M582.4 32.4A93.8 49.6 0 0 1 676.1999999999999 82.0A93.8 49 0 0 1 582.4 131.0A93.8 49 0 0 1 488.59999999999997 82.0A93.8 49.6 0 0 1 582.4 32.4Z" fill="none" stroke="#e6dc3c" stroke-width="0.7" opacity="0.75"/><path d="M582.4 17.200000000000003A107.6 64.8 0 0 1 690.0 82.0A107.6 58.1 0 0 1 582.4 140.1A107.6 58.1 0 0 1 474.79999999999995 82.0A107.6 64.8 0 0 1 582.4 17.200000000000003Z" fill="none" stroke="#e6dc3c" stroke-width="0.7" opacity="0.75"/><path d="M582.4 19.5A112 62.5 0 0 1 694.4 82.0A112 60.5 0 0 1 582.4 142.5A112 60.5 0 0 1 470.4 82.0A112 62.5 0 0 1 582.4 19.5Z" fill="none" stroke="#e6dc3c" stroke-width="0.7" opacity="0.75"/><path d="M582.4 9.0A129 73 0 0 1 711.4 82.0A129 66 0 0 1 582.4 148.0A129 66 0 0 1 453.4 82.0A129 73 0 0 1 582.4 9.0Z" fill="none" stroke="#e6dc3c" stroke-width="0.7" opacity="0.75"/><polygon points="582.4,90.6 584.9,85.3 579.9,85.3" fill="#f5e41e"/><polygon points="576.0,100.3 581.2,102.8 581.2,97.8" fill="#f5e41e"/><polygon points="628.3,82.3 630.8,77.0 625.8,77.0" fill="#f5e41e"/><polygon points="524.0,72.0 521.5,77.2 526.5,77.2" fill="#f5e41e"/><polygon points="592.0,17.2 586.8,14.6 586.8,19.8" fill="#f5e41e"/><polygon points="593.0,32.4 587.8,29.8 587.8,34.9" fill="#f5e41e"/><polygon points="539.0,12.8 533.3,11.2 534.2,16.2" fill="#f5e41e"/><polygon points="631.6,11.7 626.8,8.3 625.9,13.3" fill="#f5e41e"/><polygon points="633.1,48.1 635.0,53.6 638.6,50.0" fill="#f5e41e"/><polygon points="519.2,146.8 521.8,141.6 516.7,141.6" fill="#f5e41e"/><polygon points="534.7,146.6 537.2,141.3 532.2,141.3" fill="#f5e41e"/><polygon points="536.3,143.0 542.0,144.1 540.7,139.2" fill="#f5e41e"/><polygon points="543.5,143.0 548.8,145.6 548.8,140.4" fill="#f5e41e"/><polygon points="640.5,106.9 635.7,110.2 640.1,112.7" fill="#f5e41e"/><polygon points="594.3,130.6 599.5,133.2 599.5,128.0" fill="#f5e41e"/><polygon points="591.6,134.1 596.9,136.7 596.9,131.5" fill="#f5e41e"/><polygon points="591.6,140.1 596.9,142.7 596.9,137.5" fill="#f5e41e"/><polygon points="628.2,139.7 633.9,141.3 633.0,136.3" fill="#f5e41e"/><polygon points="663.3,137.7 657.5,138.1 660.0,142.5" fill="#f5e41e"/></g><rect x="511.2" y="8.3" width="151.40000000000003" height="137.29999999999998" fill="none" stroke="#8a8a8a" stroke-width="0.8"/><linearGradient id="cbg8" x1="0" y1="0" x2="0" y2="1"><stop offset="0" stop-color="#f2f7fd"/><stop offset="0.042" stop-color="#eef5fc"/><stop offset="0.151" stop-color="#dae9f5"/><stop offset="0.267" stop-color="#c6def0"/><stop offset="0.384" stop-color="#a5cde6"/><stop offset="0.5" stop-color="#7db6de"/><stop offset="0.624" stop-color="#64a0d0"/><stop offset="0.741" stop-color="#4887c3"/><stop offset="0.857" stop-color="#3464aa"/><stop offset="0.952" stop-color="#27458a"/><stop offset="1.0" stop-color="#1d3a78"/></linearGradient><rect x="665.1" y="8.3" width="7.7999999999999545" height="137.29999999999998" fill="url(#cbg8)" stroke="#777" stroke-width="0.8"/><line x1="672.90" y1="13.40" x2="675.00" y2="13.40" stroke="#555" stroke-width="0.8"/><text x="677.00" y="16.70" font-size="9.6" text-anchor="start" fill="#111" >4</text><line x1="672.90" y1="45.90" x2="675.00" y2="45.90" stroke="#555" stroke-width="0.8"/><text x="677.00" y="49.20" font-size="9.6" text-anchor="start" fill="#111" >2</text><line x1="672.90" y1="78.40" x2="675.00" y2="78.40" stroke="#555" stroke-width="0.8"/><text x="677.00" y="81.70" font-size="9.6" text-anchor="start" fill="#111" >0</text><line x1="672.90" y1="110.90" x2="675.00" y2="110.90" stroke="#555" stroke-width="0.8"/><text x="674.00" y="114.20" font-size="9.6" text-anchor="start" fill="#111" >-2</text><line x1="672.90" y1="143.40" x2="675.00" y2="143.40" stroke="#555" stroke-width="0.8"/><text x="674.00" y="146.70" font-size="9.6" text-anchor="start" fill="#111" >-4</text><text x="505.00" y="24.90" font-size="9.2" text-anchor="end" fill="#111" >97.0</text><text x="505.00" y="53.00" font-size="9.2" text-anchor="end" fill="#111" >61.0</text><text x="505.00" y="81.50" font-size="9.2" text-anchor="end" fill="#111" >25.0</text><text x="505.00" y="115.90" font-size="9.2" text-anchor="end" fill="#111" >-11.0</text><text x="505.00" y="147.50" font-size="9.2" text-anchor="end" fill="#111" >-47.0</text><line x1="509.30" y1="21.00" x2="511.20" y2="21.00" stroke="#555" stroke-width="0.8"/><line x1="509.30" y1="51.90" x2="511.20" y2="51.90" stroke="#555" stroke-width="0.8"/><line x1="509.30" y1="82.70" x2="511.20" y2="82.70" stroke="#555" stroke-width="0.8"/><line x1="509.30" y1="113.60" x2="511.20" y2="113.60" stroke="#555" stroke-width="0.8"/><line x1="509.30" y1="144.50" x2="511.20" y2="144.50" stroke="#555" stroke-width="0.8"/><text x="514.80" y="154.40" font-size="9.2" text-anchor="middle" fill="#111" >-13.9</text><text x="582.20" y="154.40" font-size="9.2" text-anchor="middle" fill="#111" >19.4</text><text x="648.20" y="154.40" font-size="9.2" text-anchor="middle" fill="#111" >52.8</text><text x="586.00" y="168.00" font-size="9.5" text-anchor="middle" fill="#111" >X (nm)</text><text x="0.00" y="0.00" font-size="8.7" text-anchor="middle" fill="#111" transform="translate(483.9,79.4) rotate(-90)">θ (degree)</text><text transform="translate(475.6,14.7) scale(0.93,1)" font-size="14" font-weight="bold" fill="#111">c</text><clipPath id="cd"><rect x="37.6" y="195.0" width="163.8" height="139.39999999999998"/></clipPath><g clip-path="url(#cd)"><path d="M37.5 233.1V271.6M38.5 227.9V268.8M39.5 223.3V270.9M40.5 220.2V268.3M41.5 225.9V276.2M42.5 231.4V274.4M43.5 229.1V283.3M44.5 235.0V273.3M45.5 233.8V287.5M46.5 234.3V276.5M47.5 234.6V278.6M48.5 236.2V274.9M49.5 231.4V270.2M50.5 231.9V269.6M51.5 227.9V276.0M52.5 218.5V290.5M53.5 229.3V281.5M54.5 229.2V308.6M55.5 231.9V279.4M56.5 224.9V277.3M57.5 226.5V277.0M58.5 228.7V273.5M59.5 229.0V274.1M60.5 227.0V277.5M61.5 223.2V276.3M62.5 226.2V275.6M63.5 228.1V275.6M64.5 233.8V276.6M65.5 230.9V281.1M66.5 230.5V273.1M67.5 224.6V278.7M68.5 229.9V278.1M69.5 229.0V274.7M70.5 230.0V276.0M71.5 234.5V275.1M72.5 230.9V277.1M73.5 230.3V274.9M74.5 228.0V280.7M75.5 230.7V284.1M76.5 232.4V283.2M77.5 228.4V285.7M78.5 220.7V274.6M79.5 239.5V275.6M80.5 233.5V275.7M81.5 236.3V293.8M82.5 220.1V276.7M83.5 244.5V279.6M84.5 246.7V280.2M85.5 232.3V290.4M86.5 243.3V276.8M87.5 243.7V276.7M88.5 244.8V278.7M89.5 239.5V285.9M90.5 246.7V278.6M91.5 244.1V274.8M92.5 242.9V273.2M93.5 234.7V271.0M94.5 248.2V274.2M95.5 244.3V271.4M96.5 247.0V282.2M97.5 244.4V272.3M98.5 242.5V277.2M99.5 246.0V269.0M100.5 242.0V273.8M101.5 243.7V272.5M102.5 243.8V278.4M103.5 239.1V268.9M104.5 239.2V277.3M105.5 217.6V274.7M106.5 232.4V271.4M107.5 231.6V275.7M108.5 238.1V272.0M109.5 233.0V274.6M110.5 239.0V282.1M111.5 241.4V284.1M112.5 239.8V271.8M113.5 239.7V273.9M114.5 240.2V271.6M115.5 236.9V273.7M116.5 238.4V274.8M117.5 234.1V274.9M118.5 242.0V278.4M119.5 237.0V281.1M120.5 230.8V279.2M121.5 234.3V279.9M122.5 235.9V273.8M123.5 236.8V274.3M124.5 227.6V274.3M125.5 236.2V278.0M126.5 234.6V277.9M127.5 236.5V286.7M128.5 229.2V275.2M129.5 228.7V273.4M130.5 235.9V271.2M131.5 235.7V271.2M132.5 236.8V270.9M133.5 233.1V276.4M134.5 226.0V273.7M135.5 230.3V279.1M136.5 238.9V276.2M137.5 239.2V272.4M138.5 229.7V276.1M139.5 237.8V276.8M140.5 238.2V288.7M141.5 234.5V277.1M142.5 243.1V273.9M143.5 241.4V276.3M144.5 247.1V291.8M145.5 249.5V279.8M146.5 248.9V283.7M147.5 248.5V279.1M148.5 243.7V291.1M149.5 248.9V275.6M150.5 245.4V282.1M151.5 244.0V278.8M152.5 249.1V284.6M153.5 246.3V280.9M154.5 246.8V278.1M155.5 245.4V275.6M156.5 248.0V279.4M157.5 244.8V276.1M158.5 238.2V276.2M159.5 247.1V282.9M160.5 238.5V279.2M161.5 235.0V280.9M162.5 246.8V288.6M163.5 232.0V282.1M164.5 239.4V283.4M165.5 245.6V281.8M166.5 230.1V281.4M167.5 239.6V279.4M168.5 232.7V276.4M169.5 238.6V280.6M170.5 239.5V289.6M171.5 240.3V280.3M172.5 227.2V288.5M173.5 239.0V277.5M174.5 230.9V274.5M175.5 234.1V282.9M176.5 235.0V285.3M177.5 231.4V279.3M178.5 238.5V275.4M179.5 239.7V277.6M180.5 240.5V279.0M181.5 235.7V273.9M182.5 236.5V273.7M183.5 222.8V284.3M184.5 239.4V280.3M185.5 237.5V281.9M186.5 243.3V280.6M187.5 216.5V279.2M188.5 241.8V271.4M189.5 240.9V272.4M190.5 239.4V274.9M191.5 240.5V272.0M192.5 237.0V273.6M193.5 241.5V286.8M194.5 240.5V273.0M195.5 239.2V276.7M196.5 241.0V277.0M197.5 237.6V277.3M198.5 244.1V282.7M199.5 242.0V279.7M200.5 242.9V280.9" stroke="#3b36f5" stroke-width="1.0" fill="none"/><path d="M37.5 249.9V265.6M38.5 251.0V266.4M39.5 243.2V265.1M40.5 246.3V266.7M41.5 243.4V270.9M42.5 248.7V282.1M43.5 242.2V265.9M44.5 248.5V261.2M45.5 247.3V266.9M46.5 250.4V265.8M47.5 251.4V265.6M48.5 245.9V267.2M49.5 250.3V265.5M50.5 252.3V267.3M51.5 249.1V283.0M52.5 250.6V266.6M53.5 249.0V266.4M54.5 250.4V273.1M55.5 237.5V263.7M56.5 245.4V262.8M57.5 247.5V262.6M58.5 247.5V261.8M59.5 246.6V264.3M60.5 239.8V262.7M61.5 249.1V263.3M62.5 246.8V263.0M63.5 249.1V272.2M64.5 245.6V263.3M65.5 235.2V270.1M66.5 238.7V281.7M67.5 241.0V268.4M68.5 246.5V265.2M69.5 250.5V264.6M70.5 252.1V273.5M71.5 253.8V270.7M72.5 247.5V268.4M73.5 251.9V266.7M74.5 236.5V269.4M75.5 247.3V274.3M76.5 253.4V271.2M77.5 250.8V278.1M78.5 249.7V281.7M79.5 252.3V270.1M80.5 249.5V270.2M81.5 247.4V264.7M82.5 252.0V264.3M83.5 249.3V276.5M84.5 254.8V268.2M85.5 247.3V267.9M86.5 253.3V275.9M87.5 252.5V267.4M88.5 251.9V265.6M89.5 250.6V265.3M90.5 242.5V268.1M91.5 251.4V266.8M92.5 254.1V267.4M93.5 245.3V266.3M94.5 251.3V270.0M95.5 243.4V266.6M96.5 257.0V271.7M97.5 255.2V270.0M98.5 242.3V273.0M99.5 254.3V268.9M100.5 256.4V269.7M101.5 244.9V271.0M102.5 250.7V278.8M103.5 251.2V266.4M104.5 249.3V265.7M105.5 244.5V271.7M106.5 240.7V267.8M107.5 252.1V266.8M108.5 254.3V267.2M109.5 249.1V275.4M110.5 254.8V275.0M111.5 253.7V265.9M112.5 250.8V266.7M113.5 250.9V267.8M114.5 245.6V261.5M115.5 225.5V266.3M116.5 247.6V259.8M117.5 245.9V264.5M118.5 251.5V274.6M119.5 251.1V270.9M120.5 250.5V271.2M121.5 256.1V271.9M122.5 254.2V273.4M123.5 243.9V268.4M124.5 247.8V264.2M125.5 246.1V263.1M126.5 246.7V261.6M127.5 246.9V265.5M128.5 245.3V263.2M129.5 251.7V265.7M130.5 253.2V277.9M131.5 249.6V267.4M132.5 252.1V273.2M133.5 247.1V297.4M134.5 252.9V269.7M135.5 248.7V275.5M136.5 251.8V273.7M137.5 246.8V269.7M138.5 256.3V270.1M139.5 252.9V271.8M140.5 256.2V272.2M141.5 255.7V273.6M142.5 253.0V274.7M143.5 252.3V274.5M144.5 256.5V273.6M145.5 255.9V272.5M146.5 255.5V277.7M147.5 256.9V270.5M148.5 252.0V275.1M149.5 245.4V270.8M150.5 257.9V276.3M151.5 248.3V272.2M152.5 249.0V273.5M153.5 248.3V277.9M154.5 253.0V272.5M155.5 255.6V270.5M156.5 249.2V276.0M157.5 256.7V271.5M158.5 260.2V278.8M159.5 263.6V279.6M160.5 260.4V277.3M161.5 261.4V279.3M162.5 261.3V286.4M163.5 263.0V279.5M164.5 262.2V277.9M165.5 262.0V275.3M166.5 255.2V279.4M167.5 259.8V276.6M168.5 257.9V274.4M169.5 257.4V295.5M170.5 259.9V276.6M171.5 254.6V270.7M172.5 253.4V269.5M173.5 251.1V281.1M174.5 247.8V266.4M175.5 248.8V268.4M176.5 245.5V268.6M177.5 257.8V272.9M178.5 255.6V272.0M179.5 256.1V276.0M180.5 257.3V272.7M181.5 255.6V269.8M182.5 252.9V271.4M183.5 244.5V269.3M184.5 253.5V274.3M185.5 248.5V280.7M186.5 252.7V269.9M187.5 256.9V270.3M188.5 243.5V269.7M189.5 251.2V270.0M190.5 254.1V284.3M191.5 250.5V270.9M192.5 255.1V269.6M193.5 250.8V270.1M194.5 253.2V269.3M195.5 254.2V267.1M196.5 254.4V268.8M197.5 253.4V268.9M198.5 249.5V273.3M199.5 251.0V269.7M200.5 255.3V275.9" stroke="#1c1a78" stroke-width="1.0" fill="none"/><path d="M37.5 276.1V307.3M38.5 275.5V307.7M39.5 275.1V308.2M40.5 266.7V309.2M41.5 277.8V311.7M42.5 253.9V315.9M43.5 280.6V311.5M44.5 272.2V312.4M45.5 278.8V325.2M46.5 273.7V309.5M47.5 276.1V315.0M48.5 264.3V313.0M49.5 278.7V312.5M50.5 275.2V307.2M51.5 277.9V311.6M52.5 279.1V307.3M53.5 273.5V309.0M54.5 275.6V309.2M55.5 276.1V310.1M56.5 256.7V306.4M57.5 274.6V310.9M58.5 278.5V307.0M59.5 279.5V315.7M60.5 279.9V315.9M61.5 264.5V312.2M62.5 274.9V307.6M63.5 274.8V307.4M64.5 271.9V308.3M65.5 269.7V305.8M66.5 274.0V306.7M67.5 273.0V314.1M68.5 278.7V318.3M69.5 270.4V307.6M70.5 269.3V310.2M71.5 262.2V315.0M72.5 265.8V306.6M73.5 277.6V309.0M74.5 274.7V323.0M75.5 278.7V310.9M76.5 281.0V312.7M77.5 278.7V310.7M78.5 280.9V310.4M79.5 279.8V315.5M80.5 277.9V314.6M81.5 279.0V308.4M82.5 276.0V310.4M83.5 277.1V312.5M84.5 279.2V316.8M85.5 265.9V311.7M86.5 271.2V311.7M87.5 281.2V330.1M88.5 276.9V310.0M89.5 271.5V311.0M90.5 274.8V313.5M91.5 277.8V310.5M92.5 280.8V310.7M93.5 264.8V313.5M94.5 269.7V316.3M95.5 285.1V318.5M96.5 283.7V316.5M97.5 281.4V318.3M98.5 280.3V312.9M99.5 275.5V316.1M100.5 273.2V312.8M101.5 278.6V312.5M102.5 278.3V314.2M103.5 280.1V311.8M104.5 266.6V314.3M105.5 279.6V314.2M106.5 279.5V311.6M107.5 275.8V313.1M108.5 279.1V312.3M109.5 270.8V315.0M110.5 276.4V309.5M111.5 278.2V313.3M112.5 269.6V312.9M113.5 276.7V311.1M114.5 276.0V307.6M115.5 264.5V307.3M116.5 272.0V308.0M117.5 278.4V309.1M118.5 270.0V309.4M119.5 274.2V310.3M120.5 277.7V309.2M121.5 276.7V308.6M122.5 269.2V310.5M123.5 274.8V314.2M124.5 277.1V324.8M125.5 273.4V314.5M126.5 277.8V312.3M127.5 274.3V310.2M128.5 270.7V310.8M129.5 277.8V309.2M130.5 274.8V307.9M131.5 275.2V309.0M132.5 271.2V328.4M133.5 270.3V311.7M134.5 277.4V311.5M135.5 277.8V309.2M136.5 277.3V307.7M137.5 276.4V321.5M138.5 277.6V307.8M139.5 277.7V316.8M140.5 279.1V317.4M141.5 278.4V320.3M142.5 263.2V315.0M143.5 283.3V315.2M144.5 281.1V311.9M145.5 260.2V309.9M146.5 280.0V309.8M147.5 280.1V316.5M148.5 267.6V316.3M149.5 275.3V307.4M150.5 272.9V314.9M151.5 276.7V310.1M152.5 276.0V308.6M153.5 277.0V311.0M154.5 276.2V309.2M155.5 280.3V311.4M156.5 281.1V314.3M157.5 273.0V315.4M158.5 270.8V312.7M159.5 278.7V308.8M160.5 273.4V307.9M161.5 276.3V305.6M162.5 277.2V306.4M163.5 276.1V307.2M164.5 275.9V311.3M165.5 272.1V310.5M166.5 273.3V316.9M167.5 272.9V309.3M168.5 281.6V313.4M169.5 280.6V314.1M170.5 282.7V316.0M171.5 267.2V316.7M172.5 282.7V321.2M173.5 282.2V311.4M174.5 280.5V315.8M175.5 279.2V328.7M176.5 279.8V311.1M177.5 270.2V311.5M178.5 270.5V321.9M179.5 266.0V314.8M180.5 282.0V316.1M181.5 282.8V319.3M182.5 281.7V315.5M183.5 277.3V309.8M184.5 279.7V316.6M185.5 284.2V312.9M186.5 276.2V309.9M187.5 277.8V313.4M188.5 277.0V320.5M189.5 273.6V310.5M190.5 279.1V308.8M191.5 275.5V309.7M192.5 280.5V312.9M193.5 278.7V310.0M194.5 277.4V308.3M195.5 280.4V311.5M196.5 275.7V311.1M197.5 276.9V311.5M198.5 275.6V311.4M199.5 281.7V332.0M200.5 283.1V313.7" stroke="#fb1d1d" stroke-width="1.0" fill="none"/><path d="M37.5 291.6V302.6M38.5 288.5V299.6M39.5 283.4V301.6M40.5 289.5V302.7M41.5 281.0V300.0M42.5 295.3V302.9M43.5 294.3V303.7M44.5 288.9V306.5M45.5 286.2V314.2M46.5 291.9V300.0M47.5 287.8V298.4M48.5 290.5V297.4M49.5 285.0V296.9M50.5 290.3V328.3M51.5 292.7V301.7M52.5 293.9V304.8M53.5 294.7V307.2M54.5 293.8V304.4M55.5 295.1V303.6M56.5 289.9V312.3M57.5 291.3V300.5M58.5 291.9V301.3M59.5 287.0V296.4M60.5 285.8V299.4M61.5 287.9V297.4M62.5 287.6V295.2M63.5 289.2V300.4M64.5 283.9V298.5M65.5 287.9V304.4M66.5 291.3V302.2M67.5 295.3V302.5M68.5 291.4V306.3M69.5 290.8V303.7M70.5 293.0V303.0M71.5 291.8V301.7M72.5 287.9V303.4M73.5 287.0V302.9M74.5 292.1V315.2M75.5 292.2V303.4M76.5 291.2V304.7M77.5 289.9V304.9M78.5 291.4V306.0M79.5 293.7V307.1M80.5 296.6V305.5M81.5 290.7V325.6M82.5 293.4V303.8M83.5 291.0V313.5M84.5 294.2V317.9M85.5 292.8V300.4M86.5 285.7V303.0M87.5 292.6V301.0M88.5 291.5V300.4M89.5 293.3V314.0M90.5 291.3V298.2M91.5 288.1V300.7M92.5 289.1V298.3M93.5 286.0V298.6M94.5 281.0V299.5M95.5 293.5V305.0M96.5 295.1V304.1M97.5 293.8V306.6M98.5 296.1V304.2M99.5 287.8V303.9M100.5 294.3V301.9M101.5 292.8V300.8M102.5 291.7V299.7M103.5 285.4V299.7M104.5 290.6V299.2M105.5 289.7V297.5M106.5 280.6V299.0M107.5 290.7V299.8M108.5 289.4V303.7M109.5 287.6V303.2M110.5 287.0V300.0M111.5 288.8V298.7M112.5 288.3V298.2M113.5 289.6V298.2M114.5 290.2V303.5M115.5 290.6V300.6M116.5 289.2V300.5M117.5 288.7V303.8M118.5 292.3V306.3M119.5 289.3V307.8M120.5 288.6V299.7M121.5 290.6V308.1M122.5 290.9V304.9M123.5 287.4V300.7M124.5 287.7V299.6M125.5 290.6V303.3M126.5 293.9V308.1M127.5 291.7V299.2M128.5 294.1V303.9M129.5 292.2V300.8M130.5 289.4V300.3M131.5 287.5V309.2M132.5 287.0V297.5M133.5 283.8V296.4M134.5 289.5V298.0M135.5 291.7V299.0M136.5 292.1V314.9M137.5 288.1V304.7M138.5 288.4V302.7M139.5 291.8V299.2M140.5 285.7V297.8M141.5 279.9V296.4M142.5 285.2V298.4M143.5 277.0V290.4M144.5 284.3V292.7M145.5 285.3V293.8M146.5 279.8V296.5M147.5 284.3V293.0M148.5 288.7V309.5M149.5 288.3V299.5M150.5 288.7V304.4M151.5 294.1V303.7M152.5 291.2V302.9M153.5 290.6V300.9M154.5 288.7V297.1M155.5 282.8V299.1M156.5 286.8V303.2M157.5 286.9V302.5M158.5 290.9V299.1M159.5 291.4V301.4M160.5 290.2V301.3M161.5 290.3V296.8M162.5 282.7V300.1M163.5 287.0V294.5M164.5 283.4V298.2M165.5 288.0V295.4M166.5 287.3V298.5M167.5 287.5V304.3M168.5 292.8V299.6M169.5 287.0V302.2M170.5 290.6V299.6M171.5 293.8V305.8M172.5 292.8V304.1M173.5 292.7V300.4M174.5 291.7V301.7M175.5 293.5V303.4M176.5 287.4V302.1M177.5 289.7V305.1M178.5 291.5V300.3M179.5 291.2V306.5M180.5 289.7V297.6M181.5 289.7V300.8M182.5 286.7V297.7M183.5 286.6V304.2M184.5 288.2V302.6M185.5 292.1V310.9M186.5 291.9V304.1M187.5 293.3V301.7M188.5 290.8V306.0M189.5 293.0V300.3M190.5 295.3V309.5M191.5 295.0V302.4M192.5 289.7V298.3M193.5 286.5V297.8M194.5 289.1V299.0M195.5 287.1V297.7M196.5 284.6V298.5M197.5 288.5V297.2M198.5 288.1V298.4M199.5 289.6V298.2M200.5 286.3V303.8" stroke="#a81414" stroke-width="1.0" fill="none"/></g><rect x="37.6" y="195.0" width="163.8" height="139.39999999999998" fill="none" stroke="#707070" stroke-width="1.4"/><line x1="38.30" y1="334.40" x2="38.30" y2="337.40" stroke="#333" stroke-width="1"/><line x1="38.30" y1="195.00" x2="38.30" y2="192.00" stroke="#333" stroke-width="1"/><text transform="translate(38.50,349.40) scale(1.15,1)" font-size="8.5" text-anchor="middle" fill="#111">0</text><line x1="78.80" y1="334.40" x2="78.80" y2="337.40" stroke="#333" stroke-width="1"/><line x1="78.80" y1="195.00" x2="78.80" y2="192.00" stroke="#333" stroke-width="1"/><text transform="translate(79.00,349.40) scale(1.15,1)" font-size="8.5" text-anchor="middle" fill="#111">5</text><line x1="119.30" y1="334.40" x2="119.30" y2="337.40" stroke="#333" stroke-width="1"/><line x1="119.30" y1="195.00" x2="119.30" y2="192.00" stroke="#333" stroke-width="1"/><text transform="translate(119.50,349.40) scale(1.15,1)" font-size="8.5" text-anchor="middle" fill="#111">10</text><line x1="159.80" y1="334.40" x2="159.80" y2="337.40" stroke="#333" stroke-width="1"/><line x1="159.80" y1="195.00" x2="159.80" y2="192.00" stroke="#333" stroke-width="1"/><text transform="translate(160.00,349.40) scale(1.15,1)" font-size="8.5" text-anchor="middle" fill="#111">15</text><line x1="200.30" y1="334.40" x2="200.30" y2="337.40" stroke="#333" stroke-width="1"/><line x1="200.30" y1="195.00" x2="200.30" y2="192.00" stroke="#333" stroke-width="1"/><text transform="translate(200.50,349.40) scale(1.15,1)" font-size="8.5" text-anchor="middle" fill="#111">20</text><text x="122.00" y="359.80" font-size="9.1" text-anchor="middle" fill="#111" >Time (s)</text><line x1="33.60" y1="219.00" x2="37.60" y2="219.00" stroke="#333" stroke-width="1"/><text transform="translate(32.00,221.60) scale(1.1,1)" font-size="8.8" text-anchor="end" fill="#111">500</text><line x1="33.60" y1="255.80" x2="37.60" y2="255.80" stroke="#333" stroke-width="1"/><text transform="translate(32.00,258.40) scale(1.1,1)" font-size="8.8" text-anchor="end" fill="#111">0</text><line x1="33.60" y1="292.60" x2="37.60" y2="292.60" stroke="#333" stroke-width="1"/><text transform="translate(32.00,295.20) scale(1.1,1)" font-size="8.8" text-anchor="end" fill="#111">-500</text><line x1="33.60" y1="329.40" x2="37.60" y2="329.40" stroke="#333" stroke-width="1"/><text transform="translate(32.00,332.00) scale(1.1,1)" font-size="8.8" text-anchor="end" fill="#111">-1000</text><line x1="201.40" y1="194.80" x2="205.40" y2="194.80" stroke="#333" stroke-width="1"/><text transform="translate(209.00,198.30) scale(1.13,1)" font-size="8.8" text-anchor="start" fill="#111">200</text><line x1="201.40" y1="220.70" x2="205.40" y2="220.70" stroke="#333" stroke-width="1"/><text transform="translate(208.00,224.20) scale(1.13,1)" font-size="8.8" text-anchor="start" fill="#111">150</text><line x1="201.40" y1="246.60" x2="205.40" y2="246.60" stroke="#333" stroke-width="1"/><text transform="translate(208.00,250.10) scale(1.13,1)" font-size="8.8" text-anchor="start" fill="#111">100</text><line x1="201.40" y1="272.50" x2="205.40" y2="272.50" stroke="#333" stroke-width="1"/><text transform="translate(209.00,276.00) scale(1.13,1)" font-size="8.8" text-anchor="start" fill="#111">50</text><line x1="201.40" y1="298.40" x2="205.40" y2="298.40" stroke="#333" stroke-width="1"/><text transform="translate(209.00,301.90) scale(1.13,1)" font-size="8.8" text-anchor="start" fill="#111">0</text><line x1="201.40" y1="324.30" x2="205.40" y2="324.30" stroke="#333" stroke-width="1"/><text transform="translate(205.80,327.80) scale(1.13,1)" font-size="8.8" text-anchor="start" fill="#111">-50</text><text x="0.00" y="0.00" font-size="9.3" text-anchor="middle" fill="#111" transform="translate(16.3,261.0) rotate(-90)">X (nm)</text><text x="0.00" y="0.00" font-size="9.1" text-anchor="middle" fill="#111" transform="translate(227.3,260.3) rotate(90)">Pitch&#160;&#160;(degree)</text><rect x="42" y="198" width="36.5" height="16.8" fill="#fff" stroke="#333" stroke-width="0.8"/><line x1="44.60" y1="203.50" x2="57.70" y2="203.50" stroke="#4f5cf2" stroke-width="1"/><line x1="44.60" y1="209.50" x2="57.70" y2="209.50" stroke="#fa2020" stroke-width="1"/><text x="61.30" y="205.40" font-size="7.3" text-anchor="start" fill="#111" >X</text><text x="61.30" y="212.50" font-size="7.3" text-anchor="start" fill="#111" >Pitch</text><text x="105.40" y="205.30" font-size="8.2" text-anchor="start" fill="#111" font-weight="bold" >30 min</text><text x="5.20" y="188.60" font-size="13.8" text-anchor="start" fill="#111" font-weight="bold" >d</text><clipPath id="ce"><rect x="284.5" y="196.5" width="167.7" height="137.3"/></clipPath><g clip-path="url(#ce)"><polyline points="285.0,307.0 285.4,307.6 285.9,306.2 286.4,307.6 287.1,307.7 287.8,306.4 288.5,306.8 289.3,306.4 290.0,305.7 290.8,305.2 291.6,304.1 292.5,306.2 293.4,304.9 294.3,306.4 295.1,305.0 295.9,304.3 296.6,303.4 297.2,304.7 297.7,303.2 298.2,304.6 298.6,303.1 299.0,303.4 299.4,302.0 299.8,304.5 300.3,302.5 300.8,302.0 301.4,302.3 301.9,300.6 302.5,301.2 303.1,299.3 303.6,300.0 304.2,298.4 304.7,297.5 305.2,298.1 305.7,297.2 306.2,298.5 306.7,297.9 307.1,298.1 307.6,297.8 308.0,297.4 308.5,297.6 309.0,298.3 309.4,297.5 309.8,297.2 310.3,297.2 310.7,297.9 311.1,297.7 311.6,299.7 312.0,297.7 312.4,297.9 312.8,298.6 313.2,299.4 313.5,299.0 313.9,298.7 314.3,299.0 314.8,299.6 315.4,300.8 316.1,299.7 316.8,300.8 317.6,300.8 318.4,301.9 319.3,302.4 320.1,301.5 320.9,304.6 321.7,303.3 322.4,303.0 323.2,302.9 324.0,303.4 324.7,303.6 325.4,304.0 326.1,303.6 326.7,304.1 327.3,302.8 327.8,303.7 328.3,303.9 328.7,305.2 329.0,306.0 329.4,305.1 329.7,306.4 330.1,307.4 330.5,307.6 330.9,306.2 331.3,307.1 331.8,306.6 332.2,305.6 332.6,306.9 333.1,304.3 333.6,304.5 334.2,304.8 334.8,304.6 335.5,304.2 336.3,305.3 337.1,305.4 337.8,305.1 338.6,305.2 339.3,304.5 340.0,303.7 340.6,306.0 341.1,303.8 341.6,306.0 342.0,304.3 342.5,304.5 343.0,304.2 343.6,304.8 344.3,303.5 345.1,304.8 346.0,303.5 346.9,302.7 347.9,301.6 348.9,301.7 349.9,300.9 350.9,301.8 351.8,300.8 352.6,298.7 353.4,300.7 354.2,297.8 355.0,300.4 355.7,298.0 356.5,299.2 357.2,299.7 358.0,299.0 358.8,298.1 359.7,299.6 360.5,297.4 361.4,297.5 362.2,299.4 363.0,297.7 363.7,298.4 364.4,298.8 365.0,298.1 365.5,298.4 365.9,298.3 366.3,298.4 366.7,299.1 367.1,299.0 367.5,298.6 368.0,299.1 368.5,298.2 369.0,298.2 369.5,298.2 370.0,299.6 370.5,300.4 371.0,299.6 371.5,298.3 372.0,299.6 372.5,300.6 373.0,300.9 373.5,301.1 373.9,302.1 374.4,302.5 374.9,301.3 375.5,302.9 376.0,302.5 376.6,303.5 377.1,304.5 377.7,305.3 378.3,304.8 378.9,304.2 379.6,304.6 380.3,305.6 381.0,304.8 381.8,305.8 382.6,306.6 383.5,307.2 384.4,306.7 385.3,307.5 386.2,308.5 387.1,308.0 388.0,306.8 388.9,308.3 389.8,308.4 390.7,308.0 391.6,308.4 392.5,307.3 393.4,309.3 394.2,308.7 395.0,308.1 395.7,308.8 396.3,308.9 396.9,308.4 397.4,307.3 398.0,307.3 398.6,310.9 399.2,308.7 400.0,309.3 400.9,309.8 401.8,308.9 402.8,309.8 403.9,308.0 404.9,308.7 406.0,306.6 407.0,308.2 408.0,308.0 408.9,307.5 409.8,307.3 410.7,307.1 411.6,307.3 412.4,307.2 413.3,305.7 414.1,306.9 415.0,305.3 415.9,306.0 416.7,305.5 417.6,305.9 418.4,305.2 419.3,305.6 420.2,304.9 421.1,304.5 422.0,305.7 423.0,305.3 424.0,305.1 425.0,305.2 426.0,303.6 427.0,304.9 428.0,303.4 429.0,304.3 430.0,303.9 430.9,304.2 431.8,304.6 432.7,304.2 433.6,303.7 434.4,305.2 435.3,305.5 436.1,305.3 437.0,305.7 437.9,303.9 438.7,305.3 439.6,305.3 440.4,304.2 441.3,305.7 442.2,305.8 443.1,304.8 444.0,305.4 445.0,306.1 446.1,306.6 447.3,306.7 448.4,305.5 449.5,305.6 450.5,306.0 451.4,306.3 452.0,306.0" fill="none" stroke="#f21b1b" stroke-width="1.5" stroke-linejoin="round" /><path d="M286.5 307.6V307.9M287.5 306.8V308.1M288.5 306.4V307.2M289.5 305.7V306.6M290.5 304.0V305.7M291.5 303.9V305.3M292.5 306.0V306.4M293.5 303.6V305.7M294.5 306.0V306.6M295.5 304.6V304.7M296.5 303.3V304.2M297.5 303.7V304.9M298.5 303.3V304.4M299.5 302.6V303.2M300.5 302.1V303.1M301.5 300.6V302.1M302.5 299.9V302.5M303.5 299.7V300.1M304.5 295.9V299.3M305.5 297.5V298.6M306.5 297.7V298.6M307.5 297.2V298.4M308.5 296.9V298.2M309.5 296.5V298.9M310.5 297.5V297.9M311.5 299.1V299.5M312.5 297.2V298.8M313.5 298.1V299.2M314.5 299.1V302.2M315.5 299.5V302.5M316.5 300.2V300.6M317.5 300.6V301.3M318.5 300.0V302.7M319.5 301.9V302.9M320.5 302.9V303.6M321.5 302.0V304.2M322.5 301.4V303.5M323.5 301.8V303.9M324.5 303.5V304.8M325.5 303.3V304.7M326.5 303.5V304.5M327.5 301.3V303.3M328.5 304.7V305.1M329.5 304.4V307.4M330.5 306.4V308.4M331.5 305.4V307.2M332.5 306.1V306.9M333.5 304.3V304.9M334.5 303.1V304.8M335.5 303.6V305.4M336.5 305.0V305.5M337.5 304.8V309.0M338.5 304.9V305.3M339.5 303.6V307.2M340.5 305.4V305.7M341.5 305.6V306.5M342.5 303.8V304.6M343.5 303.7V304.7M344.5 303.7V306.0M345.5 303.1V304.4M346.5 302.9V303.7M347.5 298.4V304.1M348.5 301.6V302.6M349.5 300.8V302.6M350.5 301.4V301.7M351.5 300.9V301.7M352.5 298.4V301.7M353.5 300.4V300.5M354.5 298.8V299.0M355.5 298.1V299.8M356.5 298.6V299.4M357.5 297.9V299.7M358.5 297.6V299.3M359.5 294.4V300.3M360.5 297.1V300.9M361.5 295.2V301.6M362.5 297.9V299.8M363.5 296.3V298.6M364.5 296.8V299.0M365.5 297.9V300.1M366.5 298.6V303.5M367.5 298.2V303.5M368.5 296.1V301.9M369.5 298.0V299.1M370.5 299.6V300.6M371.5 296.3V299.1M372.5 300.5V300.9M373.5 299.1V305.0M374.5 301.6V302.4M375.5 301.1V302.9M376.5 302.9V303.6M377.5 302.3V305.7M378.5 304.0V305.9M379.5 304.5V304.9M380.5 304.7V305.8M381.5 305.0V305.6M382.5 306.0V306.6M383.5 306.1V308.5M384.5 306.7V306.9M385.5 307.3V308.2M386.5 307.9V308.4M387.5 307.3V308.8M388.5 306.7V307.9M389.5 306.6V308.5M390.5 308.0V308.5M391.5 308.1V309.5M392.5 306.2V307.7M393.5 305.9V309.5M394.5 307.4V308.8M395.5 308.1V309.9M396.5 308.5V311.3M397.5 307.1V308.5M398.5 310.1V310.4M399.5 308.8V309.2M400.5 308.5V310.4M401.5 307.8V309.7M402.5 308.3V309.6M403.5 308.3V308.8M404.5 307.7V309.7M405.5 306.2V309.5M406.5 307.3V307.8M407.5 306.3V308.4M408.5 306.4V308.6M409.5 306.1V307.6M410.5 306.7V307.2M411.5 306.5V308.2M412.5 306.8V307.2M413.5 305.9V306.5M414.5 305.7V306.6M415.5 304.9V305.7M416.5 304.8V306.3M417.5 304.3V306.1M418.5 305.2V306.9M419.5 305.0V308.2M420.5 303.9V306.1M421.5 304.9V306.1M422.5 305.1V306.2M423.5 303.8V306.2M424.5 305.1V305.2M425.5 303.0V305.0M426.5 303.0V305.2M427.5 304.1V306.2M428.5 303.6V304.1M429.5 303.9V304.8M430.5 304.0V304.1M431.5 303.7V305.0M432.5 303.7V304.5M433.5 303.7V304.9M434.5 305.0V305.6M435.5 305.4V305.9M436.5 304.8V306.5M437.5 304.0V304.9M438.5 303.6V305.5M439.5 305.3V306.7M440.5 303.5V304.5M441.5 305.1V305.8M442.5 304.9V305.8M443.5 304.3V308.7M444.5 305.5V306.3M445.5 305.6V306.5M446.5 306.2V308.9M447.5 306.1V307.1M448.5 305.1V306.2M449.5 305.5V305.6M450.5 303.9V306.2M451.5 303.9V306.5" stroke="#f21b1b" stroke-width="0.9" fill="none"/><polygon points="366.2,300 368.5,290.8 370.6,300" fill="#f21b1b"/><polygon points="367.6,300 368.4,308.6 369.2,300" fill="#f21b1b"/><polyline points="285.4,304.0 285.9,304.1 286.5,304.1 287.1,304.1 287.6,304.1 288.2,304.1 288.7,304.1 289.3,304.1 289.8,304.2 290.4,304.2 290.9,304.2 291.5,304.2 292.0,304.3 292.6,304.3 293.2,304.3 293.7,304.4 294.3,304.4 294.8,304.5 295.4,304.5 295.9,304.6 296.5,304.6 297.0,304.7 297.6,304.7 298.2,304.8 298.7,304.9 299.3,304.9 299.8,305.0 300.4,305.1 300.9,305.1 301.5,305.2 302.0,305.3 302.6,305.4 303.1,305.5 303.7,305.5 304.3,305.6 304.8,305.7 305.4,305.8 305.9,305.9 306.5,305.9 307.0,306.0 307.6,306.1 308.1,306.2 308.7,306.3 309.2,306.4 309.8,306.5 310.4,306.5 310.9,306.6 311.5,306.7 312.0,306.8 312.6,306.9 313.1,306.9 313.7,307.0 314.2,307.1 314.8,307.2 315.4,307.2 315.9,307.3 316.5,307.4 317.0,307.4 317.6,307.5 318.1,307.5 318.7,307.6 319.2,307.6 319.8,307.7 320.3,307.7 320.9,307.8 321.5,307.8 322.0,307.8 322.6,307.8 323.1,307.9 323.7,307.9 324.2,307.9 324.8,307.9 325.3,307.9 325.9,307.9 326.5,307.8 327.0,307.8 327.6,307.8 328.1,307.8 328.7,307.7 329.2,307.7 329.8,307.6 330.3,307.6 330.9,307.5 331.4,307.4 332.0,307.4 332.6,307.3 333.1,307.2 333.7,307.1 334.2,307.0 334.8,306.9 335.3,306.8 335.9,306.6 336.4,306.5 337.0,306.4 337.6,306.2 338.1,306.1 338.7,306.0 339.2,305.8 339.8,305.6 340.3,305.5 340.9,305.3 341.4,305.1 342.0,305.0 342.5,304.8 343.1,304.6 343.7,304.4 344.2,304.2 344.8,304.0 345.3,303.8 345.9,303.6 346.4,303.5 347.0,303.3 347.5,303.1 348.1,302.9 348.6,302.7 349.2,302.5 349.8,302.3 350.3,302.1 350.9,301.9 351.4,301.7 352.0,301.5 352.5,301.3 353.1,301.1 353.6,301.0 354.2,300.8 354.8,300.6 355.3,300.5 355.9,300.3 356.4,300.2 357.0,300.0 357.5,299.9 358.1,299.7 358.6,299.6 359.2,299.5 359.7,299.4 360.3,299.3 360.9,299.2 361.4,299.2 362.0,299.1 362.5,299.1 363.1,299.0 363.6,299.0 364.2,299.0 364.7,299.0 365.3,299.0 365.9,299.0 366.4,299.1 367.0,299.1 367.5,299.2 368.1,299.3 368.6,299.4 369.2,299.7 369.7,299.9 370.3,300.1 370.8,300.4 371.4,300.7 372.0,300.9 372.5,301.2 373.1,301.4 373.6,301.7 374.2,302.0 374.7,302.2 375.3,302.5 375.8,302.8 376.4,303.0 377.0,303.3 377.5,303.6 378.1,303.8 378.6,304.1 379.2,304.3 379.7,304.6 380.3,304.8 380.8,305.1 381.4,305.3 381.9,305.5 382.5,305.8 383.1,306.0 383.6,306.2 384.2,306.4 384.7,306.6 385.3,306.8 385.8,306.9 386.4,307.1 386.9,307.3 387.5,307.4 388.1,307.6 388.6,307.7 389.2,307.9 389.7,308.0 390.3,308.1 390.8,308.2 391.4,308.3 391.9,308.4 392.5,308.5 393.0,308.5 393.6,308.6 394.2,308.7 394.7,308.7 395.3,308.7 395.8,308.8 396.4,308.8 396.9,308.8 397.5,308.8 398.0,308.8 398.6,308.8 399.1,308.8 399.7,308.8 400.3,308.8 400.8,308.7 401.4,308.7 401.9,308.6 402.5,308.6 403.0,308.5 403.6,308.5 404.1,308.4 404.7,308.3 405.3,308.2 405.8,308.2 406.4,308.1 406.9,308.0 407.5,307.9 408.0,307.8 408.6,307.7 409.1,307.6 409.7,307.5 410.2,307.4 410.8,307.3 411.4,307.1 411.9,307.0 412.5,306.9 413.0,306.8 413.6,306.7 414.1,306.6 414.7,306.5 415.2,306.3 415.8,306.2 416.4,306.1 416.9,306.0 417.5,305.9 418.0,305.8 418.6,305.7 419.1,305.6 419.7,305.5 420.2,305.4 420.8,305.2 421.3,305.1 421.9,305.1 422.5,305.0 423.0,304.9 423.6,304.8 424.1,304.7 424.7,304.6 425.2,304.5 425.8,304.4 426.3,304.4 426.9,304.3 427.5,304.2 428.0,304.2 428.6,304.1 429.1,304.1 429.7,304.0 430.2,304.0 430.8,303.9 431.3,303.9 431.9,303.8 432.4,303.8 433.0,303.8 433.6,303.7 434.1,303.7 434.7,303.7 435.2,303.7 435.8,303.7 436.3,303.6 436.9,303.6 437.4,303.6 438.0,303.6 438.5,303.6 439.1,303.6 439.7,303.7 440.2,303.7 440.8,303.7 441.3,303.7 441.9,303.7 442.4,303.7 443.0,303.8 443.5,303.8 444.1,303.8 444.7,303.9 445.2,303.9 445.8,303.9 446.3,304.0 446.9,304.0 447.4,304.0 448.0,304.1 448.5,304.1 449.1,304.2 449.6,304.2 450.2,304.3 450.8,304.3 451.3,304.4" fill="none" stroke="#111" stroke-width="1.6" stroke-linejoin="round" /></g><rect x="284.5" y="196.5" width="167.7" height="137.3" fill="none" stroke="#707070" stroke-width="1.4"/><line x1="285.80" y1="333.80" x2="285.80" y2="337.30" stroke="#333" stroke-width="1"/><line x1="285.80" y1="196.50" x2="285.80" y2="193.00" stroke="#333" stroke-width="1"/><text transform="translate(286.40,348.60) scale(1.08,1)" font-size="9.3" text-anchor="middle" fill="#111">-20</text><line x1="327.08" y1="333.80" x2="327.08" y2="337.30" stroke="#333" stroke-width="1"/><line x1="327.08" y1="196.50" x2="327.08" y2="193.00" stroke="#333" stroke-width="1"/><text transform="translate(327.68,348.60) scale(1.08,1)" font-size="9.3" text-anchor="middle" fill="#111">-10</text><line x1="368.35" y1="333.80" x2="368.35" y2="337.30" stroke="#333" stroke-width="1"/><line x1="368.35" y1="196.50" x2="368.35" y2="193.00" stroke="#333" stroke-width="1"/><text transform="translate(368.95,348.60) scale(1.08,1)" font-size="9.3" text-anchor="middle" fill="#111">0</text><line x1="409.62" y1="333.80" x2="409.62" y2="337.30" stroke="#333" stroke-width="1"/><line x1="409.62" y1="196.50" x2="409.62" y2="193.00" stroke="#333" stroke-width="1"/><text transform="translate(410.23,348.60) scale(1.08,1)" font-size="9.3" text-anchor="middle" fill="#111">10</text><line x1="450.90" y1="333.80" x2="450.90" y2="337.30" stroke="#333" stroke-width="1"/><line x1="450.90" y1="196.50" x2="450.90" y2="193.00" stroke="#333" stroke-width="1"/><text transform="translate(451.50,348.60) scale(1.08,1)" font-size="9.3" text-anchor="middle" fill="#111">20</text><text x="370.90" y="359.10" font-size="9.5" text-anchor="middle" fill="#111" >Time lag (s)</text><line x1="281.00" y1="197.80" x2="284.50" y2="197.80" stroke="#333" stroke-width="1"/><line x1="452.20" y1="197.80" x2="455.70" y2="197.80" stroke="#333" stroke-width="1"/><line x1="281.00" y1="224.65" x2="284.50" y2="224.65" stroke="#333" stroke-width="1"/><line x1="452.20" y1="224.65" x2="455.70" y2="224.65" stroke="#333" stroke-width="1"/><text transform="translate(279.30,228.25) scale(1.1,1)" font-size="8.8" text-anchor="end" fill="#111">15</text><line x1="281.00" y1="251.50" x2="284.50" y2="251.50" stroke="#333" stroke-width="1"/><line x1="452.20" y1="251.50" x2="455.70" y2="251.50" stroke="#333" stroke-width="1"/><text transform="translate(279.30,255.10) scale(1.1,1)" font-size="8.8" text-anchor="end" fill="#111">10</text><line x1="281.00" y1="278.35" x2="284.50" y2="278.35" stroke="#333" stroke-width="1"/><line x1="452.20" y1="278.35" x2="455.70" y2="278.35" stroke="#333" stroke-width="1"/><text transform="translate(279.30,281.95) scale(1.1,1)" font-size="8.8" text-anchor="end" fill="#111">5</text><line x1="281.00" y1="305.20" x2="284.50" y2="305.20" stroke="#333" stroke-width="1"/><line x1="452.20" y1="305.20" x2="455.70" y2="305.20" stroke="#333" stroke-width="1"/><text transform="translate(279.30,310.20) scale(1.1,1)" font-size="8.8" text-anchor="end" fill="#111">0</text><line x1="281.00" y1="332.05" x2="284.50" y2="332.05" stroke="#333" stroke-width="1"/><line x1="452.20" y1="332.05" x2="455.70" y2="332.05" stroke="#333" stroke-width="1"/><text transform="translate(279.30,335.65) scale(1.1,1)" font-size="8.8" text-anchor="end" fill="#111">-5</text><text x="251.80" y="198.50" font-size="8.8" text-anchor="start" fill="#111" >20x10</text><text x="275.00" y="195.00" font-size="8.8" text-anchor="start" fill="#111" >-3</text><text x="0.00" y="0.00" font-size="9.6" text-anchor="middle" fill="#111" transform="translate(266.5,266.5) rotate(-90)">CCF (a.u.)</text><text x="291.6" y="205.4" font-size="9" text-anchor="start" fill="#111">C<tspan font-size="5.6" dy="1.9">1</tspan><tspan dy="-1.9"></tspan>=0.0013 ± ΔC<tspan font-size="5.6" dy="1.9">1</tspan><tspan dy="-1.9"></tspan></text><text x="291.6" y="217.2" font-size="9" text-anchor="start" fill="#111">C<tspan font-size="5.6" dy="1.9">2</tspan><tspan dy="-1.9"></tspan>=0.0871 ± ΔC<tspan font-size="5.6" dy="1.9">2</tspan><tspan dy="-1.9"></tspan></text><text x="444.6" y="205.4" font-size="9" text-anchor="end" fill="#111">C<tspan font-size="5.6" dy="1.9">3</tspan><tspan dy="-1.9"></tspan>=0.3249 ± ΔC<tspan font-size="5.6" dy="1.9">3</tspan><tspan dy="-1.9"></tspan></text><text x="444.6" y="217.2" font-size="9" text-anchor="end" fill="#111">C<tspan font-size="5.6" dy="1.9">4</tspan><tspan dy="-1.9"></tspan>=0.5635 ± ΔC<tspan font-size="5.6" dy="1.9">4</tspan><tspan dy="-1.9"></tspan></text><text x="241.00" y="191.50" font-size="15" text-anchor="start" fill="#111" font-weight="bold" >e</text><clipPath id="chf"><rect x="510.5" y="197.3" width="151.20000000000005" height="139.09999999999997"/></clipPath><g clip-path="url(#chf)" shape-rendering="crispEdges"><rect x="510.5" y="197.3" width="4.3" height="4.3" fill="#cae0f1"/><rect x="514.2" y="197.3" width="4.3" height="4.3" fill="#bfdbee"/><rect x="517.9" y="197.3" width="4.3" height="4.3" fill="#b2d4ea"/><rect x="521.6" y="197.3" width="4.3" height="4.3" fill="#a6cde6"/><rect x="525.3" y="197.3" width="4.3" height="4.3" fill="#97c5e3"/><rect x="528.9" y="197.3" width="4.3" height="4.3" fill="#8abde1"/><rect x="532.6" y="197.3" width="4.3" height="4.3" fill="#7db6de"/><rect x="536.3" y="197.3" width="4.3" height="4.3" fill="#76b0da"/><rect x="540.0" y="197.3" width="4.3" height="4.3" fill="#6faad6"/><rect x="543.7" y="197.3" width="4.3" height="4.3" fill="#69a4d3"/><rect x="547.4" y="197.3" width="4.3" height="4.3" fill="#639fd0"/><rect x="551.1" y="197.3" width="4.3" height="4.3" fill="#5d9acd"/><rect x="554.8" y="197.3" width="4.3" height="4.3" fill="#5895ca"/><rect x="558.4" y="197.3" width="4.3" height="4.3" fill="#5391c8"/><rect x="562.1" y="197.3" width="4.3" height="4.3" fill="#4f8dc6"/><rect x="565.8" y="197.3" width="4.3" height="4.3" fill="#4c8ac5"/><rect x="569.5" y="197.3" width="4.3" height="4.3" fill="#4988c3"/><rect x="573.2" y="197.3" width="4.3" height="4.3" fill="#4786c2"/><rect x="576.9" y="197.3" width="4.3" height="4.3" fill="#4684c1"/><rect x="580.6" y="197.3" width="4.3" height="4.3" fill="#4684c1"/><rect x="584.3" y="197.3" width="4.3" height="4.3" fill="#4684c1"/><rect x="587.9" y="197.3" width="4.3" height="4.3" fill="#4785c2"/><rect x="591.6" y="197.3" width="4.3" height="4.3" fill="#4887c3"/><rect x="595.3" y="197.3" width="4.3" height="4.3" fill="#4b8ac4"/><rect x="599.0" y="197.3" width="4.3" height="4.3" fill="#4e8dc6"/><rect x="602.7" y="197.3" width="4.3" height="4.3" fill="#5290c8"/><rect x="606.4" y="197.3" width="4.3" height="4.3" fill="#5794ca"/><rect x="610.1" y="197.3" width="4.3" height="4.3" fill="#5c99cc"/><rect x="613.8" y="197.3" width="4.3" height="4.3" fill="#629ecf"/><rect x="617.4" y="197.3" width="4.3" height="4.3" fill="#68a3d2"/><rect x="621.1" y="197.3" width="4.3" height="4.3" fill="#6ea9d5"/><rect x="624.8" y="197.3" width="4.3" height="4.3" fill="#74aed9"/><rect x="628.5" y="197.3" width="4.3" height="4.3" fill="#7bb5dd"/><rect x="632.2" y="197.3" width="4.3" height="4.3" fill="#87bce0"/><rect x="635.9" y="197.3" width="4.3" height="4.3" fill="#95c4e3"/><rect x="639.6" y="197.3" width="4.3" height="4.3" fill="#a3cce6"/><rect x="643.3" y="197.3" width="4.3" height="4.3" fill="#b0d2e9"/><rect x="646.9" y="197.3" width="4.3" height="4.3" fill="#bcd9ed"/><rect x="650.6" y="197.3" width="4.3" height="4.3" fill="#c8dff1"/><rect x="654.3" y="197.3" width="4.3" height="4.3" fill="#d1e4f3"/><rect x="658.0" y="197.3" width="4.3" height="4.3" fill="#dae9f5"/><rect x="510.5" y="201.0" width="4.3" height="4.3" fill="#c7dff0"/><rect x="514.2" y="201.0" width="4.3" height="4.3" fill="#bad8ec"/><rect x="517.9" y="201.0" width="4.3" height="4.3" fill="#add1e8"/><rect x="521.6" y="201.0" width="4.3" height="4.3" fill="#9fcae5"/><rect x="525.3" y="201.0" width="4.3" height="4.3" fill="#91c1e2"/><rect x="528.9" y="201.0" width="4.3" height="4.3" fill="#83b9df"/><rect x="532.6" y="201.0" width="4.3" height="4.3" fill="#79b2dc"/><rect x="536.3" y="201.0" width="4.3" height="4.3" fill="#72acd8"/><rect x="540.0" y="201.0" width="4.3" height="4.3" fill="#6ba6d4"/><rect x="543.7" y="201.0" width="4.3" height="4.3" fill="#65a1d0"/><rect x="547.4" y="201.0" width="4.3" height="4.3" fill="#5e9bcd"/><rect x="551.1" y="201.0" width="4.3" height="4.3" fill="#5895ca"/><rect x="554.8" y="201.0" width="4.3" height="4.3" fill="#5391c8"/><rect x="558.4" y="201.0" width="4.3" height="4.3" fill="#4e8cc6"/><rect x="562.1" y="201.0" width="4.3" height="4.3" fill="#4a89c4"/><rect x="565.8" y="201.0" width="4.3" height="4.3" fill="#4785c1"/><rect x="569.5" y="201.0" width="4.3" height="4.3" fill="#4581bf"/><rect x="573.2" y="201.0" width="4.3" height="4.3" fill="#437fbd"/><rect x="576.9" y="201.0" width="4.3" height="4.3" fill="#427dbc"/><rect x="580.6" y="201.0" width="4.3" height="4.3" fill="#427dbc"/><rect x="584.3" y="201.0" width="4.3" height="4.3" fill="#427dbc"/><rect x="587.9" y="201.0" width="4.3" height="4.3" fill="#437ebd"/><rect x="591.6" y="201.0" width="4.3" height="4.3" fill="#4481bf"/><rect x="595.3" y="201.0" width="4.3" height="4.3" fill="#4684c1"/><rect x="599.0" y="201.0" width="4.3" height="4.3" fill="#4988c3"/><rect x="602.7" y="201.0" width="4.3" height="4.3" fill="#4d8bc5"/><rect x="606.4" y="201.0" width="4.3" height="4.3" fill="#5290c7"/><rect x="610.1" y="201.0" width="4.3" height="4.3" fill="#5794ca"/><rect x="613.8" y="201.0" width="4.3" height="4.3" fill="#5d9acd"/><rect x="617.4" y="201.0" width="4.3" height="4.3" fill="#64a0d0"/><rect x="621.1" y="201.0" width="4.3" height="4.3" fill="#6aa5d3"/><rect x="624.8" y="201.0" width="4.3" height="4.3" fill="#70abd7"/><rect x="628.5" y="201.0" width="4.3" height="4.3" fill="#77b1db"/><rect x="632.2" y="201.0" width="4.3" height="4.3" fill="#80b8df"/><rect x="635.9" y="201.0" width="4.3" height="4.3" fill="#8ec0e1"/><rect x="639.6" y="201.0" width="4.3" height="4.3" fill="#9cc8e4"/><rect x="643.3" y="201.0" width="4.3" height="4.3" fill="#aad0e8"/><rect x="646.9" y="201.0" width="4.3" height="4.3" fill="#b7d6ec"/><rect x="650.6" y="201.0" width="4.3" height="4.3" fill="#c5ddf0"/><rect x="654.3" y="201.0" width="4.3" height="4.3" fill="#cee2f2"/><rect x="658.0" y="201.0" width="4.3" height="4.3" fill="#d7e7f4"/><rect x="510.5" y="204.6" width="4.3" height="4.3" fill="#c3dcef"/><rect x="514.2" y="204.6" width="4.3" height="4.3" fill="#b5d5eb"/><rect x="517.9" y="204.6" width="4.3" height="4.3" fill="#a8cee7"/><rect x="521.6" y="204.6" width="4.3" height="4.3" fill="#99c6e4"/><rect x="525.3" y="204.6" width="4.3" height="4.3" fill="#8abee1"/><rect x="528.9" y="204.6" width="4.3" height="4.3" fill="#7db6de"/><rect x="532.6" y="204.6" width="4.3" height="4.3" fill="#75afda"/><rect x="536.3" y="204.6" width="4.3" height="4.3" fill="#6ea9d6"/><rect x="540.0" y="204.6" width="4.3" height="4.3" fill="#67a3d2"/><rect x="543.7" y="204.6" width="4.3" height="4.3" fill="#609dce"/><rect x="547.4" y="204.6" width="4.3" height="4.3" fill="#5997cb"/><rect x="551.1" y="204.6" width="4.3" height="4.3" fill="#5391c8"/><rect x="554.8" y="204.6" width="4.3" height="4.3" fill="#4e8cc6"/><rect x="558.4" y="204.6" width="4.3" height="4.3" fill="#4988c3"/><rect x="562.1" y="204.6" width="4.3" height="4.3" fill="#4683c0"/><rect x="565.8" y="204.6" width="4.3" height="4.3" fill="#437ebd"/><rect x="569.5" y="204.6" width="4.3" height="4.3" fill="#417bba"/><rect x="573.2" y="204.6" width="4.3" height="4.3" fill="#4078b9"/><rect x="576.9" y="204.6" width="4.3" height="4.3" fill="#3f77b7"/><rect x="580.6" y="204.6" width="4.3" height="4.3" fill="#3e76b7"/><rect x="584.3" y="204.6" width="4.3" height="4.3" fill="#3f77b7"/><rect x="587.9" y="204.6" width="4.3" height="4.3" fill="#3f78b8"/><rect x="591.6" y="204.6" width="4.3" height="4.3" fill="#417aba"/><rect x="595.3" y="204.6" width="4.3" height="4.3" fill="#437ebc"/><rect x="599.0" y="204.6" width="4.3" height="4.3" fill="#4582bf"/><rect x="602.7" y="204.6" width="4.3" height="4.3" fill="#4887c3"/><rect x="606.4" y="204.6" width="4.3" height="4.3" fill="#4d8bc5"/><rect x="610.1" y="204.6" width="4.3" height="4.3" fill="#5290c8"/><rect x="613.8" y="204.6" width="4.3" height="4.3" fill="#5895ca"/><rect x="617.4" y="204.6" width="4.3" height="4.3" fill="#5f9bce"/><rect x="621.1" y="204.6" width="4.3" height="4.3" fill="#66a2d1"/><rect x="624.8" y="204.6" width="4.3" height="4.3" fill="#6ca7d5"/><rect x="628.5" y="204.6" width="4.3" height="4.3" fill="#74aed9"/><rect x="632.2" y="204.6" width="4.3" height="4.3" fill="#7bb4dd"/><rect x="635.9" y="204.6" width="4.3" height="4.3" fill="#87bce0"/><rect x="639.6" y="204.6" width="4.3" height="4.3" fill="#96c4e3"/><rect x="643.3" y="204.6" width="4.3" height="4.3" fill="#a5cde6"/><rect x="646.9" y="204.6" width="4.3" height="4.3" fill="#b2d4ea"/><rect x="650.6" y="204.6" width="4.3" height="4.3" fill="#c0dbee"/><rect x="654.3" y="204.6" width="4.3" height="4.3" fill="#cbe1f1"/><rect x="658.0" y="204.6" width="4.3" height="4.3" fill="#d4e6f3"/><rect x="510.5" y="208.3" width="4.3" height="4.3" fill="#bedaee"/><rect x="514.2" y="208.3" width="4.3" height="4.3" fill="#b0d3e9"/><rect x="517.9" y="208.3" width="4.3" height="4.3" fill="#a3cce6"/><rect x="521.6" y="208.3" width="4.3" height="4.3" fill="#93c3e2"/><rect x="525.3" y="208.3" width="4.3" height="4.3" fill="#84badf"/><rect x="528.9" y="208.3" width="4.3" height="4.3" fill="#79b3dc"/><rect x="532.6" y="208.3" width="4.3" height="4.3" fill="#71acd8"/><rect x="536.3" y="208.3" width="4.3" height="4.3" fill="#6aa5d3"/><rect x="540.0" y="208.3" width="4.3" height="4.3" fill="#639fd0"/><rect x="543.7" y="208.3" width="4.3" height="4.3" fill="#5c99cc"/><rect x="547.4" y="208.3" width="4.3" height="4.3" fill="#5593c9"/><rect x="551.1" y="208.3" width="4.3" height="4.3" fill="#4f8dc6"/><rect x="554.8" y="208.3" width="4.3" height="4.3" fill="#4988c3"/><rect x="558.4" y="208.3" width="4.3" height="4.3" fill="#4582bf"/><rect x="562.1" y="208.3" width="4.3" height="4.3" fill="#427dbc"/><rect x="565.8" y="208.3" width="4.3" height="4.3" fill="#4078b8"/><rect x="569.5" y="208.3" width="4.3" height="4.3" fill="#3e75b6"/><rect x="573.2" y="208.3" width="4.3" height="4.3" fill="#3c72b4"/><rect x="576.9" y="208.3" width="4.3" height="4.3" fill="#3b71b3"/><rect x="580.6" y="208.3" width="4.3" height="4.3" fill="#3b70b3"/><rect x="584.3" y="208.3" width="4.3" height="4.3" fill="#3b70b3"/><rect x="587.9" y="208.3" width="4.3" height="4.3" fill="#3c72b4"/><rect x="591.6" y="208.3" width="4.3" height="4.3" fill="#3d74b5"/><rect x="595.3" y="208.3" width="4.3" height="4.3" fill="#3f77b8"/><rect x="599.0" y="208.3" width="4.3" height="4.3" fill="#427cbb"/><rect x="602.7" y="208.3" width="4.3" height="4.3" fill="#4581bf"/><rect x="606.4" y="208.3" width="4.3" height="4.3" fill="#4887c3"/><rect x="610.1" y="208.3" width="4.3" height="4.3" fill="#4d8cc6"/><rect x="613.8" y="208.3" width="4.3" height="4.3" fill="#5491c8"/><rect x="617.4" y="208.3" width="4.3" height="4.3" fill="#5a97cc"/><rect x="621.1" y="208.3" width="4.3" height="4.3" fill="#629ecf"/><rect x="624.8" y="208.3" width="4.3" height="4.3" fill="#69a4d3"/><rect x="628.5" y="208.3" width="4.3" height="4.3" fill="#70aad7"/><rect x="632.2" y="208.3" width="4.3" height="4.3" fill="#78b1db"/><rect x="635.9" y="208.3" width="4.3" height="4.3" fill="#81b9df"/><rect x="639.6" y="208.3" width="4.3" height="4.3" fill="#90c1e2"/><rect x="643.3" y="208.3" width="4.3" height="4.3" fill="#9fcae5"/><rect x="646.9" y="208.3" width="4.3" height="4.3" fill="#add1e9"/><rect x="650.6" y="208.3" width="4.3" height="4.3" fill="#bbd8ed"/><rect x="654.3" y="208.3" width="4.3" height="4.3" fill="#c8dff1"/><rect x="658.0" y="208.3" width="4.3" height="4.3" fill="#d1e4f3"/><rect x="510.5" y="211.9" width="4.3" height="4.3" fill="#bad8ec"/><rect x="514.2" y="211.9" width="4.3" height="4.3" fill="#acd1e8"/><rect x="517.9" y="211.9" width="4.3" height="4.3" fill="#9dc8e4"/><rect x="521.6" y="211.9" width="4.3" height="4.3" fill="#8ec0e1"/><rect x="525.3" y="211.9" width="4.3" height="4.3" fill="#7fb7de"/><rect x="528.9" y="211.9" width="4.3" height="4.3" fill="#76b0da"/><rect x="532.6" y="211.9" width="4.3" height="4.3" fill="#6ea9d6"/><rect x="536.3" y="211.9" width="4.3" height="4.3" fill="#67a2d2"/><rect x="540.0" y="211.9" width="4.3" height="4.3" fill="#5f9cce"/><rect x="543.7" y="211.9" width="4.3" height="4.3" fill="#5895ca"/><rect x="547.4" y="211.9" width="4.3" height="4.3" fill="#518fc7"/><rect x="551.1" y="211.9" width="4.3" height="4.3" fill="#4a89c4"/><rect x="554.8" y="211.9" width="4.3" height="4.3" fill="#4683c0"/><rect x="558.4" y="211.9" width="4.3" height="4.3" fill="#427cbb"/><rect x="562.1" y="211.9" width="4.3" height="4.3" fill="#3f77b8"/><rect x="565.8" y="211.9" width="4.3" height="4.3" fill="#3c72b4"/><rect x="569.5" y="211.9" width="4.3" height="4.3" fill="#3a6fb2"/><rect x="573.2" y="211.9" width="4.3" height="4.3" fill="#396cb0"/><rect x="576.9" y="211.9" width="4.3" height="4.3" fill="#386baf"/><rect x="580.6" y="211.9" width="4.3" height="4.3" fill="#376aae"/><rect x="584.3" y="211.9" width="4.3" height="4.3" fill="#386aaf"/><rect x="587.9" y="211.9" width="4.3" height="4.3" fill="#386cb0"/><rect x="591.6" y="211.9" width="4.3" height="4.3" fill="#3a6eb1"/><rect x="595.3" y="211.9" width="4.3" height="4.3" fill="#3c72b4"/><rect x="599.0" y="211.9" width="4.3" height="4.3" fill="#3e76b7"/><rect x="602.7" y="211.9" width="4.3" height="4.3" fill="#417bbb"/><rect x="606.4" y="211.9" width="4.3" height="4.3" fill="#4581bf"/><rect x="610.1" y="211.9" width="4.3" height="4.3" fill="#4988c3"/><rect x="613.8" y="211.9" width="4.3" height="4.3" fill="#4f8dc6"/><rect x="617.4" y="211.9" width="4.3" height="4.3" fill="#5694ca"/><rect x="621.1" y="211.9" width="4.3" height="4.3" fill="#5d9acd"/><rect x="624.8" y="211.9" width="4.3" height="4.3" fill="#65a1d1"/><rect x="628.5" y="211.9" width="4.3" height="4.3" fill="#6ca7d5"/><rect x="632.2" y="211.9" width="4.3" height="4.3" fill="#74aed9"/><rect x="635.9" y="211.9" width="4.3" height="4.3" fill="#7cb5de"/><rect x="639.6" y="211.9" width="4.3" height="4.3" fill="#8abee1"/><rect x="643.3" y="211.9" width="4.3" height="4.3" fill="#9ac7e4"/><rect x="646.9" y="211.9" width="4.3" height="4.3" fill="#a9cfe7"/><rect x="650.6" y="211.9" width="4.3" height="4.3" fill="#b7d6eb"/><rect x="654.3" y="211.9" width="4.3" height="4.3" fill="#c5def0"/><rect x="658.0" y="211.9" width="4.3" height="4.3" fill="#cee3f2"/><rect x="510.5" y="215.6" width="4.3" height="4.3" fill="#b6d6eb"/><rect x="514.2" y="215.6" width="4.3" height="4.3" fill="#a8cee7"/><rect x="517.9" y="215.6" width="4.3" height="4.3" fill="#98c6e3"/><rect x="521.6" y="215.6" width="4.3" height="4.3" fill="#88bde0"/><rect x="525.3" y="215.6" width="4.3" height="4.3" fill="#7bb4dd"/><rect x="528.9" y="215.6" width="4.3" height="4.3" fill="#73add8"/><rect x="532.6" y="215.6" width="4.3" height="4.3" fill="#6ba6d4"/><rect x="536.3" y="215.6" width="4.3" height="4.3" fill="#639fd0"/><rect x="540.0" y="215.6" width="4.3" height="4.3" fill="#5b98cc"/><rect x="543.7" y="215.6" width="4.3" height="4.3" fill="#5491c8"/><rect x="547.4" y="215.6" width="4.3" height="4.3" fill="#4d8bc5"/><rect x="551.1" y="215.6" width="4.3" height="4.3" fill="#4785c1"/><rect x="554.8" y="215.6" width="4.3" height="4.3" fill="#437dbc"/><rect x="558.4" y="215.6" width="4.3" height="4.3" fill="#3f77b8"/><rect x="562.1" y="215.6" width="4.3" height="4.3" fill="#3c72b4"/><rect x="565.8" y="215.6" width="4.3" height="4.3" fill="#396db0"/><rect x="569.5" y="215.6" width="4.3" height="4.3" fill="#3769ae"/><rect x="573.2" y="215.6" width="4.3" height="4.3" fill="#3567ac"/><rect x="576.9" y="215.6" width="4.3" height="4.3" fill="#3465ab"/><rect x="580.6" y="215.6" width="4.3" height="4.3" fill="#3464aa"/><rect x="584.3" y="215.6" width="4.3" height="4.3" fill="#3465aa"/><rect x="587.9" y="215.6" width="4.3" height="4.3" fill="#3566ab"/><rect x="591.6" y="215.6" width="4.3" height="4.3" fill="#3769ad"/><rect x="595.3" y="215.6" width="4.3" height="4.3" fill="#396cb0"/><rect x="599.0" y="215.6" width="4.3" height="4.3" fill="#3b70b3"/><rect x="602.7" y="215.6" width="4.3" height="4.3" fill="#3e76b7"/><rect x="606.4" y="215.6" width="4.3" height="4.3" fill="#427cbb"/><rect x="610.1" y="215.6" width="4.3" height="4.3" fill="#4683c0"/><rect x="613.8" y="215.6" width="4.3" height="4.3" fill="#4b8ac4"/><rect x="617.4" y="215.6" width="4.3" height="4.3" fill="#5290c8"/><rect x="621.1" y="215.6" width="4.3" height="4.3" fill="#5a97cb"/><rect x="624.8" y="215.6" width="4.3" height="4.3" fill="#629ecf"/><rect x="628.5" y="215.6" width="4.3" height="4.3" fill="#69a5d3"/><rect x="632.2" y="215.6" width="4.3" height="4.3" fill="#71abd7"/><rect x="635.9" y="215.6" width="4.3" height="4.3" fill="#79b3dc"/><rect x="639.6" y="215.6" width="4.3" height="4.3" fill="#85bbe0"/><rect x="643.3" y="215.6" width="4.3" height="4.3" fill="#95c4e3"/><rect x="646.9" y="215.6" width="4.3" height="4.3" fill="#a5cde6"/><rect x="650.6" y="215.6" width="4.3" height="4.3" fill="#b3d4ea"/><rect x="654.3" y="215.6" width="4.3" height="4.3" fill="#c1dbee"/><rect x="658.0" y="215.6" width="4.3" height="4.3" fill="#cce1f2"/><rect x="510.5" y="219.3" width="4.3" height="4.3" fill="#b2d4ea"/><rect x="514.2" y="219.3" width="4.3" height="4.3" fill="#a4cce6"/><rect x="517.9" y="219.3" width="4.3" height="4.3" fill="#93c3e2"/><rect x="521.6" y="219.3" width="4.3" height="4.3" fill="#84badf"/><rect x="525.3" y="219.3" width="4.3" height="4.3" fill="#78b2db"/><rect x="528.9" y="219.3" width="4.3" height="4.3" fill="#70aad7"/><rect x="532.6" y="219.3" width="4.3" height="4.3" fill="#68a3d2"/><rect x="536.3" y="219.3" width="4.3" height="4.3" fill="#609cce"/><rect x="540.0" y="219.3" width="4.3" height="4.3" fill="#5895ca"/><rect x="543.7" y="219.3" width="4.3" height="4.3" fill="#508ec7"/><rect x="547.4" y="219.3" width="4.3" height="4.3" fill="#4988c3"/><rect x="551.1" y="219.3" width="4.3" height="4.3" fill="#4480be"/><rect x="554.8" y="219.3" width="4.3" height="4.3" fill="#4078b9"/><rect x="558.4" y="219.3" width="4.3" height="4.3" fill="#3c72b4"/><rect x="562.1" y="219.3" width="4.3" height="4.3" fill="#396cb0"/><rect x="565.8" y="219.3" width="4.3" height="4.3" fill="#3668ad"/><rect x="569.5" y="219.3" width="4.3" height="4.3" fill="#3464aa"/><rect x="573.2" y="219.3" width="4.3" height="4.3" fill="#3361a7"/><rect x="576.9" y="219.3" width="4.3" height="4.3" fill="#325fa5"/><rect x="580.6" y="219.3" width="4.3" height="4.3" fill="#325ea4"/><rect x="584.3" y="219.3" width="4.3" height="4.3" fill="#325fa5"/><rect x="587.9" y="219.3" width="4.3" height="4.3" fill="#3360a6"/><rect x="591.6" y="219.3" width="4.3" height="4.3" fill="#3463a9"/><rect x="595.3" y="219.3" width="4.3" height="4.3" fill="#3667ac"/><rect x="599.0" y="219.3" width="4.3" height="4.3" fill="#386baf"/><rect x="602.7" y="219.3" width="4.3" height="4.3" fill="#3b71b3"/><rect x="606.4" y="219.3" width="4.3" height="4.3" fill="#3f77b8"/><rect x="610.1" y="219.3" width="4.3" height="4.3" fill="#437ebd"/><rect x="613.8" y="219.3" width="4.3" height="4.3" fill="#4886c2"/><rect x="617.4" y="219.3" width="4.3" height="4.3" fill="#4e8dc6"/><rect x="621.1" y="219.3" width="4.3" height="4.3" fill="#5693c9"/><rect x="624.8" y="219.3" width="4.3" height="4.3" fill="#5e9bcd"/><rect x="628.5" y="219.3" width="4.3" height="4.3" fill="#66a2d1"/><rect x="632.2" y="219.3" width="4.3" height="4.3" fill="#6ea9d6"/><rect x="635.9" y="219.3" width="4.3" height="4.3" fill="#76b0da"/><rect x="639.6" y="219.3" width="4.3" height="4.3" fill="#80b8df"/><rect x="643.3" y="219.3" width="4.3" height="4.3" fill="#90c1e2"/><rect x="646.9" y="219.3" width="4.3" height="4.3" fill="#a0cae5"/><rect x="650.6" y="219.3" width="4.3" height="4.3" fill="#afd2e9"/><rect x="654.3" y="219.3" width="4.3" height="4.3" fill="#bdd9ed"/><rect x="658.0" y="219.3" width="4.3" height="4.3" fill="#cae0f1"/><rect x="510.5" y="222.9" width="4.3" height="4.3" fill="#aed2e9"/><rect x="514.2" y="222.9" width="4.3" height="4.3" fill="#9fcae5"/><rect x="517.9" y="222.9" width="4.3" height="4.3" fill="#8fc0e2"/><rect x="521.6" y="222.9" width="4.3" height="4.3" fill="#7fb7de"/><rect x="525.3" y="222.9" width="4.3" height="4.3" fill="#75afda"/><rect x="528.9" y="222.9" width="4.3" height="4.3" fill="#6da8d5"/><rect x="532.6" y="222.9" width="4.3" height="4.3" fill="#65a1d1"/><rect x="536.3" y="222.9" width="4.3" height="4.3" fill="#5c99cc"/><rect x="540.0" y="222.9" width="4.3" height="4.3" fill="#5492c9"/><rect x="543.7" y="222.9" width="4.3" height="4.3" fill="#4c8bc5"/><rect x="547.4" y="222.9" width="4.3" height="4.3" fill="#4684c1"/><rect x="551.1" y="222.9" width="4.3" height="4.3" fill="#417bbb"/><rect x="554.8" y="222.9" width="4.3" height="4.3" fill="#3d74b5"/><rect x="558.4" y="222.9" width="4.3" height="4.3" fill="#396db1"/><rect x="562.1" y="222.9" width="4.3" height="4.3" fill="#3668ad"/><rect x="565.8" y="222.9" width="4.3" height="4.3" fill="#3363a9"/><rect x="569.5" y="222.9" width="4.3" height="4.3" fill="#325fa4"/><rect x="573.2" y="222.9" width="4.3" height="4.3" fill="#305ba1"/><rect x="576.9" y="222.9" width="4.3" height="4.3" fill="#305a9f"/><rect x="580.6" y="222.9" width="4.3" height="4.3" fill="#2f599f"/><rect x="584.3" y="222.9" width="4.3" height="4.3" fill="#30599f"/><rect x="587.9" y="222.9" width="4.3" height="4.3" fill="#305ba1"/><rect x="591.6" y="222.9" width="4.3" height="4.3" fill="#315ea4"/><rect x="595.3" y="222.9" width="4.3" height="4.3" fill="#3362a8"/><rect x="599.0" y="222.9" width="4.3" height="4.3" fill="#3566ac"/><rect x="602.7" y="222.9" width="4.3" height="4.3" fill="#396cb0"/><rect x="606.4" y="222.9" width="4.3" height="4.3" fill="#3c72b4"/><rect x="610.1" y="222.9" width="4.3" height="4.3" fill="#407ab9"/><rect x="613.8" y="222.9" width="4.3" height="4.3" fill="#4582bf"/><rect x="617.4" y="222.9" width="4.3" height="4.3" fill="#4b8ac4"/><rect x="621.1" y="222.9" width="4.3" height="4.3" fill="#5290c8"/><rect x="624.8" y="222.9" width="4.3" height="4.3" fill="#5b98cc"/><rect x="628.5" y="222.9" width="4.3" height="4.3" fill="#639fd0"/><rect x="632.2" y="222.9" width="4.3" height="4.3" fill="#6ba6d4"/><rect x="635.9" y="222.9" width="4.3" height="4.3" fill="#74aed9"/><rect x="639.6" y="222.9" width="4.3" height="4.3" fill="#7cb5de"/><rect x="643.3" y="222.9" width="4.3" height="4.3" fill="#8bbee1"/><rect x="646.9" y="222.9" width="4.3" height="4.3" fill="#9cc8e4"/><rect x="650.6" y="222.9" width="4.3" height="4.3" fill="#abd0e8"/><rect x="654.3" y="222.9" width="4.3" height="4.3" fill="#bad8ec"/><rect x="658.0" y="222.9" width="4.3" height="4.3" fill="#c8dff0"/><rect x="510.5" y="226.6" width="4.3" height="4.3" fill="#abd0e8"/><rect x="514.2" y="226.6" width="4.3" height="4.3" fill="#9bc7e4"/><rect x="517.9" y="226.6" width="4.3" height="4.3" fill="#8bbee1"/><rect x="521.6" y="226.6" width="4.3" height="4.3" fill="#7cb5dd"/><rect x="525.3" y="226.6" width="4.3" height="4.3" fill="#73add8"/><rect x="528.9" y="226.6" width="4.3" height="4.3" fill="#6ba6d4"/><rect x="532.6" y="226.6" width="4.3" height="4.3" fill="#629ecf"/><rect x="536.3" y="226.6" width="4.3" height="4.3" fill="#5997cb"/><rect x="540.0" y="226.6" width="4.3" height="4.3" fill="#518fc7"/><rect x="543.7" y="226.6" width="4.3" height="4.3" fill="#4988c4"/><rect x="547.4" y="226.6" width="4.3" height="4.3" fill="#447fbe"/><rect x="551.1" y="226.6" width="4.3" height="4.3" fill="#3f77b8"/><rect x="554.8" y="226.6" width="4.3" height="4.3" fill="#3b70b2"/><rect x="558.4" y="226.6" width="4.3" height="4.3" fill="#3769ad"/><rect x="562.1" y="226.6" width="4.3" height="4.3" fill="#3463a9"/><rect x="565.8" y="226.6" width="4.3" height="4.3" fill="#315ea3"/><rect x="569.5" y="226.6" width="4.3" height="4.3" fill="#30599f"/><rect x="573.2" y="226.6" width="4.3" height="4.3" fill="#2e569c"/><rect x="576.9" y="226.6" width="4.3" height="4.3" fill="#2d549a"/><rect x="580.6" y="226.6" width="4.3" height="4.3" fill="#2d5499"/><rect x="584.3" y="226.6" width="4.3" height="4.3" fill="#2d549a"/><rect x="587.9" y="226.6" width="4.3" height="4.3" fill="#2e569b"/><rect x="591.6" y="226.6" width="4.3" height="4.3" fill="#2f599e"/><rect x="595.3" y="226.6" width="4.3" height="4.3" fill="#315da2"/><rect x="599.0" y="226.6" width="4.3" height="4.3" fill="#3362a8"/><rect x="602.7" y="226.6" width="4.3" height="4.3" fill="#3668ad"/><rect x="606.4" y="226.6" width="4.3" height="4.3" fill="#3a6eb1"/><rect x="610.1" y="226.6" width="4.3" height="4.3" fill="#3e75b6"/><rect x="613.8" y="226.6" width="4.3" height="4.3" fill="#437ebc"/><rect x="617.4" y="226.6" width="4.3" height="4.3" fill="#4887c3"/><rect x="621.1" y="226.6" width="4.3" height="4.3" fill="#4f8ec6"/><rect x="624.8" y="226.6" width="4.3" height="4.3" fill="#5895ca"/><rect x="628.5" y="226.6" width="4.3" height="4.3" fill="#609dce"/><rect x="632.2" y="226.6" width="4.3" height="4.3" fill="#69a4d3"/><rect x="635.9" y="226.6" width="4.3" height="4.3" fill="#71acd7"/><rect x="639.6" y="226.6" width="4.3" height="4.3" fill="#7ab3dc"/><rect x="643.3" y="226.6" width="4.3" height="4.3" fill="#87bce0"/><rect x="646.9" y="226.6" width="4.3" height="4.3" fill="#98c5e3"/><rect x="650.6" y="226.6" width="4.3" height="4.3" fill="#a8cfe7"/><rect x="654.3" y="226.6" width="4.3" height="4.3" fill="#b7d6eb"/><rect x="658.0" y="226.6" width="4.3" height="4.3" fill="#c6def0"/><rect x="510.5" y="230.2" width="4.3" height="4.3" fill="#a8cfe7"/><rect x="514.2" y="230.2" width="4.3" height="4.3" fill="#98c5e3"/><rect x="517.9" y="230.2" width="4.3" height="4.3" fill="#87bce0"/><rect x="521.6" y="230.2" width="4.3" height="4.3" fill="#7ab3dc"/><rect x="525.3" y="230.2" width="4.3" height="4.3" fill="#71abd7"/><rect x="528.9" y="230.2" width="4.3" height="4.3" fill="#68a4d2"/><rect x="532.6" y="230.2" width="4.3" height="4.3" fill="#609cce"/><rect x="536.3" y="230.2" width="4.3" height="4.3" fill="#5794ca"/><rect x="540.0" y="230.2" width="4.3" height="4.3" fill="#4e8cc6"/><rect x="543.7" y="230.2" width="4.3" height="4.3" fill="#4785c1"/><rect x="547.4" y="230.2" width="4.3" height="4.3" fill="#427cbb"/><rect x="551.1" y="230.2" width="4.3" height="4.3" fill="#3d73b5"/><rect x="554.8" y="230.2" width="4.3" height="4.3" fill="#386caf"/><rect x="558.4" y="230.2" width="4.3" height="4.3" fill="#3465ab"/><rect x="562.1" y="230.2" width="4.3" height="4.3" fill="#325ea4"/><rect x="565.8" y="230.2" width="4.3" height="4.3" fill="#2f599f"/><rect x="569.5" y="230.2" width="4.3" height="4.3" fill="#2e559a"/><rect x="573.2" y="230.2" width="4.3" height="4.3" fill="#2c5297"/><rect x="576.9" y="230.2" width="4.3" height="4.3" fill="#2b5095"/><rect x="580.6" y="230.2" width="4.3" height="4.3" fill="#2b4f94"/><rect x="584.3" y="230.2" width="4.3" height="4.3" fill="#2b4f95"/><rect x="587.9" y="230.2" width="4.3" height="4.3" fill="#2c5196"/><rect x="591.6" y="230.2" width="4.3" height="4.3" fill="#2d5499"/><rect x="595.3" y="230.2" width="4.3" height="4.3" fill="#2f589e"/><rect x="599.0" y="230.2" width="4.3" height="4.3" fill="#315da3"/><rect x="602.7" y="230.2" width="4.3" height="4.3" fill="#3463a9"/><rect x="606.4" y="230.2" width="4.3" height="4.3" fill="#376aae"/><rect x="610.1" y="230.2" width="4.3" height="4.3" fill="#3c72b4"/><rect x="613.8" y="230.2" width="4.3" height="4.3" fill="#407aba"/><rect x="617.4" y="230.2" width="4.3" height="4.3" fill="#4683c0"/><rect x="621.1" y="230.2" width="4.3" height="4.3" fill="#4c8bc5"/><rect x="624.8" y="230.2" width="4.3" height="4.3" fill="#5592c9"/><rect x="628.5" y="230.2" width="4.3" height="4.3" fill="#5e9acd"/><rect x="632.2" y="230.2" width="4.3" height="4.3" fill="#67a2d1"/><rect x="635.9" y="230.2" width="4.3" height="4.3" fill="#6faad6"/><rect x="639.6" y="230.2" width="4.3" height="4.3" fill="#78b1db"/><rect x="643.3" y="230.2" width="4.3" height="4.3" fill="#84badf"/><rect x="646.9" y="230.2" width="4.3" height="4.3" fill="#94c3e3"/><rect x="650.6" y="230.2" width="4.3" height="4.3" fill="#a5cde6"/><rect x="654.3" y="230.2" width="4.3" height="4.3" fill="#b4d5ea"/><rect x="658.0" y="230.2" width="4.3" height="4.3" fill="#c3dcef"/><rect x="510.5" y="233.9" width="4.3" height="4.3" fill="#a5cde6"/><rect x="514.2" y="233.9" width="4.3" height="4.3" fill="#94c3e3"/><rect x="517.9" y="233.9" width="4.3" height="4.3" fill="#84badf"/><rect x="521.6" y="233.9" width="4.3" height="4.3" fill="#78b1db"/><rect x="525.3" y="233.9" width="4.3" height="4.3" fill="#6fa9d6"/><rect x="528.9" y="233.9" width="4.3" height="4.3" fill="#66a2d1"/><rect x="532.6" y="233.9" width="4.3" height="4.3" fill="#5d9acd"/><rect x="536.3" y="233.9" width="4.3" height="4.3" fill="#5492c9"/><rect x="540.0" y="233.9" width="4.3" height="4.3" fill="#4c8ac5"/><rect x="543.7" y="233.9" width="4.3" height="4.3" fill="#4581bf"/><rect x="547.4" y="233.9" width="4.3" height="4.3" fill="#4078b8"/><rect x="551.1" y="233.9" width="4.3" height="4.3" fill="#3b70b2"/><rect x="554.8" y="233.9" width="4.3" height="4.3" fill="#3668ad"/><rect x="558.4" y="233.9" width="4.3" height="4.3" fill="#3361a7"/><rect x="562.1" y="233.9" width="4.3" height="4.3" fill="#305aa0"/><rect x="565.8" y="233.9" width="4.3" height="4.3" fill="#2e559a"/><rect x="569.5" y="233.9" width="4.3" height="4.3" fill="#2c5096"/><rect x="573.2" y="233.9" width="4.3" height="4.3" fill="#2a4d92"/><rect x="576.9" y="233.9" width="4.3" height="4.3" fill="#2a4b90"/><rect x="580.6" y="233.9" width="4.3" height="4.3" fill="#294a90"/><rect x="584.3" y="233.9" width="4.3" height="4.3" fill="#294b90"/><rect x="587.9" y="233.9" width="4.3" height="4.3" fill="#2a4d92"/><rect x="591.6" y="233.9" width="4.3" height="4.3" fill="#2b5095"/><rect x="595.3" y="233.9" width="4.3" height="4.3" fill="#2d5499"/><rect x="599.0" y="233.9" width="4.3" height="4.3" fill="#2f599f"/><rect x="602.7" y="233.9" width="4.3" height="4.3" fill="#325fa5"/><rect x="606.4" y="233.9" width="4.3" height="4.3" fill="#3566ac"/><rect x="610.1" y="233.9" width="4.3" height="4.3" fill="#3a6eb1"/><rect x="613.8" y="233.9" width="4.3" height="4.3" fill="#3e76b7"/><rect x="617.4" y="233.9" width="4.3" height="4.3" fill="#447fbe"/><rect x="621.1" y="233.9" width="4.3" height="4.3" fill="#4a89c4"/><rect x="624.8" y="233.9" width="4.3" height="4.3" fill="#5290c8"/><rect x="628.5" y="233.9" width="4.3" height="4.3" fill="#5b98cc"/><rect x="632.2" y="233.9" width="4.3" height="4.3" fill="#64a0d0"/><rect x="635.9" y="233.9" width="4.3" height="4.3" fill="#6da8d5"/><rect x="639.6" y="233.9" width="4.3" height="4.3" fill="#76b0da"/><rect x="643.3" y="233.9" width="4.3" height="4.3" fill="#80b8df"/><rect x="646.9" y="233.9" width="4.3" height="4.3" fill="#91c1e2"/><rect x="650.6" y="233.9" width="4.3" height="4.3" fill="#a2cbe5"/><rect x="654.3" y="233.9" width="4.3" height="4.3" fill="#b1d3ea"/><rect x="658.0" y="233.9" width="4.3" height="4.3" fill="#c0dbee"/><rect x="510.5" y="237.6" width="4.3" height="4.3" fill="#a3cce6"/><rect x="514.2" y="237.6" width="4.3" height="4.3" fill="#91c2e2"/><rect x="517.9" y="237.6" width="4.3" height="4.3" fill="#81b8df"/><rect x="521.6" y="237.6" width="4.3" height="4.3" fill="#76b0da"/><rect x="525.3" y="237.6" width="4.3" height="4.3" fill="#6da8d5"/><rect x="528.9" y="237.6" width="4.3" height="4.3" fill="#64a0d0"/><rect x="532.6" y="237.6" width="4.3" height="4.3" fill="#5b98cc"/><rect x="536.3" y="237.6" width="4.3" height="4.3" fill="#5290c8"/><rect x="540.0" y="237.6" width="4.3" height="4.3" fill="#4988c4"/><rect x="543.7" y="237.6" width="4.3" height="4.3" fill="#437fbd"/><rect x="547.4" y="237.6" width="4.3" height="4.3" fill="#3e75b6"/><rect x="551.1" y="237.6" width="4.3" height="4.3" fill="#396db0"/><rect x="554.8" y="237.6" width="4.3" height="4.3" fill="#3465ab"/><rect x="558.4" y="237.6" width="4.3" height="4.3" fill="#315da3"/><rect x="562.1" y="237.6" width="4.3" height="4.3" fill="#2e579c"/><rect x="565.8" y="237.6" width="4.3" height="4.3" fill="#2c5196"/><rect x="569.5" y="237.6" width="4.3" height="4.3" fill="#2a4d92"/><rect x="573.2" y="237.6" width="4.3" height="4.3" fill="#29498e"/><rect x="576.9" y="237.6" width="4.3" height="4.3" fill="#28478c"/><rect x="580.6" y="237.6" width="4.3" height="4.3" fill="#28468b"/><rect x="584.3" y="237.6" width="4.3" height="4.3" fill="#28478c"/><rect x="587.9" y="237.6" width="4.3" height="4.3" fill="#29498e"/><rect x="591.6" y="237.6" width="4.3" height="4.3" fill="#2a4c91"/><rect x="595.3" y="237.6" width="4.3" height="4.3" fill="#2c5095"/><rect x="599.0" y="237.6" width="4.3" height="4.3" fill="#2e559b"/><rect x="602.7" y="237.6" width="4.3" height="4.3" fill="#315ca2"/><rect x="606.4" y="237.6" width="4.3" height="4.3" fill="#3463a9"/><rect x="610.1" y="237.6" width="4.3" height="4.3" fill="#386baf"/><rect x="613.8" y="237.6" width="4.3" height="4.3" fill="#3d73b5"/><rect x="617.4" y="237.6" width="4.3" height="4.3" fill="#427cbb"/><rect x="621.1" y="237.6" width="4.3" height="4.3" fill="#4886c3"/><rect x="624.8" y="237.6" width="4.3" height="4.3" fill="#508ec7"/><rect x="628.5" y="237.6" width="4.3" height="4.3" fill="#5996cb"/><rect x="632.2" y="237.6" width="4.3" height="4.3" fill="#629fcf"/><rect x="635.9" y="237.6" width="4.3" height="4.3" fill="#6ba6d4"/><rect x="639.6" y="237.6" width="4.3" height="4.3" fill="#74aed9"/><rect x="643.3" y="237.6" width="4.3" height="4.3" fill="#7db6de"/><rect x="646.9" y="237.6" width="4.3" height="4.3" fill="#8ec0e1"/><rect x="650.6" y="237.6" width="4.3" height="4.3" fill="#9fcae5"/><rect x="654.3" y="237.6" width="4.3" height="4.3" fill="#afd2e9"/><rect x="658.0" y="237.6" width="4.3" height="4.3" fill="#bedaee"/><rect x="510.5" y="241.2" width="4.3" height="4.3" fill="#a0cae5"/><rect x="514.2" y="241.2" width="4.3" height="4.3" fill="#8fc0e2"/><rect x="517.9" y="241.2" width="4.3" height="4.3" fill="#7eb7de"/><rect x="521.6" y="241.2" width="4.3" height="4.3" fill="#74aed9"/><rect x="525.3" y="241.2" width="4.3" height="4.3" fill="#6ba6d4"/><rect x="528.9" y="241.2" width="4.3" height="4.3" fill="#639fcf"/><rect x="532.6" y="241.2" width="4.3" height="4.3" fill="#5996cb"/><rect x="536.3" y="241.2" width="4.3" height="4.3" fill="#508ec7"/><rect x="540.0" y="241.2" width="4.3" height="4.3" fill="#4786c2"/><rect x="543.7" y="241.2" width="4.3" height="4.3" fill="#427cbb"/><rect x="547.4" y="241.2" width="4.3" height="4.3" fill="#3c72b4"/><rect x="551.1" y="241.2" width="4.3" height="4.3" fill="#376aae"/><rect x="554.8" y="241.2" width="4.3" height="4.3" fill="#3362a8"/><rect x="558.4" y="241.2" width="4.3" height="4.3" fill="#305aa0"/><rect x="562.1" y="241.2" width="4.3" height="4.3" fill="#2d5399"/><rect x="565.8" y="241.2" width="4.3" height="4.3" fill="#2b4e93"/><rect x="569.5" y="241.2" width="4.3" height="4.3" fill="#29498e"/><rect x="573.2" y="241.2" width="4.3" height="4.3" fill="#27468b"/><rect x="576.9" y="241.2" width="4.3" height="4.3" fill="#264488"/><rect x="580.6" y="241.2" width="4.3" height="4.3" fill="#254387"/><rect x="584.3" y="241.2" width="4.3" height="4.3" fill="#264488"/><rect x="587.9" y="241.2" width="4.3" height="4.3" fill="#27458a"/><rect x="591.6" y="241.2" width="4.3" height="4.3" fill="#28488d"/><rect x="595.3" y="241.2" width="4.3" height="4.3" fill="#2a4d92"/><rect x="599.0" y="241.2" width="4.3" height="4.3" fill="#2c5298"/><rect x="602.7" y="241.2" width="4.3" height="4.3" fill="#2f599e"/><rect x="606.4" y="241.2" width="4.3" height="4.3" fill="#3260a6"/><rect x="610.1" y="241.2" width="4.3" height="4.3" fill="#3668ad"/><rect x="613.8" y="241.2" width="4.3" height="4.3" fill="#3b71b3"/><rect x="617.4" y="241.2" width="4.3" height="4.3" fill="#407aba"/><rect x="621.1" y="241.2" width="4.3" height="4.3" fill="#4684c1"/><rect x="624.8" y="241.2" width="4.3" height="4.3" fill="#4e8cc6"/><rect x="628.5" y="241.2" width="4.3" height="4.3" fill="#5794ca"/><rect x="632.2" y="241.2" width="4.3" height="4.3" fill="#609dce"/><rect x="635.9" y="241.2" width="4.3" height="4.3" fill="#69a5d3"/><rect x="639.6" y="241.2" width="4.3" height="4.3" fill="#72add8"/><rect x="643.3" y="241.2" width="4.3" height="4.3" fill="#7cb5dd"/><rect x="646.9" y="241.2" width="4.3" height="4.3" fill="#8bbee1"/><rect x="650.6" y="241.2" width="4.3" height="4.3" fill="#9cc8e4"/><rect x="654.3" y="241.2" width="4.3" height="4.3" fill="#add1e8"/><rect x="658.0" y="241.2" width="4.3" height="4.3" fill="#bcd9ed"/><rect x="510.5" y="244.9" width="4.3" height="4.3" fill="#9ec9e5"/><rect x="514.2" y="244.9" width="4.3" height="4.3" fill="#8dbfe1"/><rect x="517.9" y="244.9" width="4.3" height="4.3" fill="#7cb5de"/><rect x="521.6" y="244.9" width="4.3" height="4.3" fill="#73add8"/><rect x="525.3" y="244.9" width="4.3" height="4.3" fill="#6aa5d3"/><rect x="528.9" y="244.9" width="4.3" height="4.3" fill="#619dcf"/><rect x="532.6" y="244.9" width="4.3" height="4.3" fill="#5795ca"/><rect x="536.3" y="244.9" width="4.3" height="4.3" fill="#4e8cc6"/><rect x="540.0" y="244.9" width="4.3" height="4.3" fill="#4684c1"/><rect x="543.7" y="244.9" width="4.3" height="4.3" fill="#407ab9"/><rect x="547.4" y="244.9" width="4.3" height="4.3" fill="#3b70b3"/><rect x="551.1" y="244.9" width="4.3" height="4.3" fill="#3667ac"/><rect x="554.8" y="244.9" width="4.3" height="4.3" fill="#325fa5"/><rect x="558.4" y="244.9" width="4.3" height="4.3" fill="#2f579d"/><rect x="562.1" y="244.9" width="4.3" height="4.3" fill="#2c5196"/><rect x="565.8" y="244.9" width="4.3" height="4.3" fill="#294b90"/><rect x="569.5" y="244.9" width="4.3" height="4.3" fill="#27468b"/><rect x="573.2" y="244.9" width="4.3" height="4.3" fill="#254387"/><rect x="576.9" y="244.9" width="4.3" height="4.3" fill="#244184"/><rect x="580.6" y="244.9" width="4.3" height="4.3" fill="#234183"/><rect x="584.3" y="244.9" width="4.3" height="4.3" fill="#244184"/><rect x="587.9" y="244.9" width="4.3" height="4.3" fill="#254386"/><rect x="591.6" y="244.9" width="4.3" height="4.3" fill="#27458a"/><rect x="595.3" y="244.9" width="4.3" height="4.3" fill="#294a8f"/><rect x="599.0" y="244.9" width="4.3" height="4.3" fill="#2b4f95"/><rect x="602.7" y="244.9" width="4.3" height="4.3" fill="#2e569b"/><rect x="606.4" y="244.9" width="4.3" height="4.3" fill="#315da3"/><rect x="610.1" y="244.9" width="4.3" height="4.3" fill="#3566ab"/><rect x="613.8" y="244.9" width="4.3" height="4.3" fill="#3a6eb1"/><rect x="617.4" y="244.9" width="4.3" height="4.3" fill="#3f78b8"/><rect x="621.1" y="244.9" width="4.3" height="4.3" fill="#4582bf"/><rect x="624.8" y="244.9" width="4.3" height="4.3" fill="#4c8bc5"/><rect x="628.5" y="244.9" width="4.3" height="4.3" fill="#5593c9"/><rect x="632.2" y="244.9" width="4.3" height="4.3" fill="#5f9bce"/><rect x="635.9" y="244.9" width="4.3" height="4.3" fill="#68a4d2"/><rect x="639.6" y="244.9" width="4.3" height="4.3" fill="#71abd7"/><rect x="643.3" y="244.9" width="4.3" height="4.3" fill="#7ab4dd"/><rect x="646.9" y="244.9" width="4.3" height="4.3" fill="#89bde0"/><rect x="650.6" y="244.9" width="4.3" height="4.3" fill="#9ac7e4"/><rect x="654.3" y="244.9" width="4.3" height="4.3" fill="#abd0e8"/><rect x="658.0" y="244.9" width="4.3" height="4.3" fill="#bad8ec"/><rect x="510.5" y="248.5" width="4.3" height="4.3" fill="#9cc8e4"/><rect x="514.2" y="248.5" width="4.3" height="4.3" fill="#8bbee1"/><rect x="517.9" y="248.5" width="4.3" height="4.3" fill="#7bb4dd"/><rect x="521.6" y="248.5" width="4.3" height="4.3" fill="#72acd8"/><rect x="525.3" y="248.5" width="4.3" height="4.3" fill="#69a4d3"/><rect x="528.9" y="248.5" width="4.3" height="4.3" fill="#609cce"/><rect x="532.6" y="248.5" width="4.3" height="4.3" fill="#5693c9"/><rect x="536.3" y="248.5" width="4.3" height="4.3" fill="#4d8bc5"/><rect x="540.0" y="248.5" width="4.3" height="4.3" fill="#4582bf"/><rect x="543.7" y="248.5" width="4.3" height="4.3" fill="#3f78b8"/><rect x="547.4" y="248.5" width="4.3" height="4.3" fill="#3a6eb1"/><rect x="551.1" y="248.5" width="4.3" height="4.3" fill="#3565ab"/><rect x="554.8" y="248.5" width="4.3" height="4.3" fill="#315da3"/><rect x="558.4" y="248.5" width="4.3" height="4.3" fill="#2e559b"/><rect x="562.1" y="248.5" width="4.3" height="4.3" fill="#2b4e93"/><rect x="565.8" y="248.5" width="4.3" height="4.3" fill="#28488d"/><rect x="569.5" y="248.5" width="4.3" height="4.3" fill="#264488"/><rect x="573.2" y="248.5" width="4.3" height="4.3" fill="#244184"/><rect x="576.9" y="248.5" width="4.3" height="4.3" fill="#223f81"/><rect x="580.6" y="248.5" width="4.3" height="4.3" fill="#213f80"/><rect x="584.3" y="248.5" width="4.3" height="4.3" fill="#223f81"/><rect x="587.9" y="248.5" width="4.3" height="4.3" fill="#234183"/><rect x="591.6" y="248.5" width="4.3" height="4.3" fill="#254387"/><rect x="595.3" y="248.5" width="4.3" height="4.3" fill="#28478c"/><rect x="599.0" y="248.5" width="4.3" height="4.3" fill="#2a4d92"/><rect x="602.7" y="248.5" width="4.3" height="4.3" fill="#2d5499"/><rect x="606.4" y="248.5" width="4.3" height="4.3" fill="#305ba1"/><rect x="610.1" y="248.5" width="4.3" height="4.3" fill="#3464aa"/><rect x="613.8" y="248.5" width="4.3" height="4.3" fill="#396cb0"/><rect x="617.4" y="248.5" width="4.3" height="4.3" fill="#3e76b7"/><rect x="621.1" y="248.5" width="4.3" height="4.3" fill="#4480be"/><rect x="624.8" y="248.5" width="4.3" height="4.3" fill="#4b8ac4"/><rect x="628.5" y="248.5" width="4.3" height="4.3" fill="#5492c9"/><rect x="632.2" y="248.5" width="4.3" height="4.3" fill="#5d9acd"/><rect x="635.9" y="248.5" width="4.3" height="4.3" fill="#67a3d2"/><rect x="639.6" y="248.5" width="4.3" height="4.3" fill="#70aad7"/><rect x="643.3" y="248.5" width="4.3" height="4.3" fill="#79b3dc"/><rect x="646.9" y="248.5" width="4.3" height="4.3" fill="#87bce0"/><rect x="650.6" y="248.5" width="4.3" height="4.3" fill="#99c6e4"/><rect x="654.3" y="248.5" width="4.3" height="4.3" fill="#a9cfe7"/><rect x="658.0" y="248.5" width="4.3" height="4.3" fill="#b9d7ec"/><rect x="510.5" y="252.2" width="4.3" height="4.3" fill="#9bc7e4"/><rect x="514.2" y="252.2" width="4.3" height="4.3" fill="#89bde0"/><rect x="517.9" y="252.2" width="4.3" height="4.3" fill="#7ab4dd"/><rect x="521.6" y="252.2" width="4.3" height="4.3" fill="#71abd7"/><rect x="525.3" y="252.2" width="4.3" height="4.3" fill="#68a3d2"/><rect x="528.9" y="252.2" width="4.3" height="4.3" fill="#5f9bcd"/><rect x="532.6" y="252.2" width="4.3" height="4.3" fill="#5592c9"/><rect x="536.3" y="252.2" width="4.3" height="4.3" fill="#4c8ac5"/><rect x="540.0" y="252.2" width="4.3" height="4.3" fill="#4481be"/><rect x="543.7" y="252.2" width="4.3" height="4.3" fill="#3e76b7"/><rect x="547.4" y="252.2" width="4.3" height="4.3" fill="#396db0"/><rect x="551.1" y="252.2" width="4.3" height="4.3" fill="#3464aa"/><rect x="554.8" y="252.2" width="4.3" height="4.3" fill="#305ba1"/><rect x="558.4" y="252.2" width="4.3" height="4.3" fill="#2d5399"/><rect x="562.1" y="252.2" width="4.3" height="4.3" fill="#2a4c91"/><rect x="565.8" y="252.2" width="4.3" height="4.3" fill="#27468b"/><rect x="569.5" y="252.2" width="4.3" height="4.3" fill="#254286"/><rect x="573.2" y="252.2" width="4.3" height="4.3" fill="#224081"/><rect x="576.9" y="252.2" width="4.3" height="4.3" fill="#203e7e"/><rect x="580.6" y="252.2" width="4.3" height="4.3" fill="#203d7d"/><rect x="584.3" y="252.2" width="4.3" height="4.3" fill="#203e7e"/><rect x="587.9" y="252.2" width="4.3" height="4.3" fill="#223f80"/><rect x="591.6" y="252.2" width="4.3" height="4.3" fill="#244285"/><rect x="595.3" y="252.2" width="4.3" height="4.3" fill="#27458a"/><rect x="599.0" y="252.2" width="4.3" height="4.3" fill="#294b90"/><rect x="602.7" y="252.2" width="4.3" height="4.3" fill="#2c5297"/><rect x="606.4" y="252.2" width="4.3" height="4.3" fill="#30599f"/><rect x="610.1" y="252.2" width="4.3" height="4.3" fill="#3362a8"/><rect x="613.8" y="252.2" width="4.3" height="4.3" fill="#386baf"/><rect x="617.4" y="252.2" width="4.3" height="4.3" fill="#3d74b6"/><rect x="621.1" y="252.2" width="4.3" height="4.3" fill="#437ebd"/><rect x="624.8" y="252.2" width="4.3" height="4.3" fill="#4a89c4"/><rect x="628.5" y="252.2" width="4.3" height="4.3" fill="#5391c8"/><rect x="632.2" y="252.2" width="4.3" height="4.3" fill="#5c99cc"/><rect x="635.9" y="252.2" width="4.3" height="4.3" fill="#66a2d1"/><rect x="639.6" y="252.2" width="4.3" height="4.3" fill="#6faad6"/><rect x="643.3" y="252.2" width="4.3" height="4.3" fill="#78b2db"/><rect x="646.9" y="252.2" width="4.3" height="4.3" fill="#86bbe0"/><rect x="650.6" y="252.2" width="4.3" height="4.3" fill="#97c5e3"/><rect x="654.3" y="252.2" width="4.3" height="4.3" fill="#a8cfe7"/><rect x="658.0" y="252.2" width="4.3" height="4.3" fill="#b8d7ec"/><rect x="510.5" y="255.9" width="4.3" height="4.3" fill="#9ac7e4"/><rect x="514.2" y="255.9" width="4.3" height="4.3" fill="#88bde0"/><rect x="517.9" y="255.9" width="4.3" height="4.3" fill="#7ab3dc"/><rect x="521.6" y="255.9" width="4.3" height="4.3" fill="#70abd7"/><rect x="525.3" y="255.9" width="4.3" height="4.3" fill="#67a3d2"/><rect x="528.9" y="255.9" width="4.3" height="4.3" fill="#5e9acd"/><rect x="532.6" y="255.9" width="4.3" height="4.3" fill="#5492c9"/><rect x="536.3" y="255.9" width="4.3" height="4.3" fill="#4b89c4"/><rect x="540.0" y="255.9" width="4.3" height="4.3" fill="#4480be"/><rect x="543.7" y="255.9" width="4.3" height="4.3" fill="#3e75b6"/><rect x="547.4" y="255.9" width="4.3" height="4.3" fill="#386caf"/><rect x="551.1" y="255.9" width="4.3" height="4.3" fill="#3363a9"/><rect x="554.8" y="255.9" width="4.3" height="4.3" fill="#305a9f"/><rect x="558.4" y="255.9" width="4.3" height="4.3" fill="#2c5297"/><rect x="562.1" y="255.9" width="4.3" height="4.3" fill="#294b90"/><rect x="565.8" y="255.9" width="4.3" height="4.3" fill="#27458a"/><rect x="569.5" y="255.9" width="4.3" height="4.3" fill="#234184"/><rect x="573.2" y="255.9" width="4.3" height="4.3" fill="#213e7f"/><rect x="576.9" y="255.9" width="4.3" height="4.3" fill="#1f3c7c"/><rect x="580.6" y="255.9" width="4.3" height="4.3" fill="#1e3c7b"/><rect x="584.3" y="255.9" width="4.3" height="4.3" fill="#1f3c7c"/><rect x="587.9" y="255.9" width="4.3" height="4.3" fill="#213e7e"/><rect x="591.6" y="255.9" width="4.3" height="4.3" fill="#234083"/><rect x="595.3" y="255.9" width="4.3" height="4.3" fill="#264488"/><rect x="599.0" y="255.9" width="4.3" height="4.3" fill="#29498f"/><rect x="602.7" y="255.9" width="4.3" height="4.3" fill="#2c5096"/><rect x="606.4" y="255.9" width="4.3" height="4.3" fill="#2f589e"/><rect x="610.1" y="255.9" width="4.3" height="4.3" fill="#3361a7"/><rect x="613.8" y="255.9" width="4.3" height="4.3" fill="#376aae"/><rect x="617.4" y="255.9" width="4.3" height="4.3" fill="#3d73b5"/><rect x="621.1" y="255.9" width="4.3" height="4.3" fill="#427dbc"/><rect x="624.8" y="255.9" width="4.3" height="4.3" fill="#4988c3"/><rect x="628.5" y="255.9" width="4.3" height="4.3" fill="#5290c8"/><rect x="632.2" y="255.9" width="4.3" height="4.3" fill="#5c99cc"/><rect x="635.9" y="255.9" width="4.3" height="4.3" fill="#65a1d1"/><rect x="639.6" y="255.9" width="4.3" height="4.3" fill="#6ea9d6"/><rect x="643.3" y="255.9" width="4.3" height="4.3" fill="#78b1db"/><rect x="646.9" y="255.9" width="4.3" height="4.3" fill="#85bae0"/><rect x="650.6" y="255.9" width="4.3" height="4.3" fill="#96c4e3"/><rect x="654.3" y="255.9" width="4.3" height="4.3" fill="#a7cee7"/><rect x="658.0" y="255.9" width="4.3" height="4.3" fill="#b7d6eb"/><rect x="510.5" y="259.5" width="4.3" height="4.3" fill="#99c6e4"/><rect x="514.2" y="259.5" width="4.3" height="4.3" fill="#88bce0"/><rect x="517.9" y="259.5" width="4.3" height="4.3" fill="#79b3dc"/><rect x="521.6" y="259.5" width="4.3" height="4.3" fill="#70abd7"/><rect x="525.3" y="259.5" width="4.3" height="4.3" fill="#67a3d2"/><rect x="528.9" y="259.5" width="4.3" height="4.3" fill="#5d9acd"/><rect x="532.6" y="259.5" width="4.3" height="4.3" fill="#5391c8"/><rect x="536.3" y="259.5" width="4.3" height="4.3" fill="#4a89c4"/><rect x="540.0" y="259.5" width="4.3" height="4.3" fill="#437fbd"/><rect x="543.7" y="259.5" width="4.3" height="4.3" fill="#3d75b6"/><rect x="547.4" y="259.5" width="4.3" height="4.3" fill="#386baf"/><rect x="551.1" y="259.5" width="4.3" height="4.3" fill="#3362a8"/><rect x="554.8" y="259.5" width="4.3" height="4.3" fill="#2f599f"/><rect x="558.4" y="259.5" width="4.3" height="4.3" fill="#2c5196"/><rect x="562.1" y="259.5" width="4.3" height="4.3" fill="#294a8f"/><rect x="565.8" y="259.5" width="4.3" height="4.3" fill="#264488"/><rect x="569.5" y="259.5" width="4.3" height="4.3" fill="#234082"/><rect x="573.2" y="259.5" width="4.3" height="4.3" fill="#203e7e"/><rect x="576.9" y="259.5" width="4.3" height="4.3" fill="#1e3c7a"/><rect x="580.6" y="259.5" width="4.3" height="4.3" fill="#1e3b79"/><rect x="584.3" y="259.5" width="4.3" height="4.3" fill="#1e3b7a"/><rect x="587.9" y="259.5" width="4.3" height="4.3" fill="#203d7d"/><rect x="591.6" y="259.5" width="4.3" height="4.3" fill="#224081"/><rect x="595.3" y="259.5" width="4.3" height="4.3" fill="#254387"/><rect x="599.0" y="259.5" width="4.3" height="4.3" fill="#28488e"/><rect x="602.7" y="259.5" width="4.3" height="4.3" fill="#2b4f95"/><rect x="606.4" y="259.5" width="4.3" height="4.3" fill="#2f579d"/><rect x="610.1" y="259.5" width="4.3" height="4.3" fill="#3260a6"/><rect x="613.8" y="259.5" width="4.3" height="4.3" fill="#3769ae"/><rect x="617.4" y="259.5" width="4.3" height="4.3" fill="#3c72b4"/><rect x="621.1" y="259.5" width="4.3" height="4.3" fill="#427dbc"/><rect x="624.8" y="259.5" width="4.3" height="4.3" fill="#4887c3"/><rect x="628.5" y="259.5" width="4.3" height="4.3" fill="#518fc7"/><rect x="632.2" y="259.5" width="4.3" height="4.3" fill="#5b98cc"/><rect x="635.9" y="259.5" width="4.3" height="4.3" fill="#65a1d1"/><rect x="639.6" y="259.5" width="4.3" height="4.3" fill="#6ea9d6"/><rect x="643.3" y="259.5" width="4.3" height="4.3" fill="#77b1db"/><rect x="646.9" y="259.5" width="4.3" height="4.3" fill="#84badf"/><rect x="650.6" y="259.5" width="4.3" height="4.3" fill="#95c4e3"/><rect x="654.3" y="259.5" width="4.3" height="4.3" fill="#a7cee7"/><rect x="658.0" y="259.5" width="4.3" height="4.3" fill="#b6d6eb"/><rect x="510.5" y="263.2" width="4.3" height="4.3" fill="#99c6e4"/><rect x="514.2" y="263.2" width="4.3" height="4.3" fill="#87bce0"/><rect x="517.9" y="263.2" width="4.3" height="4.3" fill="#79b3dc"/><rect x="521.6" y="263.2" width="4.3" height="4.3" fill="#70aad7"/><rect x="525.3" y="263.2" width="4.3" height="4.3" fill="#67a2d2"/><rect x="528.9" y="263.2" width="4.3" height="4.3" fill="#5d9acd"/><rect x="532.6" y="263.2" width="4.3" height="4.3" fill="#5391c8"/><rect x="536.3" y="263.2" width="4.3" height="4.3" fill="#4a89c4"/><rect x="540.0" y="263.2" width="4.3" height="4.3" fill="#437fbd"/><rect x="543.7" y="263.2" width="4.3" height="4.3" fill="#3d74b6"/><rect x="547.4" y="263.2" width="4.3" height="4.3" fill="#386baf"/><rect x="551.1" y="263.2" width="4.3" height="4.3" fill="#3361a7"/><rect x="554.8" y="263.2" width="4.3" height="4.3" fill="#2f599e"/><rect x="558.4" y="263.2" width="4.3" height="4.3" fill="#2c5196"/><rect x="562.1" y="263.2" width="4.3" height="4.3" fill="#29498f"/><rect x="565.8" y="263.2" width="4.3" height="4.3" fill="#264488"/><rect x="569.5" y="263.2" width="4.3" height="4.3" fill="#234082"/><rect x="573.2" y="263.2" width="4.3" height="4.3" fill="#203d7d"/><rect x="576.9" y="263.2" width="4.3" height="4.3" fill="#1e3b7a"/><rect x="580.6" y="263.2" width="4.3" height="4.3" fill="#1d3a78"/><rect x="584.3" y="263.2" width="4.3" height="4.3" fill="#1e3b79"/><rect x="587.9" y="263.2" width="4.3" height="4.3" fill="#1f3d7c"/><rect x="591.6" y="263.2" width="4.3" height="4.3" fill="#223f81"/><rect x="595.3" y="263.2" width="4.3" height="4.3" fill="#254387"/><rect x="599.0" y="263.2" width="4.3" height="4.3" fill="#28488d"/><rect x="602.7" y="263.2" width="4.3" height="4.3" fill="#2b4f94"/><rect x="606.4" y="263.2" width="4.3" height="4.3" fill="#2e579c"/><rect x="610.1" y="263.2" width="4.3" height="4.3" fill="#3260a5"/><rect x="613.8" y="263.2" width="4.3" height="4.3" fill="#3769ad"/><rect x="617.4" y="263.2" width="4.3" height="4.3" fill="#3c72b4"/><rect x="621.1" y="263.2" width="4.3" height="4.3" fill="#427cbb"/><rect x="624.8" y="263.2" width="4.3" height="4.3" fill="#4887c3"/><rect x="628.5" y="263.2" width="4.3" height="4.3" fill="#518fc7"/><rect x="632.2" y="263.2" width="4.3" height="4.3" fill="#5b98cc"/><rect x="635.9" y="263.2" width="4.3" height="4.3" fill="#65a1d0"/><rect x="639.6" y="263.2" width="4.3" height="4.3" fill="#6ea9d6"/><rect x="643.3" y="263.2" width="4.3" height="4.3" fill="#77b1db"/><rect x="646.9" y="263.2" width="4.3" height="4.3" fill="#84badf"/><rect x="650.6" y="263.2" width="4.3" height="4.3" fill="#95c4e3"/><rect x="654.3" y="263.2" width="4.3" height="4.3" fill="#a7cee7"/><rect x="658.0" y="263.2" width="4.3" height="4.3" fill="#b6d6eb"/><rect x="510.5" y="266.9" width="4.3" height="4.3" fill="#99c6e4"/><rect x="514.2" y="266.9" width="4.3" height="4.3" fill="#87bce0"/><rect x="517.9" y="266.9" width="4.3" height="4.3" fill="#79b3dc"/><rect x="521.6" y="266.9" width="4.3" height="4.3" fill="#70aad7"/><rect x="525.3" y="266.9" width="4.3" height="4.3" fill="#67a2d2"/><rect x="528.9" y="266.9" width="4.3" height="4.3" fill="#5d9acd"/><rect x="532.6" y="266.9" width="4.3" height="4.3" fill="#5391c8"/><rect x="536.3" y="266.9" width="4.3" height="4.3" fill="#4a89c4"/><rect x="540.0" y="266.9" width="4.3" height="4.3" fill="#437fbd"/><rect x="543.7" y="266.9" width="4.3" height="4.3" fill="#3d74b6"/><rect x="547.4" y="266.9" width="4.3" height="4.3" fill="#386baf"/><rect x="551.1" y="266.9" width="4.3" height="4.3" fill="#3362a7"/><rect x="554.8" y="266.9" width="4.3" height="4.3" fill="#2f599e"/><rect x="558.4" y="266.9" width="4.3" height="4.3" fill="#2c5196"/><rect x="562.1" y="266.9" width="4.3" height="4.3" fill="#294a8f"/><rect x="565.8" y="266.9" width="4.3" height="4.3" fill="#264488"/><rect x="569.5" y="266.9" width="4.3" height="4.3" fill="#234082"/><rect x="573.2" y="266.9" width="4.3" height="4.3" fill="#203d7d"/><rect x="576.9" y="266.9" width="4.3" height="4.3" fill="#1e3b7a"/><rect x="580.6" y="266.9" width="4.3" height="4.3" fill="#1d3a78"/><rect x="584.3" y="266.9" width="4.3" height="4.3" fill="#1e3b79"/><rect x="587.9" y="266.9" width="4.3" height="4.3" fill="#203d7d"/><rect x="591.6" y="266.9" width="4.3" height="4.3" fill="#223f81"/><rect x="595.3" y="266.9" width="4.3" height="4.3" fill="#254387"/><rect x="599.0" y="266.9" width="4.3" height="4.3" fill="#28488d"/><rect x="602.7" y="266.9" width="4.3" height="4.3" fill="#2b4f94"/><rect x="606.4" y="266.9" width="4.3" height="4.3" fill="#2f579d"/><rect x="610.1" y="266.9" width="4.3" height="4.3" fill="#3260a6"/><rect x="613.8" y="266.9" width="4.3" height="4.3" fill="#3769ad"/><rect x="617.4" y="266.9" width="4.3" height="4.3" fill="#3c72b4"/><rect x="621.1" y="266.9" width="4.3" height="4.3" fill="#427cbb"/><rect x="624.8" y="266.9" width="4.3" height="4.3" fill="#4887c3"/><rect x="628.5" y="266.9" width="4.3" height="4.3" fill="#518fc7"/><rect x="632.2" y="266.9" width="4.3" height="4.3" fill="#5b98cc"/><rect x="635.9" y="266.9" width="4.3" height="4.3" fill="#65a1d1"/><rect x="639.6" y="266.9" width="4.3" height="4.3" fill="#6ea9d6"/><rect x="643.3" y="266.9" width="4.3" height="4.3" fill="#77b1db"/><rect x="646.9" y="266.9" width="4.3" height="4.3" fill="#84badf"/><rect x="650.6" y="266.9" width="4.3" height="4.3" fill="#95c4e3"/><rect x="654.3" y="266.9" width="4.3" height="4.3" fill="#a7cee7"/><rect x="658.0" y="266.9" width="4.3" height="4.3" fill="#b6d6eb"/><rect x="510.5" y="270.5" width="4.3" height="4.3" fill="#99c6e4"/><rect x="514.2" y="270.5" width="4.3" height="4.3" fill="#88bce0"/><rect x="517.9" y="270.5" width="4.3" height="4.3" fill="#7ab3dc"/><rect x="521.6" y="270.5" width="4.3" height="4.3" fill="#70abd7"/><rect x="525.3" y="270.5" width="4.3" height="4.3" fill="#67a3d2"/><rect x="528.9" y="270.5" width="4.3" height="4.3" fill="#5d9acd"/><rect x="532.6" y="270.5" width="4.3" height="4.3" fill="#5491c8"/><rect x="536.3" y="270.5" width="4.3" height="4.3" fill="#4a89c4"/><rect x="540.0" y="270.5" width="4.3" height="4.3" fill="#437fbd"/><rect x="543.7" y="270.5" width="4.3" height="4.3" fill="#3e75b6"/><rect x="547.4" y="270.5" width="4.3" height="4.3" fill="#386baf"/><rect x="551.1" y="270.5" width="4.3" height="4.3" fill="#3362a8"/><rect x="554.8" y="270.5" width="4.3" height="4.3" fill="#30599f"/><rect x="558.4" y="270.5" width="4.3" height="4.3" fill="#2c5197"/><rect x="562.1" y="270.5" width="4.3" height="4.3" fill="#294a8f"/><rect x="565.8" y="270.5" width="4.3" height="4.3" fill="#264489"/><rect x="569.5" y="270.5" width="4.3" height="4.3" fill="#234183"/><rect x="573.2" y="270.5" width="4.3" height="4.3" fill="#203e7e"/><rect x="576.9" y="270.5" width="4.3" height="4.3" fill="#1f3c7b"/><rect x="580.6" y="270.5" width="4.3" height="4.3" fill="#1e3b7a"/><rect x="584.3" y="270.5" width="4.3" height="4.3" fill="#1e3c7b"/><rect x="587.9" y="270.5" width="4.3" height="4.3" fill="#203d7d"/><rect x="591.6" y="270.5" width="4.3" height="4.3" fill="#224082"/><rect x="595.3" y="270.5" width="4.3" height="4.3" fill="#264488"/><rect x="599.0" y="270.5" width="4.3" height="4.3" fill="#29498e"/><rect x="602.7" y="270.5" width="4.3" height="4.3" fill="#2c5095"/><rect x="606.4" y="270.5" width="4.3" height="4.3" fill="#2f589d"/><rect x="610.1" y="270.5" width="4.3" height="4.3" fill="#3260a6"/><rect x="613.8" y="270.5" width="4.3" height="4.3" fill="#3769ae"/><rect x="617.4" y="270.5" width="4.3" height="4.3" fill="#3c73b5"/><rect x="621.1" y="270.5" width="4.3" height="4.3" fill="#427dbc"/><rect x="624.8" y="270.5" width="4.3" height="4.3" fill="#4988c3"/><rect x="628.5" y="270.5" width="4.3" height="4.3" fill="#5290c7"/><rect x="632.2" y="270.5" width="4.3" height="4.3" fill="#5b98cc"/><rect x="635.9" y="270.5" width="4.3" height="4.3" fill="#65a1d1"/><rect x="639.6" y="270.5" width="4.3" height="4.3" fill="#6ea9d6"/><rect x="643.3" y="270.5" width="4.3" height="4.3" fill="#78b1db"/><rect x="646.9" y="270.5" width="4.3" height="4.3" fill="#84badf"/><rect x="650.6" y="270.5" width="4.3" height="4.3" fill="#96c4e3"/><rect x="654.3" y="270.5" width="4.3" height="4.3" fill="#a7cee7"/><rect x="658.0" y="270.5" width="4.3" height="4.3" fill="#b6d6eb"/><rect x="510.5" y="274.2" width="4.3" height="4.3" fill="#9ac7e4"/><rect x="514.2" y="274.2" width="4.3" height="4.3" fill="#89bde0"/><rect x="517.9" y="274.2" width="4.3" height="4.3" fill="#7ab3dc"/><rect x="521.6" y="274.2" width="4.3" height="4.3" fill="#71abd7"/><rect x="525.3" y="274.2" width="4.3" height="4.3" fill="#68a3d2"/><rect x="528.9" y="274.2" width="4.3" height="4.3" fill="#5e9bcd"/><rect x="532.6" y="274.2" width="4.3" height="4.3" fill="#5492c9"/><rect x="536.3" y="274.2" width="4.3" height="4.3" fill="#4b8ac4"/><rect x="540.0" y="274.2" width="4.3" height="4.3" fill="#4480be"/><rect x="543.7" y="274.2" width="4.3" height="4.3" fill="#3e76b7"/><rect x="547.4" y="274.2" width="4.3" height="4.3" fill="#396cb0"/><rect x="551.1" y="274.2" width="4.3" height="4.3" fill="#3463a9"/><rect x="554.8" y="274.2" width="4.3" height="4.3" fill="#305aa0"/><rect x="558.4" y="274.2" width="4.3" height="4.3" fill="#2d5298"/><rect x="562.1" y="274.2" width="4.3" height="4.3" fill="#2a4b91"/><rect x="565.8" y="274.2" width="4.3" height="4.3" fill="#27458a"/><rect x="569.5" y="274.2" width="4.3" height="4.3" fill="#244284"/><rect x="573.2" y="274.2" width="4.3" height="4.3" fill="#213f80"/><rect x="576.9" y="274.2" width="4.3" height="4.3" fill="#203d7d"/><rect x="580.6" y="274.2" width="4.3" height="4.3" fill="#1f3c7c"/><rect x="584.3" y="274.2" width="4.3" height="4.3" fill="#1f3d7c"/><rect x="587.9" y="274.2" width="4.3" height="4.3" fill="#213e7f"/><rect x="591.6" y="274.2" width="4.3" height="4.3" fill="#234183"/><rect x="595.3" y="274.2" width="4.3" height="4.3" fill="#264489"/><rect x="599.0" y="274.2" width="4.3" height="4.3" fill="#294a8f"/><rect x="602.7" y="274.2" width="4.3" height="4.3" fill="#2c5196"/><rect x="606.4" y="274.2" width="4.3" height="4.3" fill="#2f599e"/><rect x="610.1" y="274.2" width="4.3" height="4.3" fill="#3361a7"/><rect x="613.8" y="274.2" width="4.3" height="4.3" fill="#386aae"/><rect x="617.4" y="274.2" width="4.3" height="4.3" fill="#3d74b5"/><rect x="621.1" y="274.2" width="4.3" height="4.3" fill="#437ebc"/><rect x="624.8" y="274.2" width="4.3" height="4.3" fill="#4988c4"/><rect x="628.5" y="274.2" width="4.3" height="4.3" fill="#5290c8"/><rect x="632.2" y="274.2" width="4.3" height="4.3" fill="#5c99cc"/><rect x="635.9" y="274.2" width="4.3" height="4.3" fill="#66a2d1"/><rect x="639.6" y="274.2" width="4.3" height="4.3" fill="#6fa9d6"/><rect x="643.3" y="274.2" width="4.3" height="4.3" fill="#78b2db"/><rect x="646.9" y="274.2" width="4.3" height="4.3" fill="#85bbe0"/><rect x="650.6" y="274.2" width="4.3" height="4.3" fill="#96c5e3"/><rect x="654.3" y="274.2" width="4.3" height="4.3" fill="#a8cee7"/><rect x="658.0" y="274.2" width="4.3" height="4.3" fill="#b7d6eb"/><rect x="510.5" y="277.8" width="4.3" height="4.3" fill="#9bc7e4"/><rect x="514.2" y="277.8" width="4.3" height="4.3" fill="#8abde1"/><rect x="517.9" y="277.8" width="4.3" height="4.3" fill="#7bb4dd"/><rect x="521.6" y="277.8" width="4.3" height="4.3" fill="#71acd7"/><rect x="525.3" y="277.8" width="4.3" height="4.3" fill="#68a4d2"/><rect x="528.9" y="277.8" width="4.3" height="4.3" fill="#5f9cce"/><rect x="532.6" y="277.8" width="4.3" height="4.3" fill="#5593c9"/><rect x="536.3" y="277.8" width="4.3" height="4.3" fill="#4c8bc5"/><rect x="540.0" y="277.8" width="4.3" height="4.3" fill="#4581bf"/><rect x="543.7" y="277.8" width="4.3" height="4.3" fill="#3f77b8"/><rect x="547.4" y="277.8" width="4.3" height="4.3" fill="#396db1"/><rect x="551.1" y="277.8" width="4.3" height="4.3" fill="#3465aa"/><rect x="554.8" y="277.8" width="4.3" height="4.3" fill="#315ca2"/><rect x="558.4" y="277.8" width="4.3" height="4.3" fill="#2d549a"/><rect x="562.1" y="277.8" width="4.3" height="4.3" fill="#2a4d92"/><rect x="565.8" y="277.8" width="4.3" height="4.3" fill="#28478c"/><rect x="569.5" y="277.8" width="4.3" height="4.3" fill="#254387"/><rect x="573.2" y="277.8" width="4.3" height="4.3" fill="#234082"/><rect x="576.9" y="277.8" width="4.3" height="4.3" fill="#213f7f"/><rect x="580.6" y="277.8" width="4.3" height="4.3" fill="#203e7e"/><rect x="584.3" y="277.8" width="4.3" height="4.3" fill="#213e7f"/><rect x="587.9" y="277.8" width="4.3" height="4.3" fill="#224082"/><rect x="591.6" y="277.8" width="4.3" height="4.3" fill="#254286"/><rect x="595.3" y="277.8" width="4.3" height="4.3" fill="#27468b"/><rect x="599.0" y="277.8" width="4.3" height="4.3" fill="#2a4c91"/><rect x="602.7" y="277.8" width="4.3" height="4.3" fill="#2d5298"/><rect x="606.4" y="277.8" width="4.3" height="4.3" fill="#305aa0"/><rect x="610.1" y="277.8" width="4.3" height="4.3" fill="#3363a9"/><rect x="613.8" y="277.8" width="4.3" height="4.3" fill="#386baf"/><rect x="617.4" y="277.8" width="4.3" height="4.3" fill="#3e75b6"/><rect x="621.1" y="277.8" width="4.3" height="4.3" fill="#437fbd"/><rect x="624.8" y="277.8" width="4.3" height="4.3" fill="#4a89c4"/><rect x="628.5" y="277.8" width="4.3" height="4.3" fill="#5391c8"/><rect x="632.2" y="277.8" width="4.3" height="4.3" fill="#5d9acd"/><rect x="635.9" y="277.8" width="4.3" height="4.3" fill="#67a2d1"/><rect x="639.6" y="277.8" width="4.3" height="4.3" fill="#6faad6"/><rect x="643.3" y="277.8" width="4.3" height="4.3" fill="#79b2dc"/><rect x="646.9" y="277.8" width="4.3" height="4.3" fill="#86bbe0"/><rect x="650.6" y="277.8" width="4.3" height="4.3" fill="#98c5e3"/><rect x="654.3" y="277.8" width="4.3" height="4.3" fill="#a9cfe7"/><rect x="658.0" y="277.8" width="4.3" height="4.3" fill="#b8d7ec"/><rect x="510.5" y="281.5" width="4.3" height="4.3" fill="#9dc8e4"/><rect x="514.2" y="281.5" width="4.3" height="4.3" fill="#8cbee1"/><rect x="517.9" y="281.5" width="4.3" height="4.3" fill="#7cb5dd"/><rect x="521.6" y="281.5" width="4.3" height="4.3" fill="#72add8"/><rect x="525.3" y="281.5" width="4.3" height="4.3" fill="#69a5d3"/><rect x="528.9" y="281.5" width="4.3" height="4.3" fill="#609dce"/><rect x="532.6" y="281.5" width="4.3" height="4.3" fill="#5694ca"/><rect x="536.3" y="281.5" width="4.3" height="4.3" fill="#4d8cc5"/><rect x="540.0" y="281.5" width="4.3" height="4.3" fill="#4683c0"/><rect x="543.7" y="281.5" width="4.3" height="4.3" fill="#4079b9"/><rect x="547.4" y="281.5" width="4.3" height="4.3" fill="#3a6fb2"/><rect x="551.1" y="281.5" width="4.3" height="4.3" fill="#3566ac"/><rect x="554.8" y="281.5" width="4.3" height="4.3" fill="#315ea4"/><rect x="558.4" y="281.5" width="4.3" height="4.3" fill="#2e569c"/><rect x="562.1" y="281.5" width="4.3" height="4.3" fill="#2b4f95"/><rect x="565.8" y="281.5" width="4.3" height="4.3" fill="#29498e"/><rect x="569.5" y="281.5" width="4.3" height="4.3" fill="#274589"/><rect x="573.2" y="281.5" width="4.3" height="4.3" fill="#244285"/><rect x="576.9" y="281.5" width="4.3" height="4.3" fill="#234082"/><rect x="580.6" y="281.5" width="4.3" height="4.3" fill="#224081"/><rect x="584.3" y="281.5" width="4.3" height="4.3" fill="#234082"/><rect x="587.9" y="281.5" width="4.3" height="4.3" fill="#244284"/><rect x="591.6" y="281.5" width="4.3" height="4.3" fill="#264488"/><rect x="595.3" y="281.5" width="4.3" height="4.3" fill="#28488d"/><rect x="599.0" y="281.5" width="4.3" height="4.3" fill="#2b4e93"/><rect x="602.7" y="281.5" width="4.3" height="4.3" fill="#2e559a"/><rect x="606.4" y="281.5" width="4.3" height="4.3" fill="#315ca2"/><rect x="610.1" y="281.5" width="4.3" height="4.3" fill="#3465aa"/><rect x="613.8" y="281.5" width="4.3" height="4.3" fill="#396db1"/><rect x="617.4" y="281.5" width="4.3" height="4.3" fill="#3f77b7"/><rect x="621.1" y="281.5" width="4.3" height="4.3" fill="#4481be"/><rect x="624.8" y="281.5" width="4.3" height="4.3" fill="#4b8ac5"/><rect x="628.5" y="281.5" width="4.3" height="4.3" fill="#5592c9"/><rect x="632.2" y="281.5" width="4.3" height="4.3" fill="#5e9bcd"/><rect x="635.9" y="281.5" width="4.3" height="4.3" fill="#68a3d2"/><rect x="639.6" y="281.5" width="4.3" height="4.3" fill="#70abd7"/><rect x="643.3" y="281.5" width="4.3" height="4.3" fill="#7ab3dc"/><rect x="646.9" y="281.5" width="4.3" height="4.3" fill="#88bce0"/><rect x="650.6" y="281.5" width="4.3" height="4.3" fill="#99c6e4"/><rect x="654.3" y="281.5" width="4.3" height="4.3" fill="#aad0e8"/><rect x="658.0" y="281.5" width="4.3" height="4.3" fill="#b9d7ec"/><rect x="510.5" y="285.2" width="4.3" height="4.3" fill="#9fcae5"/><rect x="514.2" y="285.2" width="4.3" height="4.3" fill="#8ec0e1"/><rect x="517.9" y="285.2" width="4.3" height="4.3" fill="#7db6de"/><rect x="521.6" y="285.2" width="4.3" height="4.3" fill="#74aed9"/><rect x="525.3" y="285.2" width="4.3" height="4.3" fill="#6ba6d4"/><rect x="528.9" y="285.2" width="4.3" height="4.3" fill="#629ecf"/><rect x="532.6" y="285.2" width="4.3" height="4.3" fill="#5895ca"/><rect x="536.3" y="285.2" width="4.3" height="4.3" fill="#4f8dc6"/><rect x="540.0" y="285.2" width="4.3" height="4.3" fill="#4785c1"/><rect x="543.7" y="285.2" width="4.3" height="4.3" fill="#417bba"/><rect x="547.4" y="285.2" width="4.3" height="4.3" fill="#3c71b3"/><rect x="551.1" y="285.2" width="4.3" height="4.3" fill="#3768ad"/><rect x="554.8" y="285.2" width="4.3" height="4.3" fill="#3260a6"/><rect x="558.4" y="285.2" width="4.3" height="4.3" fill="#2f599e"/><rect x="562.1" y="285.2" width="4.3" height="4.3" fill="#2c5297"/><rect x="565.8" y="285.2" width="4.3" height="4.3" fill="#2a4c91"/><rect x="569.5" y="285.2" width="4.3" height="4.3" fill="#28478c"/><rect x="573.2" y="285.2" width="4.3" height="4.3" fill="#264489"/><rect x="576.9" y="285.2" width="4.3" height="4.3" fill="#254386"/><rect x="580.6" y="285.2" width="4.3" height="4.3" fill="#244285"/><rect x="584.3" y="285.2" width="4.3" height="4.3" fill="#254286"/><rect x="587.9" y="285.2" width="4.3" height="4.3" fill="#264488"/><rect x="591.6" y="285.2" width="4.3" height="4.3" fill="#28468b"/><rect x="595.3" y="285.2" width="4.3" height="4.3" fill="#294b90"/><rect x="599.0" y="285.2" width="4.3" height="4.3" fill="#2c5196"/><rect x="602.7" y="285.2" width="4.3" height="4.3" fill="#2f579d"/><rect x="606.4" y="285.2" width="4.3" height="4.3" fill="#325fa4"/><rect x="610.1" y="285.2" width="4.3" height="4.3" fill="#3667ac"/><rect x="613.8" y="285.2" width="4.3" height="4.3" fill="#3a6fb2"/><rect x="617.4" y="285.2" width="4.3" height="4.3" fill="#4079b9"/><rect x="621.1" y="285.2" width="4.3" height="4.3" fill="#4583c0"/><rect x="624.8" y="285.2" width="4.3" height="4.3" fill="#4d8bc5"/><rect x="628.5" y="285.2" width="4.3" height="4.3" fill="#5694ca"/><rect x="632.2" y="285.2" width="4.3" height="4.3" fill="#609cce"/><rect x="635.9" y="285.2" width="4.3" height="4.3" fill="#69a4d3"/><rect x="639.6" y="285.2" width="4.3" height="4.3" fill="#72acd8"/><rect x="643.3" y="285.2" width="4.3" height="4.3" fill="#7bb4dd"/><rect x="646.9" y="285.2" width="4.3" height="4.3" fill="#8abde1"/><rect x="650.6" y="285.2" width="4.3" height="4.3" fill="#9bc7e4"/><rect x="654.3" y="285.2" width="4.3" height="4.3" fill="#acd0e8"/><rect x="658.0" y="285.2" width="4.3" height="4.3" fill="#bbd8ed"/><rect x="510.5" y="288.8" width="4.3" height="4.3" fill="#a1cbe5"/><rect x="514.2" y="288.8" width="4.3" height="4.3" fill="#90c1e2"/><rect x="517.9" y="288.8" width="4.3" height="4.3" fill="#7fb7de"/><rect x="521.6" y="288.8" width="4.3" height="4.3" fill="#75afd9"/><rect x="525.3" y="288.8" width="4.3" height="4.3" fill="#6ca7d4"/><rect x="528.9" y="288.8" width="4.3" height="4.3" fill="#639fd0"/><rect x="532.6" y="288.8" width="4.3" height="4.3" fill="#5a97cb"/><rect x="536.3" y="288.8" width="4.3" height="4.3" fill="#518fc7"/><rect x="540.0" y="288.8" width="4.3" height="4.3" fill="#4887c3"/><rect x="543.7" y="288.8" width="4.3" height="4.3" fill="#427dbc"/><rect x="547.4" y="288.8" width="4.3" height="4.3" fill="#3d74b5"/><rect x="551.1" y="288.8" width="4.3" height="4.3" fill="#386baf"/><rect x="554.8" y="288.8" width="4.3" height="4.3" fill="#3463a9"/><rect x="558.4" y="288.8" width="4.3" height="4.3" fill="#305ca1"/><rect x="562.1" y="288.8" width="4.3" height="4.3" fill="#2e559a"/><rect x="565.8" y="288.8" width="4.3" height="4.3" fill="#2b4f95"/><rect x="569.5" y="288.8" width="4.3" height="4.3" fill="#294b90"/><rect x="573.2" y="288.8" width="4.3" height="4.3" fill="#28478c"/><rect x="576.9" y="288.8" width="4.3" height="4.3" fill="#27458a"/><rect x="580.6" y="288.8" width="4.3" height="4.3" fill="#264489"/><rect x="584.3" y="288.8" width="4.3" height="4.3" fill="#27458a"/><rect x="587.9" y="288.8" width="4.3" height="4.3" fill="#28478c"/><rect x="591.6" y="288.8" width="4.3" height="4.3" fill="#294a8f"/><rect x="595.3" y="288.8" width="4.3" height="4.3" fill="#2b4e93"/><rect x="599.0" y="288.8" width="4.3" height="4.3" fill="#2d5499"/><rect x="602.7" y="288.8" width="4.3" height="4.3" fill="#305aa0"/><rect x="606.4" y="288.8" width="4.3" height="4.3" fill="#3361a7"/><rect x="610.1" y="288.8" width="4.3" height="4.3" fill="#3769ae"/><rect x="613.8" y="288.8" width="4.3" height="4.3" fill="#3c72b4"/><rect x="617.4" y="288.8" width="4.3" height="4.3" fill="#417bba"/><rect x="621.1" y="288.8" width="4.3" height="4.3" fill="#4785c2"/><rect x="624.8" y="288.8" width="4.3" height="4.3" fill="#4f8dc6"/><rect x="628.5" y="288.8" width="4.3" height="4.3" fill="#5895ca"/><rect x="632.2" y="288.8" width="4.3" height="4.3" fill="#619ecf"/><rect x="635.9" y="288.8" width="4.3" height="4.3" fill="#6aa5d3"/><rect x="639.6" y="288.8" width="4.3" height="4.3" fill="#73add8"/><rect x="643.3" y="288.8" width="4.3" height="4.3" fill="#7cb5de"/><rect x="646.9" y="288.8" width="4.3" height="4.3" fill="#8cbfe1"/><rect x="650.6" y="288.8" width="4.3" height="4.3" fill="#9ec9e5"/><rect x="654.3" y="288.8" width="4.3" height="4.3" fill="#aed1e9"/><rect x="658.0" y="288.8" width="4.3" height="4.3" fill="#bdd9ed"/><rect x="510.5" y="292.5" width="4.3" height="4.3" fill="#a4cce6"/><rect x="514.2" y="292.5" width="4.3" height="4.3" fill="#93c2e2"/><rect x="517.9" y="292.5" width="4.3" height="4.3" fill="#82b9df"/><rect x="521.6" y="292.5" width="4.3" height="4.3" fill="#77b0da"/><rect x="525.3" y="292.5" width="4.3" height="4.3" fill="#6ea9d5"/><rect x="528.9" y="292.5" width="4.3" height="4.3" fill="#65a1d1"/><rect x="532.6" y="292.5" width="4.3" height="4.3" fill="#5c99cc"/><rect x="536.3" y="292.5" width="4.3" height="4.3" fill="#5391c8"/><rect x="540.0" y="292.5" width="4.3" height="4.3" fill="#4a89c4"/><rect x="543.7" y="292.5" width="4.3" height="4.3" fill="#4480be"/><rect x="547.4" y="292.5" width="4.3" height="4.3" fill="#3f77b7"/><rect x="551.1" y="292.5" width="4.3" height="4.3" fill="#3a6eb1"/><rect x="554.8" y="292.5" width="4.3" height="4.3" fill="#3566ac"/><rect x="558.4" y="292.5" width="4.3" height="4.3" fill="#325fa5"/><rect x="562.1" y="292.5" width="4.3" height="4.3" fill="#2f589e"/><rect x="565.8" y="292.5" width="4.3" height="4.3" fill="#2d5398"/><rect x="569.5" y="292.5" width="4.3" height="4.3" fill="#2b4e94"/><rect x="573.2" y="292.5" width="4.3" height="4.3" fill="#2a4b90"/><rect x="576.9" y="292.5" width="4.3" height="4.3" fill="#29498e"/><rect x="580.6" y="292.5" width="4.3" height="4.3" fill="#28488d"/><rect x="584.3" y="292.5" width="4.3" height="4.3" fill="#29498e"/><rect x="587.9" y="292.5" width="4.3" height="4.3" fill="#294a90"/><rect x="591.6" y="292.5" width="4.3" height="4.3" fill="#2b4e93"/><rect x="595.3" y="292.5" width="4.3" height="4.3" fill="#2c5297"/><rect x="599.0" y="292.5" width="4.3" height="4.3" fill="#2f579d"/><rect x="602.7" y="292.5" width="4.3" height="4.3" fill="#315da3"/><rect x="606.4" y="292.5" width="4.3" height="4.3" fill="#3465aa"/><rect x="610.1" y="292.5" width="4.3" height="4.3" fill="#396cb0"/><rect x="613.8" y="292.5" width="4.3" height="4.3" fill="#3e75b6"/><rect x="617.4" y="292.5" width="4.3" height="4.3" fill="#437ebc"/><rect x="621.1" y="292.5" width="4.3" height="4.3" fill="#4988c3"/><rect x="624.8" y="292.5" width="4.3" height="4.3" fill="#518fc7"/><rect x="628.5" y="292.5" width="4.3" height="4.3" fill="#5a97cb"/><rect x="632.2" y="292.5" width="4.3" height="4.3" fill="#639fd0"/><rect x="635.9" y="292.5" width="4.3" height="4.3" fill="#6ca7d4"/><rect x="639.6" y="292.5" width="4.3" height="4.3" fill="#75afd9"/><rect x="643.3" y="292.5" width="4.3" height="4.3" fill="#7fb7de"/><rect x="646.9" y="292.5" width="4.3" height="4.3" fill="#8fc0e2"/><rect x="650.6" y="292.5" width="4.3" height="4.3" fill="#a0cae5"/><rect x="654.3" y="292.5" width="4.3" height="4.3" fill="#b0d3e9"/><rect x="658.0" y="292.5" width="4.3" height="4.3" fill="#bfdaee"/><rect x="510.5" y="296.1" width="4.3" height="4.3" fill="#a7cee6"/><rect x="514.2" y="296.1" width="4.3" height="4.3" fill="#96c4e3"/><rect x="517.9" y="296.1" width="4.3" height="4.3" fill="#85bbe0"/><rect x="521.6" y="296.1" width="4.3" height="4.3" fill="#78b2db"/><rect x="525.3" y="296.1" width="4.3" height="4.3" fill="#70aad6"/><rect x="528.9" y="296.1" width="4.3" height="4.3" fill="#67a3d2"/><rect x="532.6" y="296.1" width="4.3" height="4.3" fill="#5e9bcd"/><rect x="536.3" y="296.1" width="4.3" height="4.3" fill="#5593c9"/><rect x="540.0" y="296.1" width="4.3" height="4.3" fill="#4d8bc5"/><rect x="543.7" y="296.1" width="4.3" height="4.3" fill="#4683c0"/><rect x="547.4" y="296.1" width="4.3" height="4.3" fill="#407aba"/><rect x="551.1" y="296.1" width="4.3" height="4.3" fill="#3c71b4"/><rect x="554.8" y="296.1" width="4.3" height="4.3" fill="#376aae"/><rect x="558.4" y="296.1" width="4.3" height="4.3" fill="#3363a9"/><rect x="562.1" y="296.1" width="4.3" height="4.3" fill="#315ca2"/><rect x="565.8" y="296.1" width="4.3" height="4.3" fill="#2e579c"/><rect x="569.5" y="296.1" width="4.3" height="4.3" fill="#2d5298"/><rect x="573.2" y="296.1" width="4.3" height="4.3" fill="#2b4f95"/><rect x="576.9" y="296.1" width="4.3" height="4.3" fill="#2a4d92"/><rect x="580.6" y="296.1" width="4.3" height="4.3" fill="#2a4c92"/><rect x="584.3" y="296.1" width="4.3" height="4.3" fill="#2a4d92"/><rect x="587.9" y="296.1" width="4.3" height="4.3" fill="#2b4f94"/><rect x="591.6" y="296.1" width="4.3" height="4.3" fill="#2c5297"/><rect x="595.3" y="296.1" width="4.3" height="4.3" fill="#2e569b"/><rect x="599.0" y="296.1" width="4.3" height="4.3" fill="#305ba1"/><rect x="602.7" y="296.1" width="4.3" height="4.3" fill="#3361a7"/><rect x="606.4" y="296.1" width="4.3" height="4.3" fill="#3668ad"/><rect x="610.1" y="296.1" width="4.3" height="4.3" fill="#3b70b2"/><rect x="613.8" y="296.1" width="4.3" height="4.3" fill="#3f78b8"/><rect x="617.4" y="296.1" width="4.3" height="4.3" fill="#4581bf"/><rect x="621.1" y="296.1" width="4.3" height="4.3" fill="#4b8ac4"/><rect x="624.8" y="296.1" width="4.3" height="4.3" fill="#5391c8"/><rect x="628.5" y="296.1" width="4.3" height="4.3" fill="#5c99cc"/><rect x="632.2" y="296.1" width="4.3" height="4.3" fill="#65a1d1"/><rect x="635.9" y="296.1" width="4.3" height="4.3" fill="#6ea9d5"/><rect x="639.6" y="296.1" width="4.3" height="4.3" fill="#77b0da"/><rect x="643.3" y="296.1" width="4.3" height="4.3" fill="#82b9df"/><rect x="646.9" y="296.1" width="4.3" height="4.3" fill="#92c2e2"/><rect x="650.6" y="296.1" width="4.3" height="4.3" fill="#a3cce6"/><rect x="654.3" y="296.1" width="4.3" height="4.3" fill="#b2d4ea"/><rect x="658.0" y="296.1" width="4.3" height="4.3" fill="#c1dcef"/><rect x="510.5" y="299.8" width="4.3" height="4.3" fill="#a9cfe7"/><rect x="514.2" y="299.8" width="4.3" height="4.3" fill="#99c6e4"/><rect x="517.9" y="299.8" width="4.3" height="4.3" fill="#89bde0"/><rect x="521.6" y="299.8" width="4.3" height="4.3" fill="#7bb4dd"/><rect x="525.3" y="299.8" width="4.3" height="4.3" fill="#72acd8"/><rect x="528.9" y="299.8" width="4.3" height="4.3" fill="#69a5d3"/><rect x="532.6" y="299.8" width="4.3" height="4.3" fill="#619dcf"/><rect x="536.3" y="299.8" width="4.3" height="4.3" fill="#5895ca"/><rect x="540.0" y="299.8" width="4.3" height="4.3" fill="#4f8ec6"/><rect x="543.7" y="299.8" width="4.3" height="4.3" fill="#4887c3"/><rect x="547.4" y="299.8" width="4.3" height="4.3" fill="#427dbc"/><rect x="551.1" y="299.8" width="4.3" height="4.3" fill="#3e75b6"/><rect x="554.8" y="299.8" width="4.3" height="4.3" fill="#396db1"/><rect x="558.4" y="299.8" width="4.3" height="4.3" fill="#3667ac"/><rect x="562.1" y="299.8" width="4.3" height="4.3" fill="#3361a6"/><rect x="565.8" y="299.8" width="4.3" height="4.3" fill="#305ba1"/><rect x="569.5" y="299.8" width="4.3" height="4.3" fill="#2f579c"/><rect x="573.2" y="299.8" width="4.3" height="4.3" fill="#2d5499"/><rect x="576.9" y="299.8" width="4.3" height="4.3" fill="#2c5297"/><rect x="580.6" y="299.8" width="4.3" height="4.3" fill="#2c5196"/><rect x="584.3" y="299.8" width="4.3" height="4.3" fill="#2c5297"/><rect x="587.9" y="299.8" width="4.3" height="4.3" fill="#2d5399"/><rect x="591.6" y="299.8" width="4.3" height="4.3" fill="#2e569c"/><rect x="595.3" y="299.8" width="4.3" height="4.3" fill="#305aa0"/><rect x="599.0" y="299.8" width="4.3" height="4.3" fill="#325fa5"/><rect x="602.7" y="299.8" width="4.3" height="4.3" fill="#3565ab"/><rect x="606.4" y="299.8" width="4.3" height="4.3" fill="#396cb0"/><rect x="610.1" y="299.8" width="4.3" height="4.3" fill="#3d73b5"/><rect x="613.8" y="299.8" width="4.3" height="4.3" fill="#417cbb"/><rect x="617.4" y="299.8" width="4.3" height="4.3" fill="#4785c1"/><rect x="621.1" y="299.8" width="4.3" height="4.3" fill="#4e8cc6"/><rect x="624.8" y="299.8" width="4.3" height="4.3" fill="#5694ca"/><rect x="628.5" y="299.8" width="4.3" height="4.3" fill="#5f9bce"/><rect x="632.2" y="299.8" width="4.3" height="4.3" fill="#68a3d2"/><rect x="635.9" y="299.8" width="4.3" height="4.3" fill="#70aad7"/><rect x="639.6" y="299.8" width="4.3" height="4.3" fill="#79b2dc"/><rect x="643.3" y="299.8" width="4.3" height="4.3" fill="#85bbe0"/><rect x="646.9" y="299.8" width="4.3" height="4.3" fill="#96c4e3"/><rect x="650.6" y="299.8" width="4.3" height="4.3" fill="#a6cee6"/><rect x="654.3" y="299.8" width="4.3" height="4.3" fill="#b5d5eb"/><rect x="658.0" y="299.8" width="4.3" height="4.3" fill="#c4ddef"/><rect x="510.5" y="303.5" width="4.3" height="4.3" fill="#add1e8"/><rect x="514.2" y="303.5" width="4.3" height="4.3" fill="#9dc8e4"/><rect x="517.9" y="303.5" width="4.3" height="4.3" fill="#8dbfe1"/><rect x="521.6" y="303.5" width="4.3" height="4.3" fill="#7db6de"/><rect x="525.3" y="303.5" width="4.3" height="4.3" fill="#74aed9"/><rect x="528.9" y="303.5" width="4.3" height="4.3" fill="#6ca7d4"/><rect x="532.6" y="303.5" width="4.3" height="4.3" fill="#64a0d0"/><rect x="536.3" y="303.5" width="4.3" height="4.3" fill="#5b98cc"/><rect x="540.0" y="303.5" width="4.3" height="4.3" fill="#5290c8"/><rect x="543.7" y="303.5" width="4.3" height="4.3" fill="#4b89c4"/><rect x="547.4" y="303.5" width="4.3" height="4.3" fill="#4581bf"/><rect x="551.1" y="303.5" width="4.3" height="4.3" fill="#4079b9"/><rect x="554.8" y="303.5" width="4.3" height="4.3" fill="#3c72b4"/><rect x="558.4" y="303.5" width="4.3" height="4.3" fill="#386baf"/><rect x="562.1" y="303.5" width="4.3" height="4.3" fill="#3565ab"/><rect x="565.8" y="303.5" width="4.3" height="4.3" fill="#3260a6"/><rect x="569.5" y="303.5" width="4.3" height="4.3" fill="#315ca1"/><rect x="573.2" y="303.5" width="4.3" height="4.3" fill="#2f599e"/><rect x="576.9" y="303.5" width="4.3" height="4.3" fill="#2e579c"/><rect x="580.6" y="303.5" width="4.3" height="4.3" fill="#2e569c"/><rect x="584.3" y="303.5" width="4.3" height="4.3" fill="#2e579c"/><rect x="587.9" y="303.5" width="4.3" height="4.3" fill="#2f589e"/><rect x="591.6" y="303.5" width="4.3" height="4.3" fill="#305ba1"/><rect x="595.3" y="303.5" width="4.3" height="4.3" fill="#325fa5"/><rect x="599.0" y="303.5" width="4.3" height="4.3" fill="#3464aa"/><rect x="602.7" y="303.5" width="4.3" height="4.3" fill="#376aae"/><rect x="606.4" y="303.5" width="4.3" height="4.3" fill="#3b70b3"/><rect x="610.1" y="303.5" width="4.3" height="4.3" fill="#3f77b8"/><rect x="613.8" y="303.5" width="4.3" height="4.3" fill="#447fbe"/><rect x="617.4" y="303.5" width="4.3" height="4.3" fill="#4988c4"/><rect x="621.1" y="303.5" width="4.3" height="4.3" fill="#518fc7"/><rect x="624.8" y="303.5" width="4.3" height="4.3" fill="#5996cb"/><rect x="628.5" y="303.5" width="4.3" height="4.3" fill="#629ecf"/><rect x="632.2" y="303.5" width="4.3" height="4.3" fill="#6aa5d3"/><rect x="635.9" y="303.5" width="4.3" height="4.3" fill="#72add8"/><rect x="639.6" y="303.5" width="4.3" height="4.3" fill="#7bb4dd"/><rect x="643.3" y="303.5" width="4.3" height="4.3" fill="#89bde0"/><rect x="646.9" y="303.5" width="4.3" height="4.3" fill="#99c6e4"/><rect x="650.6" y="303.5" width="4.3" height="4.3" fill="#aacfe7"/><rect x="654.3" y="303.5" width="4.3" height="4.3" fill="#b8d7ec"/><rect x="658.0" y="303.5" width="4.3" height="4.3" fill="#c7def0"/><rect x="510.5" y="307.1" width="4.3" height="4.3" fill="#b0d3e9"/><rect x="514.2" y="307.1" width="4.3" height="4.3" fill="#a1cbe5"/><rect x="517.9" y="307.1" width="4.3" height="4.3" fill="#91c1e2"/><rect x="521.6" y="307.1" width="4.3" height="4.3" fill="#81b8df"/><rect x="525.3" y="307.1" width="4.3" height="4.3" fill="#77b0da"/><rect x="528.9" y="307.1" width="4.3" height="4.3" fill="#6ea9d6"/><rect x="532.6" y="307.1" width="4.3" height="4.3" fill="#66a2d1"/><rect x="536.3" y="307.1" width="4.3" height="4.3" fill="#5e9bcd"/><rect x="540.0" y="307.1" width="4.3" height="4.3" fill="#5693c9"/><rect x="543.7" y="307.1" width="4.3" height="4.3" fill="#4e8cc6"/><rect x="547.4" y="307.1" width="4.3" height="4.3" fill="#4786c2"/><rect x="551.1" y="307.1" width="4.3" height="4.3" fill="#427dbc"/><rect x="554.8" y="307.1" width="4.3" height="4.3" fill="#3e76b7"/><rect x="558.4" y="307.1" width="4.3" height="4.3" fill="#3b6fb2"/><rect x="562.1" y="307.1" width="4.3" height="4.3" fill="#376aae"/><rect x="565.8" y="307.1" width="4.3" height="4.3" fill="#3565ab"/><rect x="569.5" y="307.1" width="4.3" height="4.3" fill="#3361a7"/><rect x="573.2" y="307.1" width="4.3" height="4.3" fill="#315ea4"/><rect x="576.9" y="307.1" width="4.3" height="4.3" fill="#315ca2"/><rect x="580.6" y="307.1" width="4.3" height="4.3" fill="#305ba1"/><rect x="584.3" y="307.1" width="4.3" height="4.3" fill="#315ca2"/><rect x="587.9" y="307.1" width="4.3" height="4.3" fill="#315da3"/><rect x="591.6" y="307.1" width="4.3" height="4.3" fill="#3260a6"/><rect x="595.3" y="307.1" width="4.3" height="4.3" fill="#3464aa"/><rect x="599.0" y="307.1" width="4.3" height="4.3" fill="#3769ad"/><rect x="602.7" y="307.1" width="4.3" height="4.3" fill="#3a6eb1"/><rect x="606.4" y="307.1" width="4.3" height="4.3" fill="#3d75b6"/><rect x="610.1" y="307.1" width="4.3" height="4.3" fill="#427cbb"/><rect x="613.8" y="307.1" width="4.3" height="4.3" fill="#4684c1"/><rect x="617.4" y="307.1" width="4.3" height="4.3" fill="#4c8bc5"/><rect x="621.1" y="307.1" width="4.3" height="4.3" fill="#5492c9"/><rect x="624.8" y="307.1" width="4.3" height="4.3" fill="#5c99cc"/><rect x="628.5" y="307.1" width="4.3" height="4.3" fill="#65a1d0"/><rect x="632.2" y="307.1" width="4.3" height="4.3" fill="#6da8d5"/><rect x="635.9" y="307.1" width="4.3" height="4.3" fill="#75afd9"/><rect x="639.6" y="307.1" width="4.3" height="4.3" fill="#7eb6de"/><rect x="643.3" y="307.1" width="4.3" height="4.3" fill="#8dbfe1"/><rect x="646.9" y="307.1" width="4.3" height="4.3" fill="#9ec9e5"/><rect x="650.6" y="307.1" width="4.3" height="4.3" fill="#add1e8"/><rect x="654.3" y="307.1" width="4.3" height="4.3" fill="#bbd8ed"/><rect x="658.0" y="307.1" width="4.3" height="4.3" fill="#c9dff1"/><rect x="510.5" y="310.8" width="4.3" height="4.3" fill="#b4d4ea"/><rect x="514.2" y="310.8" width="4.3" height="4.3" fill="#a6cde6"/><rect x="517.9" y="310.8" width="4.3" height="4.3" fill="#95c4e3"/><rect x="521.6" y="310.8" width="4.3" height="4.3" fill="#86bbe0"/><rect x="525.3" y="310.8" width="4.3" height="4.3" fill="#79b3dc"/><rect x="528.9" y="310.8" width="4.3" height="4.3" fill="#71acd7"/><rect x="532.6" y="310.8" width="4.3" height="4.3" fill="#69a5d3"/><rect x="536.3" y="310.8" width="4.3" height="4.3" fill="#619ecf"/><rect x="540.0" y="310.8" width="4.3" height="4.3" fill="#5996cb"/><rect x="543.7" y="310.8" width="4.3" height="4.3" fill="#5290c7"/><rect x="547.4" y="310.8" width="4.3" height="4.3" fill="#4b89c4"/><rect x="551.1" y="310.8" width="4.3" height="4.3" fill="#4582bf"/><rect x="554.8" y="310.8" width="4.3" height="4.3" fill="#417bba"/><rect x="558.4" y="310.8" width="4.3" height="4.3" fill="#3d74b6"/><rect x="562.1" y="310.8" width="4.3" height="4.3" fill="#3a6fb2"/><rect x="565.8" y="310.8" width="4.3" height="4.3" fill="#376aae"/><rect x="569.5" y="310.8" width="4.3" height="4.3" fill="#3566ac"/><rect x="573.2" y="310.8" width="4.3" height="4.3" fill="#3464aa"/><rect x="576.9" y="310.8" width="4.3" height="4.3" fill="#3362a8"/><rect x="580.6" y="310.8" width="4.3" height="4.3" fill="#3361a7"/><rect x="584.3" y="310.8" width="4.3" height="4.3" fill="#3362a7"/><rect x="587.9" y="310.8" width="4.3" height="4.3" fill="#3463a9"/><rect x="591.6" y="310.8" width="4.3" height="4.3" fill="#3566ab"/><rect x="595.3" y="310.8" width="4.3" height="4.3" fill="#3769ae"/><rect x="599.0" y="310.8" width="4.3" height="4.3" fill="#3a6eb1"/><rect x="602.7" y="310.8" width="4.3" height="4.3" fill="#3d73b5"/><rect x="606.4" y="310.8" width="4.3" height="4.3" fill="#4079b9"/><rect x="610.1" y="310.8" width="4.3" height="4.3" fill="#4480be"/><rect x="613.8" y="310.8" width="4.3" height="4.3" fill="#4988c4"/><rect x="617.4" y="310.8" width="4.3" height="4.3" fill="#508ec7"/><rect x="621.1" y="310.8" width="4.3" height="4.3" fill="#5895ca"/><rect x="624.8" y="310.8" width="4.3" height="4.3" fill="#609cce"/><rect x="628.5" y="310.8" width="4.3" height="4.3" fill="#68a3d2"/><rect x="632.2" y="310.8" width="4.3" height="4.3" fill="#6faad6"/><rect x="635.9" y="310.8" width="4.3" height="4.3" fill="#78b1db"/><rect x="639.6" y="310.8" width="4.3" height="4.3" fill="#83b9df"/><rect x="643.3" y="310.8" width="4.3" height="4.3" fill="#92c2e2"/><rect x="646.9" y="310.8" width="4.3" height="4.3" fill="#a2cbe5"/><rect x="650.6" y="310.8" width="4.3" height="4.3" fill="#b1d3ea"/><rect x="654.3" y="310.8" width="4.3" height="4.3" fill="#bfdaee"/><rect x="658.0" y="310.8" width="4.3" height="4.3" fill="#cbe1f1"/><rect x="510.5" y="314.4" width="4.3" height="4.3" fill="#b7d7ec"/><rect x="514.2" y="314.4" width="4.3" height="4.3" fill="#aacfe7"/><rect x="517.9" y="314.4" width="4.3" height="4.3" fill="#9ac7e4"/><rect x="521.6" y="314.4" width="4.3" height="4.3" fill="#8bbee1"/><rect x="525.3" y="314.4" width="4.3" height="4.3" fill="#7cb5de"/><rect x="528.9" y="314.4" width="4.3" height="4.3" fill="#74aed9"/><rect x="532.6" y="314.4" width="4.3" height="4.3" fill="#6ca7d5"/><rect x="536.3" y="314.4" width="4.3" height="4.3" fill="#65a1d1"/><rect x="540.0" y="314.4" width="4.3" height="4.3" fill="#5d9acd"/><rect x="543.7" y="314.4" width="4.3" height="4.3" fill="#5593c9"/><rect x="547.4" y="314.4" width="4.3" height="4.3" fill="#4e8dc6"/><rect x="551.1" y="314.4" width="4.3" height="4.3" fill="#4887c3"/><rect x="554.8" y="314.4" width="4.3" height="4.3" fill="#4480be"/><rect x="558.4" y="314.4" width="4.3" height="4.3" fill="#4079b9"/><rect x="562.1" y="314.4" width="4.3" height="4.3" fill="#3d74b5"/><rect x="565.8" y="314.4" width="4.3" height="4.3" fill="#3b6fb2"/><rect x="569.5" y="314.4" width="4.3" height="4.3" fill="#386cb0"/><rect x="573.2" y="314.4" width="4.3" height="4.3" fill="#3769ae"/><rect x="576.9" y="314.4" width="4.3" height="4.3" fill="#3667ac"/><rect x="580.6" y="314.4" width="4.3" height="4.3" fill="#3667ac"/><rect x="584.3" y="314.4" width="4.3" height="4.3" fill="#3667ac"/><rect x="587.9" y="314.4" width="4.3" height="4.3" fill="#3769ad"/><rect x="591.6" y="314.4" width="4.3" height="4.3" fill="#386baf"/><rect x="595.3" y="314.4" width="4.3" height="4.3" fill="#3a6fb2"/><rect x="599.0" y="314.4" width="4.3" height="4.3" fill="#3d73b5"/><rect x="602.7" y="314.4" width="4.3" height="4.3" fill="#4078b8"/><rect x="606.4" y="314.4" width="4.3" height="4.3" fill="#437ebd"/><rect x="610.1" y="314.4" width="4.3" height="4.3" fill="#4785c2"/><rect x="613.8" y="314.4" width="4.3" height="4.3" fill="#4d8cc5"/><rect x="617.4" y="314.4" width="4.3" height="4.3" fill="#5492c9"/><rect x="621.1" y="314.4" width="4.3" height="4.3" fill="#5b98cc"/><rect x="624.8" y="314.4" width="4.3" height="4.3" fill="#639fd0"/><rect x="628.5" y="314.4" width="4.3" height="4.3" fill="#6ba6d4"/><rect x="632.2" y="314.4" width="4.3" height="4.3" fill="#72add8"/><rect x="635.9" y="314.4" width="4.3" height="4.3" fill="#7bb4dd"/><rect x="639.6" y="314.4" width="4.3" height="4.3" fill="#88bce0"/><rect x="643.3" y="314.4" width="4.3" height="4.3" fill="#97c5e3"/><rect x="646.9" y="314.4" width="4.3" height="4.3" fill="#a7cee7"/><rect x="650.6" y="314.4" width="4.3" height="4.3" fill="#b5d5eb"/><rect x="654.3" y="314.4" width="4.3" height="4.3" fill="#c3dcef"/><rect x="658.0" y="314.4" width="4.3" height="4.3" fill="#cde2f2"/><rect x="510.5" y="318.1" width="4.3" height="4.3" fill="#bcd9ed"/><rect x="514.2" y="318.1" width="4.3" height="4.3" fill="#aed2e9"/><rect x="517.9" y="318.1" width="4.3" height="4.3" fill="#a0cae5"/><rect x="521.6" y="318.1" width="4.3" height="4.3" fill="#90c1e2"/><rect x="525.3" y="318.1" width="4.3" height="4.3" fill="#81b9df"/><rect x="528.9" y="318.1" width="4.3" height="4.3" fill="#77b1db"/><rect x="532.6" y="318.1" width="4.3" height="4.3" fill="#70aad6"/><rect x="536.3" y="318.1" width="4.3" height="4.3" fill="#68a4d2"/><rect x="540.0" y="318.1" width="4.3" height="4.3" fill="#619dcf"/><rect x="543.7" y="318.1" width="4.3" height="4.3" fill="#5a97cb"/><rect x="547.4" y="318.1" width="4.3" height="4.3" fill="#5390c8"/><rect x="551.1" y="318.1" width="4.3" height="4.3" fill="#4c8bc5"/><rect x="554.8" y="318.1" width="4.3" height="4.3" fill="#4785c2"/><rect x="558.4" y="318.1" width="4.3" height="4.3" fill="#437fbd"/><rect x="562.1" y="318.1" width="4.3" height="4.3" fill="#407ab9"/><rect x="565.8" y="318.1" width="4.3" height="4.3" fill="#3e75b6"/><rect x="569.5" y="318.1" width="4.3" height="4.3" fill="#3c72b4"/><rect x="573.2" y="318.1" width="4.3" height="4.3" fill="#3a6fb2"/><rect x="576.9" y="318.1" width="4.3" height="4.3" fill="#396db1"/><rect x="580.6" y="318.1" width="4.3" height="4.3" fill="#396db0"/><rect x="584.3" y="318.1" width="4.3" height="4.3" fill="#396db0"/><rect x="587.9" y="318.1" width="4.3" height="4.3" fill="#3a6eb1"/><rect x="591.6" y="318.1" width="4.3" height="4.3" fill="#3b71b3"/><rect x="595.3" y="318.1" width="4.3" height="4.3" fill="#3d74b6"/><rect x="599.0" y="318.1" width="4.3" height="4.3" fill="#4079b9"/><rect x="602.7" y="318.1" width="4.3" height="4.3" fill="#437ebc"/><rect x="606.4" y="318.1" width="4.3" height="4.3" fill="#4684c1"/><rect x="610.1" y="318.1" width="4.3" height="4.3" fill="#4b8ac4"/><rect x="613.8" y="318.1" width="4.3" height="4.3" fill="#518fc7"/><rect x="617.4" y="318.1" width="4.3" height="4.3" fill="#5895ca"/><rect x="621.1" y="318.1" width="4.3" height="4.3" fill="#5f9cce"/><rect x="624.8" y="318.1" width="4.3" height="4.3" fill="#67a2d2"/><rect x="628.5" y="318.1" width="4.3" height="4.3" fill="#6ea9d6"/><rect x="632.2" y="318.1" width="4.3" height="4.3" fill="#76b0da"/><rect x="635.9" y="318.1" width="4.3" height="4.3" fill="#7eb7de"/><rect x="639.6" y="318.1" width="4.3" height="4.3" fill="#8dbfe1"/><rect x="643.3" y="318.1" width="4.3" height="4.3" fill="#9cc8e4"/><rect x="646.9" y="318.1" width="4.3" height="4.3" fill="#abd0e8"/><rect x="650.6" y="318.1" width="4.3" height="4.3" fill="#b9d7ec"/><rect x="654.3" y="318.1" width="4.3" height="4.3" fill="#c7def0"/><rect x="658.0" y="318.1" width="4.3" height="4.3" fill="#d0e3f2"/><rect x="510.5" y="321.8" width="4.3" height="4.3" fill="#c0dbee"/><rect x="514.2" y="321.8" width="4.3" height="4.3" fill="#b2d4ea"/><rect x="517.9" y="321.8" width="4.3" height="4.3" fill="#a5cde6"/><rect x="521.6" y="321.8" width="4.3" height="4.3" fill="#96c4e3"/><rect x="525.3" y="321.8" width="4.3" height="4.3" fill="#87bce0"/><rect x="528.9" y="321.8" width="4.3" height="4.3" fill="#7bb4dd"/><rect x="532.6" y="321.8" width="4.3" height="4.3" fill="#73add8"/><rect x="536.3" y="321.8" width="4.3" height="4.3" fill="#6ca7d4"/><rect x="540.0" y="321.8" width="4.3" height="4.3" fill="#65a1d1"/><rect x="543.7" y="321.8" width="4.3" height="4.3" fill="#5e9bcd"/><rect x="547.4" y="321.8" width="4.3" height="4.3" fill="#5794ca"/><rect x="551.1" y="321.8" width="4.3" height="4.3" fill="#518fc7"/><rect x="554.8" y="321.8" width="4.3" height="4.3" fill="#4b8ac4"/><rect x="558.4" y="321.8" width="4.3" height="4.3" fill="#4785c1"/><rect x="562.1" y="321.8" width="4.3" height="4.3" fill="#447fbe"/><rect x="565.8" y="321.8" width="4.3" height="4.3" fill="#417bba"/><rect x="569.5" y="321.8" width="4.3" height="4.3" fill="#3f78b8"/><rect x="573.2" y="321.8" width="4.3" height="4.3" fill="#3e75b6"/><rect x="576.9" y="321.8" width="4.3" height="4.3" fill="#3d73b5"/><rect x="580.6" y="321.8" width="4.3" height="4.3" fill="#3c73b5"/><rect x="584.3" y="321.8" width="4.3" height="4.3" fill="#3d73b5"/><rect x="587.9" y="321.8" width="4.3" height="4.3" fill="#3d75b6"/><rect x="591.6" y="321.8" width="4.3" height="4.3" fill="#3f77b8"/><rect x="595.3" y="321.8" width="4.3" height="4.3" fill="#417aba"/><rect x="599.0" y="321.8" width="4.3" height="4.3" fill="#437ebd"/><rect x="602.7" y="321.8" width="4.3" height="4.3" fill="#4684c1"/><rect x="606.4" y="321.8" width="4.3" height="4.3" fill="#4a89c4"/><rect x="610.1" y="321.8" width="4.3" height="4.3" fill="#508ec7"/><rect x="613.8" y="321.8" width="4.3" height="4.3" fill="#5693c9"/><rect x="617.4" y="321.8" width="4.3" height="4.3" fill="#5c99cc"/><rect x="621.1" y="321.8" width="4.3" height="4.3" fill="#64a0d0"/><rect x="624.8" y="321.8" width="4.3" height="4.3" fill="#6aa6d4"/><rect x="628.5" y="321.8" width="4.3" height="4.3" fill="#72acd8"/><rect x="632.2" y="321.8" width="4.3" height="4.3" fill="#79b3dc"/><rect x="635.9" y="321.8" width="4.3" height="4.3" fill="#84badf"/><rect x="639.6" y="321.8" width="4.3" height="4.3" fill="#93c2e2"/><rect x="643.3" y="321.8" width="4.3" height="4.3" fill="#a2cbe5"/><rect x="646.9" y="321.8" width="4.3" height="4.3" fill="#b0d2e9"/><rect x="650.6" y="321.8" width="4.3" height="4.3" fill="#bddaed"/><rect x="654.3" y="321.8" width="4.3" height="4.3" fill="#c9e0f1"/><rect x="658.0" y="321.8" width="4.3" height="4.3" fill="#d2e5f3"/><rect x="510.5" y="325.4" width="4.3" height="4.3" fill="#c5ddf0"/><rect x="514.2" y="325.4" width="4.3" height="4.3" fill="#b7d6ec"/><rect x="517.9" y="325.4" width="4.3" height="4.3" fill="#aad0e8"/><rect x="521.6" y="325.4" width="4.3" height="4.3" fill="#9cc8e4"/><rect x="525.3" y="325.4" width="4.3" height="4.3" fill="#8dbfe1"/><rect x="528.9" y="325.4" width="4.3" height="4.3" fill="#7fb7de"/><rect x="532.6" y="325.4" width="4.3" height="4.3" fill="#77b1db"/><rect x="536.3" y="325.4" width="4.3" height="4.3" fill="#70aad7"/><rect x="540.0" y="325.4" width="4.3" height="4.3" fill="#69a4d3"/><rect x="543.7" y="325.4" width="4.3" height="4.3" fill="#629fcf"/><rect x="547.4" y="325.4" width="4.3" height="4.3" fill="#5c99cc"/><rect x="551.1" y="325.4" width="4.3" height="4.3" fill="#5693c9"/><rect x="554.8" y="325.4" width="4.3" height="4.3" fill="#508ec7"/><rect x="558.4" y="325.4" width="4.3" height="4.3" fill="#4b8ac4"/><rect x="562.1" y="325.4" width="4.3" height="4.3" fill="#4786c2"/><rect x="565.8" y="325.4" width="4.3" height="4.3" fill="#4581bf"/><rect x="569.5" y="325.4" width="4.3" height="4.3" fill="#437ebc"/><rect x="573.2" y="325.4" width="4.3" height="4.3" fill="#417bbb"/><rect x="576.9" y="325.4" width="4.3" height="4.3" fill="#407aba"/><rect x="580.6" y="325.4" width="4.3" height="4.3" fill="#4079b9"/><rect x="584.3" y="325.4" width="4.3" height="4.3" fill="#407ab9"/><rect x="587.9" y="325.4" width="4.3" height="4.3" fill="#417bba"/><rect x="591.6" y="325.4" width="4.3" height="4.3" fill="#427dbc"/><rect x="595.3" y="325.4" width="4.3" height="4.3" fill="#4481be"/><rect x="599.0" y="325.4" width="4.3" height="4.3" fill="#4785c1"/><rect x="602.7" y="325.4" width="4.3" height="4.3" fill="#4a89c4"/><rect x="606.4" y="325.4" width="4.3" height="4.3" fill="#4f8dc6"/><rect x="610.1" y="325.4" width="4.3" height="4.3" fill="#5492c9"/><rect x="613.8" y="325.4" width="4.3" height="4.3" fill="#5a97cc"/><rect x="617.4" y="325.4" width="4.3" height="4.3" fill="#619dcf"/><rect x="621.1" y="325.4" width="4.3" height="4.3" fill="#68a3d2"/><rect x="624.8" y="325.4" width="4.3" height="4.3" fill="#6ea9d6"/><rect x="628.5" y="325.4" width="4.3" height="4.3" fill="#75afda"/><rect x="632.2" y="325.4" width="4.3" height="4.3" fill="#7db6de"/><rect x="635.9" y="325.4" width="4.3" height="4.3" fill="#8abee1"/><rect x="639.6" y="325.4" width="4.3" height="4.3" fill="#99c6e4"/><rect x="643.3" y="325.4" width="4.3" height="4.3" fill="#a7cee7"/><rect x="646.9" y="325.4" width="4.3" height="4.3" fill="#b4d5eb"/><rect x="650.6" y="325.4" width="4.3" height="4.3" fill="#c2dcef"/><rect x="654.3" y="325.4" width="4.3" height="4.3" fill="#cce1f2"/><rect x="658.0" y="325.4" width="4.3" height="4.3" fill="#d5e6f4"/><rect x="510.5" y="329.1" width="4.3" height="4.3" fill="#c8dff1"/><rect x="514.2" y="329.1" width="4.3" height="4.3" fill="#bcd9ed"/><rect x="517.9" y="329.1" width="4.3" height="4.3" fill="#afd2e9"/><rect x="521.6" y="329.1" width="4.3" height="4.3" fill="#a2cbe5"/><rect x="525.3" y="329.1" width="4.3" height="4.3" fill="#94c3e3"/><rect x="528.9" y="329.1" width="4.3" height="4.3" fill="#86bbe0"/><rect x="532.6" y="329.1" width="4.3" height="4.3" fill="#7bb4dd"/><rect x="536.3" y="329.1" width="4.3" height="4.3" fill="#74aed9"/><rect x="540.0" y="329.1" width="4.3" height="4.3" fill="#6da8d5"/><rect x="543.7" y="329.1" width="4.3" height="4.3" fill="#67a2d2"/><rect x="547.4" y="329.1" width="4.3" height="4.3" fill="#619dce"/><rect x="551.1" y="329.1" width="4.3" height="4.3" fill="#5a97cc"/><rect x="554.8" y="329.1" width="4.3" height="4.3" fill="#5593c9"/><rect x="558.4" y="329.1" width="4.3" height="4.3" fill="#508ec7"/><rect x="562.1" y="329.1" width="4.3" height="4.3" fill="#4c8bc5"/><rect x="565.8" y="329.1" width="4.3" height="4.3" fill="#4988c3"/><rect x="569.5" y="329.1" width="4.3" height="4.3" fill="#4784c1"/><rect x="573.2" y="329.1" width="4.3" height="4.3" fill="#4582bf"/><rect x="576.9" y="329.1" width="4.3" height="4.3" fill="#4480be"/><rect x="580.6" y="329.1" width="4.3" height="4.3" fill="#4480be"/><rect x="584.3" y="329.1" width="4.3" height="4.3" fill="#4480be"/><rect x="587.9" y="329.1" width="4.3" height="4.3" fill="#4582bf"/><rect x="591.6" y="329.1" width="4.3" height="4.3" fill="#4684c1"/><rect x="595.3" y="329.1" width="4.3" height="4.3" fill="#4887c3"/><rect x="599.0" y="329.1" width="4.3" height="4.3" fill="#4b8ac5"/><rect x="602.7" y="329.1" width="4.3" height="4.3" fill="#4f8ec6"/><rect x="606.4" y="329.1" width="4.3" height="4.3" fill="#5492c9"/><rect x="610.1" y="329.1" width="4.3" height="4.3" fill="#5996cb"/><rect x="613.8" y="329.1" width="4.3" height="4.3" fill="#5f9cce"/><rect x="617.4" y="329.1" width="4.3" height="4.3" fill="#66a1d1"/><rect x="621.1" y="329.1" width="4.3" height="4.3" fill="#6ca7d4"/><rect x="624.8" y="329.1" width="4.3" height="4.3" fill="#72acd8"/><rect x="628.5" y="329.1" width="4.3" height="4.3" fill="#79b3dc"/><rect x="632.2" y="329.1" width="4.3" height="4.3" fill="#83badf"/><rect x="635.9" y="329.1" width="4.3" height="4.3" fill="#91c1e2"/><rect x="639.6" y="329.1" width="4.3" height="4.3" fill="#9fcae5"/><rect x="643.3" y="329.1" width="4.3" height="4.3" fill="#add1e8"/><rect x="646.9" y="329.1" width="4.3" height="4.3" fill="#bad8ec"/><rect x="650.6" y="329.1" width="4.3" height="4.3" fill="#c7def0"/><rect x="654.3" y="329.1" width="4.3" height="4.3" fill="#cfe3f2"/><rect x="658.0" y="329.1" width="4.3" height="4.3" fill="#d8e8f5"/><rect x="510.5" y="332.7" width="4.3" height="4.3" fill="#cce1f1"/><rect x="514.2" y="332.7" width="4.3" height="4.3" fill="#c2dcef"/><rect x="517.9" y="332.7" width="4.3" height="4.3" fill="#b5d5eb"/><rect x="521.6" y="332.7" width="4.3" height="4.3" fill="#a8cfe7"/><rect x="525.3" y="332.7" width="4.3" height="4.3" fill="#9bc7e4"/><rect x="528.9" y="332.7" width="4.3" height="4.3" fill="#8dbfe1"/><rect x="532.6" y="332.7" width="4.3" height="4.3" fill="#80b8df"/><rect x="536.3" y="332.7" width="4.3" height="4.3" fill="#78b1db"/><rect x="540.0" y="332.7" width="4.3" height="4.3" fill="#71acd7"/><rect x="543.7" y="332.7" width="4.3" height="4.3" fill="#6ba6d4"/><rect x="547.4" y="332.7" width="4.3" height="4.3" fill="#65a1d1"/><rect x="551.1" y="332.7" width="4.3" height="4.3" fill="#609cce"/><rect x="554.8" y="332.7" width="4.3" height="4.3" fill="#5a97cb"/><rect x="558.4" y="332.7" width="4.3" height="4.3" fill="#5693c9"/><rect x="562.1" y="332.7" width="4.3" height="4.3" fill="#518fc7"/><rect x="565.8" y="332.7" width="4.3" height="4.3" fill="#4e8cc6"/><rect x="569.5" y="332.7" width="4.3" height="4.3" fill="#4b8ac5"/><rect x="573.2" y="332.7" width="4.3" height="4.3" fill="#4a88c4"/><rect x="576.9" y="332.7" width="4.3" height="4.3" fill="#4887c3"/><rect x="580.6" y="332.7" width="4.3" height="4.3" fill="#4887c3"/><rect x="584.3" y="332.7" width="4.3" height="4.3" fill="#4887c3"/><rect x="587.9" y="332.7" width="4.3" height="4.3" fill="#4988c4"/><rect x="591.6" y="332.7" width="4.3" height="4.3" fill="#4b8ac4"/><rect x="595.3" y="332.7" width="4.3" height="4.3" fill="#4d8cc6"/><rect x="599.0" y="332.7" width="4.3" height="4.3" fill="#518fc7"/><rect x="602.7" y="332.7" width="4.3" height="4.3" fill="#5592c9"/><rect x="606.4" y="332.7" width="4.3" height="4.3" fill="#5996cb"/><rect x="610.1" y="332.7" width="4.3" height="4.3" fill="#5e9bcd"/><rect x="613.8" y="332.7" width="4.3" height="4.3" fill="#64a0d0"/><rect x="617.4" y="332.7" width="4.3" height="4.3" fill="#6aa5d3"/><rect x="621.1" y="332.7" width="4.3" height="4.3" fill="#70aad7"/><rect x="624.8" y="332.7" width="4.3" height="4.3" fill="#76b0da"/><rect x="628.5" y="332.7" width="4.3" height="4.3" fill="#7db6de"/><rect x="632.2" y="332.7" width="4.3" height="4.3" fill="#8abee1"/><rect x="635.9" y="332.7" width="4.3" height="4.3" fill="#98c5e3"/><rect x="639.6" y="332.7" width="4.3" height="4.3" fill="#a6cde6"/><rect x="643.3" y="332.7" width="4.3" height="4.3" fill="#b2d4ea"/><rect x="646.9" y="332.7" width="4.3" height="4.3" fill="#bfdaee"/><rect x="650.6" y="332.7" width="4.3" height="4.3" fill="#cae0f1"/><rect x="654.3" y="332.7" width="4.3" height="4.3" fill="#d3e5f3"/><rect x="658.0" y="332.7" width="4.3" height="4.3" fill="#dceaf6"/></g><g clip-path="url(#chf)"><path d="M582.5 238.75A9.4 28 0 0 1 591.9 266.75A9.4 28 0 0 1 582.5 294.75A9.4 28 0 0 1 573.1 266.75A9.4 28 0 0 1 582.5 238.75Z" fill="none" stroke="#e6dc3c" stroke-width="1.2" opacity="1"/><path d="M582.5 209.75A22.3 57 0 0 1 604.8 266.75A22.3 57 0 0 1 582.5 323.75A21.3 57 0 0 1 561.2 266.75A21.3 57 0 0 1 582.5 209.75Z" fill="none" stroke="#e6dc3c" stroke-width="0.95" opacity="1"/><path d="M582.5 194.75A30.2 72 0 0 1 612.7 266.75A30.2 72 0 0 1 582.5 338.75A27.3 72 0 0 1 555.2 266.75A27.3 72 0 0 1 582.5 194.75Z" fill="none" stroke="#e6dc3c" stroke-width="0.8" opacity="0.8"/><path d="M582.5 173.75A39.2 93 0 0 1 621.7 266.75A39.2 93 0 0 1 582.5 359.75A34.8 93 0 0 1 547.7 266.75A34.8 93 0 0 1 582.5 173.75Z" fill="none" stroke="#e6dc3c" stroke-width="0.75" opacity="0.8"/><path d="M582.5 134.75A52.1 132 0 0 1 634.6 266.75A52.1 132 0 0 1 582.5 398.75A47.1 132 0 0 1 535.4 266.75A47.1 132 0 0 1 582.5 134.75Z" fill="none" stroke="#e6dc3c" stroke-width="0.7" opacity="0.8"/><path d="M582.5 104.75A67.3 162 0 0 1 649.8 266.75A67.3 162 0 0 1 582.5 428.75A61.6 162 0 0 1 520.9 266.75A61.6 162 0 0 1 582.5 104.75Z" fill="none" stroke="#e6dc3c" stroke-width="0.7" opacity="0.8"/><path d="M582.5 66.75A76.9 200 0 0 1 659.4 266.75A76.9 200 0 0 1 582.5 466.75A70.1 200 0 0 1 512.4 266.75A70.1 200 0 0 1 582.5 66.75Z" fill="none" stroke="#e6dc3c" stroke-width="0.7" opacity="0.8"/><polygon points="577.7,293.5 583.0,296.1 583.0,290.9" fill="#f5e41e"/><polygon points="578.4,323.6 583.6,326.2 583.6,321.1" fill="#f5e41e"/><polygon points="520.8,260.4 518.2,265.6 523.3,265.6" fill="#f5e41e"/><polygon points="535.1,266.2 532.6,271.4 537.6,271.4" fill="#f5e41e"/><polygon points="547.5,263.5 545.0,268.8 550.0,268.8" fill="#f5e41e"/><polygon points="555.6,269.3 553.1,274.6 558.1,274.6" fill="#f5e41e"/><polygon points="612.3,270.7 614.8,265.4 609.8,265.4" fill="#f5e41e"/><polygon points="622.0,268.0 624.5,262.8 619.5,262.8" fill="#f5e41e"/><polygon points="634.7,261.0 637.2,255.8 632.2,255.8" fill="#f5e41e"/><polygon points="650.2,259.0 652.8,253.8 647.7,253.8" fill="#f5e41e"/><polygon points="660.0,223.0 662.5,217.8 657.5,217.8" fill="#f5e41e"/><polygon points="512.3,207.5 509.7,212.8 514.8,212.8" fill="#f5e41e"/><polygon points="512.3,220.0 509.7,225.2 514.8,225.2" fill="#f5e41e"/><polygon points="512.3,309.0 509.7,314.2 514.8,314.2" fill="#f5e41e"/><polygon points="660.0,306.0 662.5,300.8 657.5,300.8" fill="#f5e41e"/><polygon points="660.0,325.5 662.5,320.2 657.5,320.2" fill="#f5e41e"/></g><rect x="510.5" y="197.3" width="151.20000000000005" height="139.09999999999997" fill="none" stroke="#8a8a8a" stroke-width="0.8"/><linearGradient id="cbg197" x1="0" y1="0" x2="0" y2="1"><stop offset="0" stop-color="#f2f7fd"/><stop offset="0.042" stop-color="#eef5fc"/><stop offset="0.151" stop-color="#dae9f5"/><stop offset="0.267" stop-color="#c6def0"/><stop offset="0.384" stop-color="#a5cde6"/><stop offset="0.5" stop-color="#7db6de"/><stop offset="0.624" stop-color="#64a0d0"/><stop offset="0.741" stop-color="#4887c3"/><stop offset="0.857" stop-color="#3464aa"/><stop offset="0.952" stop-color="#27458a"/><stop offset="1.0" stop-color="#1d3a78"/></linearGradient><rect x="664.3" y="197.3" width="8.100000000000023" height="139.5" fill="url(#cbg197)" stroke="#777" stroke-width="0.8"/><line x1="672.40" y1="229.10" x2="675.00" y2="229.10" stroke="#555" stroke-width="0.8"/><text x="676.20" y="232.40" font-size="9.6" text-anchor="start" fill="#111" >-2</text><line x1="672.40" y1="261.90" x2="675.00" y2="261.90" stroke="#555" stroke-width="0.8"/><text x="676.20" y="265.20" font-size="9.6" text-anchor="start" fill="#111" >-4</text><line x1="672.40" y1="294.70" x2="675.00" y2="294.70" stroke="#555" stroke-width="0.8"/><text x="676.20" y="298.00" font-size="9.6" text-anchor="start" fill="#111" >-6</text><line x1="672.40" y1="327.50" x2="675.00" y2="327.50" stroke="#555" stroke-width="0.8"/><text x="676.20" y="330.80" font-size="9.6" text-anchor="start" fill="#111" >-8</text><text x="506.40" y="206.40" font-size="9" text-anchor="end" fill="#111" >89.8</text><text x="506.40" y="235.60" font-size="9" text-anchor="end" fill="#111" >53.8</text><text x="506.40" y="263.00" font-size="9" text-anchor="end" fill="#111" >17.8</text><text x="506.40" y="296.30" font-size="9" text-anchor="end" fill="#111" >-18.2</text><text x="506.40" y="328.20" font-size="9" text-anchor="end" fill="#111" >-54.2</text><text x="533.90" y="347.00" font-size="9.2" text-anchor="middle" fill="#111" >-15</text><text x="583.90" y="347.00" font-size="9.2" text-anchor="middle" fill="#111" >18.3</text><text x="632.60" y="347.00" font-size="9.2" text-anchor="middle" fill="#111" >51.6</text><text x="586.00" y="358.60" font-size="9.5" text-anchor="middle" fill="#111" >X (nm)</text><text x="0.00" y="0.00" font-size="8.7" text-anchor="middle" fill="#111" transform="translate(484.2,261.3) rotate(-90)">θ (degree)</text><text x="476.00" y="198.50" font-size="14" text-anchor="start" fill="#111" font-weight="bold" >f</text></svg></body></html>
